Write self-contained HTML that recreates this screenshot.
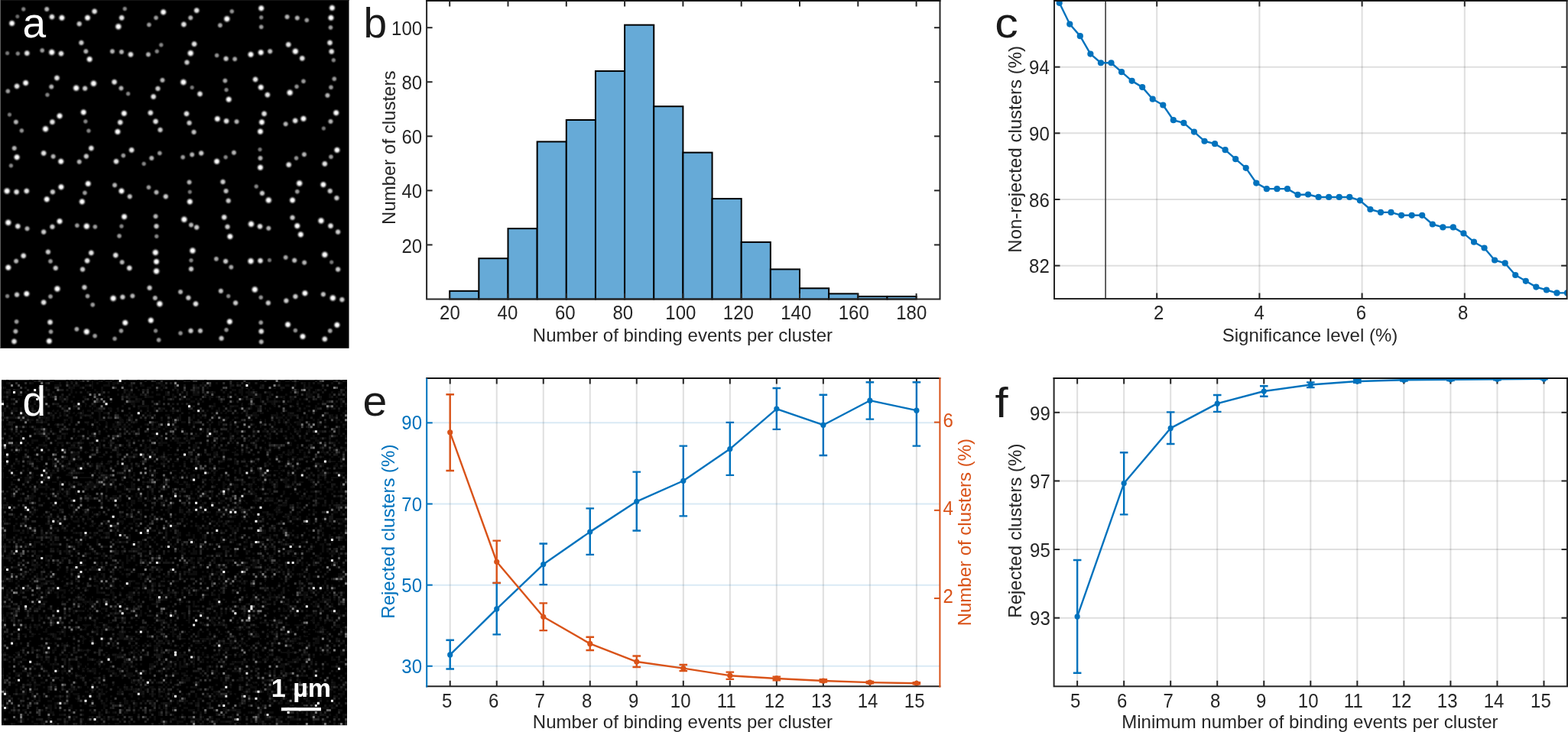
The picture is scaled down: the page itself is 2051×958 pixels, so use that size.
<!DOCTYPE html>
<html><head><meta charset="utf-8"><title>Figure</title>
<style>html,body{margin:0;padding:0;background:#fff;overflow:hidden}svg{display:block}</style></head>
<body><svg width="2051" height="958" viewBox="0 0 2051 958" font-family="'Liberation Sans', Arial, Helvetica, sans-serif">
<rect width="2051" height="958" fill="#fff"/>
<rect x="0" y="0" width="456.5" height="455.8" fill="#000"/>
<rect x="0" y="0" width="456.5" height="1" fill="#151515"/>
<rect x="0" y="0" width="1" height="455.8" fill="#5f5f5f"/>
<g fill="url(#dotg)">
<circle cx="30.73" cy="12" r="4.2" opacity="0.53"/>
<circle cx="22.81" cy="21.61" r="3.95" opacity="0.43"/>
<circle cx="15.61" cy="30.49" r="5.45" opacity="1"/>
<circle cx="61.22" cy="12" r="4.7" opacity="0.72"/>
<circle cx="67.94" cy="22.09" r="5.2" opacity="0.91"/>
<circle cx="80.91" cy="23.29" r="5.45" opacity="1"/>
<circle cx="103.72" cy="31.21" r="4.95" opacity="0.81"/>
<circle cx="114.52" cy="23.29" r="5.45" opacity="1"/>
<circle cx="123.64" cy="14.89" r="5.2" opacity="0.91"/>
<circle cx="163.26" cy="11.52" r="4.2" opacity="0.53"/>
<circle cx="159.18" cy="23.29" r="5.2" opacity="0.91"/>
<circle cx="154.85" cy="34.81" r="5.7" opacity="1"/>
<circle cx="213.67" cy="15.85" r="5.45" opacity="1"/>
<circle cx="204.07" cy="23.29" r="4.45" opacity="0.62"/>
<circle cx="194.95" cy="32.41" r="4.45" opacity="0.62"/>
<circle cx="9.6" cy="69.62" r="4.08" opacity="0.48"/>
<circle cx="23.29" cy="70.1" r="4.2" opacity="0.53"/>
<circle cx="35.29" cy="69.62" r="5.2" opacity="0.91"/>
<circle cx="55.22" cy="66.02" r="4.45" opacity="0.62"/>
<circle cx="67.7" cy="68.42" r="5.7" opacity="1"/>
<circle cx="79.95" cy="70.1" r="5.2" opacity="0.91"/>
<circle cx="106.36" cy="55.94" r="4.95" opacity="0.81"/>
<circle cx="112.36" cy="67.22" r="4.7" opacity="0.72"/>
<circle cx="117.16" cy="77.55" r="5.45" opacity="1"/>
<circle cx="146.93" cy="67.22" r="4.7" opacity="0.72"/>
<circle cx="158.94" cy="67.94" r="4.7" opacity="0.72"/>
<circle cx="170.94" cy="71.3" r="5.2" opacity="0.91"/>
<circle cx="210.79" cy="58.82" r="4.2" opacity="0.53"/>
<circle cx="205.27" cy="67.22" r="4.2" opacity="0.53"/>
<circle cx="193.99" cy="71.3" r="4.7" opacity="0.72"/>
<circle cx="10.32" cy="119.32" r="4.45" opacity="0.62"/>
<circle cx="22.09" cy="112.84" r="5.2" opacity="0.91"/>
<circle cx="33.61" cy="108.52" r="5.45" opacity="1"/>
<circle cx="74.43" cy="102.04" r="5.2" opacity="0.91"/>
<circle cx="67.22" cy="113.56" r="4.7" opacity="0.72"/>
<circle cx="61.94" cy="124.12" r="4.2" opacity="0.53"/>
<circle cx="99.63" cy="115.24" r="5.7" opacity="1"/>
<circle cx="111.16" cy="115.72" r="4.95" opacity="0.81"/>
<circle cx="122.44" cy="109.24" r="5.7" opacity="1"/>
<circle cx="149.57" cy="107.32" r="5.2" opacity="0.91"/>
<circle cx="158.46" cy="115.48" r="4.7" opacity="0.72"/>
<circle cx="167.58" cy="122.68" r="4.2" opacity="0.53"/>
<circle cx="212.47" cy="104.92" r="4.7" opacity="0.72"/>
<circle cx="206.47" cy="115.96" r="4.95" opacity="0.81"/>
<circle cx="200.71" cy="126.52" r="5.2" opacity="0.91"/>
<circle cx="12.48" cy="150.05" r="4.08" opacity="0.48"/>
<circle cx="20.89" cy="159.66" r="4.7" opacity="0.72"/>
<circle cx="28.33" cy="170.94" r="4.33" opacity="0.58"/>
<circle cx="59.54" cy="168.78" r="5.7" opacity="1"/>
<circle cx="68.42" cy="159.66" r="5.2" opacity="0.91"/>
<circle cx="78.03" cy="151.73" r="5.45" opacity="1"/>
<circle cx="109.24" cy="146.93" r="5.45" opacity="1"/>
<circle cx="111.88" cy="158.94" r="4.2" opacity="0.53"/>
<circle cx="115.96" cy="171.18" r="4.2" opacity="0.53"/>
<circle cx="162.3" cy="148.37" r="5.45" opacity="1"/>
<circle cx="157.25" cy="160.14" r="5.2" opacity="0.91"/>
<circle cx="153.89" cy="172.38" r="5.45" opacity="1"/>
<circle cx="196.87" cy="147.65" r="5.2" opacity="0.91"/>
<circle cx="203.59" cy="158.94" r="5.2" opacity="0.91"/>
<circle cx="209.59" cy="169.98" r="4.95" opacity="0.81"/>
<circle cx="18.73" cy="193.99" r="4.7" opacity="0.72"/>
<circle cx="22.09" cy="205.75" r="5.45" opacity="1"/>
<circle cx="14.41" cy="216.8" r="4.2" opacity="0.53"/>
<circle cx="57.14" cy="200.47" r="5.2" opacity="0.91"/>
<circle cx="69.62" cy="204.79" r="4.7" opacity="0.72"/>
<circle cx="79.71" cy="211.27" r="5.45" opacity="1"/>
<circle cx="119.32" cy="193.99" r="5.2" opacity="0.91"/>
<circle cx="112.84" cy="204.55" r="4.95" opacity="0.81"/>
<circle cx="103.72" cy="211.75" r="4.7" opacity="0.72"/>
<circle cx="172.14" cy="196.39" r="5.2" opacity="0.91"/>
<circle cx="161.34" cy="203.59" r="4.45" opacity="0.62"/>
<circle cx="151.97" cy="211.27" r="5.2" opacity="0.91"/>
<circle cx="208.87" cy="200.47" r="4.45" opacity="0.62"/>
<circle cx="198.31" cy="206.95" r="4.7" opacity="0.72"/>
<circle cx="188.23" cy="214.39" r="4.2" opacity="0.53"/>
<circle cx="257.21" cy="13.68" r="5.2" opacity="0.91"/>
<circle cx="249.29" cy="23.29" r="4.7" opacity="0.72"/>
<circle cx="240.41" cy="31.93" r="5.2" opacity="0.91"/>
<circle cx="303.31" cy="14.89" r="4.33" opacity="0.58"/>
<circle cx="296.82" cy="24.73" r="5.7" opacity="1"/>
<circle cx="287.94" cy="33.13" r="4.58" opacity="0.67"/>
<circle cx="341.72" cy="10.8" r="5.45" opacity="1"/>
<circle cx="341.72" cy="22.81" r="4.2" opacity="0.53"/>
<circle cx="341.72" cy="35.29" r="4.45" opacity="0.62"/>
<circle cx="375.57" cy="22.09" r="4.7" opacity="0.72"/>
<circle cx="388.78" cy="23.53" r="4.7" opacity="0.72"/>
<circle cx="401.26" cy="26.41" r="4.45" opacity="0.62"/>
<circle cx="434.39" cy="10.32" r="5.45" opacity="1"/>
<circle cx="432.95" cy="23.29" r="5.45" opacity="1"/>
<circle cx="432.47" cy="36.01" r="4.45" opacity="0.62"/>
<circle cx="254.09" cy="57.62" r="5.2" opacity="0.91"/>
<circle cx="249.29" cy="69.62" r="5.7" opacity="1"/>
<circle cx="244.49" cy="81.63" r="4.95" opacity="0.81"/>
<circle cx="283.62" cy="72.51" r="4.33" opacity="0.58"/>
<circle cx="295.62" cy="76.83" r="4.95" opacity="0.81"/>
<circle cx="307.15" cy="77.31" r="4.58" opacity="0.67"/>
<circle cx="328.04" cy="71.3" r="5.45" opacity="1"/>
<circle cx="341.24" cy="68.66" r="5.45" opacity="1"/>
<circle cx="353.24" cy="67.22" r="4.83" opacity="0.77"/>
<circle cx="377.25" cy="58.34" r="5.2" opacity="0.91"/>
<circle cx="386.38" cy="67.22" r="5.7" opacity="1"/>
<circle cx="395.26" cy="76.35" r="5.2" opacity="0.91"/>
<circle cx="431.51" cy="55.94" r="5.2" opacity="0.91"/>
<circle cx="433.67" cy="67.46" r="5.2" opacity="0.91"/>
<circle cx="436.31" cy="78.75" r="4.2" opacity="0.53"/>
<circle cx="239.92" cy="107.56" r="5.7" opacity="1"/>
<circle cx="251.21" cy="114.52" r="4.08" opacity="0.48"/>
<circle cx="261.53" cy="122.92" r="5.2" opacity="0.91"/>
<circle cx="294.42" cy="105.64" r="4.58" opacity="0.67"/>
<circle cx="296.1" cy="117.64" r="4.2" opacity="0.53"/>
<circle cx="299.23" cy="130.13" r="5.45" opacity="1"/>
<circle cx="334.04" cy="103.96" r="5.2" opacity="0.91"/>
<circle cx="341.24" cy="114.28" r="5.45" opacity="1"/>
<circle cx="349.88" cy="124.12" r="5.2" opacity="0.91"/>
<circle cx="396.94" cy="106.36" r="4.45" opacity="0.62"/>
<circle cx="388.06" cy="113.32" r="4.33" opacity="0.58"/>
<circle cx="379.17" cy="121.24" r="5.7" opacity="1"/>
<circle cx="437.27" cy="103.24" r="4.45" opacity="0.62"/>
<circle cx="432.95" cy="114.28" r="4.45" opacity="0.62"/>
<circle cx="428.39" cy="124.84" r="4.7" opacity="0.72"/>
<circle cx="244.01" cy="148.85" r="5.2" opacity="0.91"/>
<circle cx="247.61" cy="160.86" r="4.95" opacity="0.81"/>
<circle cx="253.61" cy="172.86" r="4.83" opacity="0.77"/>
<circle cx="284.34" cy="155.57" r="5.45" opacity="1"/>
<circle cx="296.1" cy="158.46" r="5.2" opacity="0.91"/>
<circle cx="309.55" cy="159.18" r="4.7" opacity="0.72"/>
<circle cx="345.56" cy="148.85" r="5.2" opacity="0.91"/>
<circle cx="342.44" cy="159.9" r="5.45" opacity="1"/>
<circle cx="340.52" cy="172.14" r="5.45" opacity="1"/>
<circle cx="373.65" cy="162.3" r="4.7" opacity="0.72"/>
<circle cx="386.14" cy="157.97" r="5.2" opacity="0.91"/>
<circle cx="396.94" cy="155.33" r="5.45" opacity="1"/>
<circle cx="439.67" cy="147.65" r="5.45" opacity="1"/>
<circle cx="432.47" cy="158.94" r="4.7" opacity="0.72"/>
<circle cx="423.35" cy="168.06" r="4.08" opacity="0.48"/>
<circle cx="239.2" cy="205.75" r="4.45" opacity="0.62"/>
<circle cx="251.21" cy="202.39" r="4.7" opacity="0.72"/>
<circle cx="263.21" cy="200.47" r="4.95" opacity="0.81"/>
<circle cx="283.62" cy="211.27" r="5.45" opacity="1"/>
<circle cx="295.14" cy="205.75" r="4.2" opacity="0.53"/>
<circle cx="305.95" cy="199.75" r="4.7" opacity="0.72"/>
<circle cx="340.04" cy="195.67" r="4.08" opacity="0.48"/>
<circle cx="340.52" cy="206.95" r="4.7" opacity="0.72"/>
<circle cx="340.52" cy="219.2" r="5.45" opacity="1"/>
<circle cx="377.73" cy="215.59" r="5.2" opacity="0.91"/>
<circle cx="387.58" cy="206.95" r="4.33" opacity="0.58"/>
<circle cx="397.9" cy="202.15" r="4.7" opacity="0.72"/>
<circle cx="440.87" cy="196.39" r="5.45" opacity="1"/>
<circle cx="432.95" cy="205.27" r="4.45" opacity="0.62"/>
<circle cx="424.79" cy="214.39" r="5.2" opacity="0.91"/>
<circle cx="9.12" cy="250.01" r="5.7" opacity="1"/>
<circle cx="21.61" cy="251.21" r="5.2" opacity="0.91"/>
<circle cx="34.81" cy="250.01" r="5.2" opacity="0.91"/>
<circle cx="61.22" cy="260.81" r="5.45" opacity="1"/>
<circle cx="68.9" cy="251.21" r="4.95" opacity="0.81"/>
<circle cx="79.95" cy="244.73" r="5.45" opacity="1"/>
<circle cx="115.24" cy="240.41" r="5.45" opacity="1"/>
<circle cx="110.92" cy="252.41" r="4.45" opacity="0.62"/>
<circle cx="107.32" cy="263.93" r="5.45" opacity="1"/>
<circle cx="150.05" cy="242.33" r="4.7" opacity="0.72"/>
<circle cx="158.94" cy="250.01" r="5.45" opacity="1"/>
<circle cx="169.74" cy="257.21" r="4.83" opacity="0.77"/>
<circle cx="194.47" cy="245.21" r="4.45" opacity="0.62"/>
<circle cx="204.55" cy="251.69" r="4.7" opacity="0.72"/>
<circle cx="216.8" cy="257.21" r="4.95" opacity="0.81"/>
<circle cx="10.8" cy="291.3" r="5.7" opacity="1"/>
<circle cx="23.29" cy="296.1" r="5.2" opacity="0.91"/>
<circle cx="35.53" cy="299.23" r="4.7" opacity="0.72"/>
<circle cx="57.14" cy="303.55" r="4.95" opacity="0.81"/>
<circle cx="68.42" cy="296.82" r="4.95" opacity="0.81"/>
<circle cx="78.03" cy="289.62" r="5.45" opacity="1"/>
<circle cx="100.84" cy="295.14" r="4.45" opacity="0.62"/>
<circle cx="113.32" cy="296.1" r="5.7" opacity="1"/>
<circle cx="124.36" cy="296.82" r="4.45" opacity="0.62"/>
<circle cx="162.54" cy="283.62" r="5.45" opacity="1"/>
<circle cx="158.94" cy="296.1" r="4.2" opacity="0.53"/>
<circle cx="156.05" cy="308.83" r="4.45" opacity="0.62"/>
<circle cx="203.59" cy="283.14" r="4.7" opacity="0.72"/>
<circle cx="204.55" cy="296.1" r="4.95" opacity="0.81"/>
<circle cx="204.79" cy="309.31" r="4.2" opacity="0.53"/>
<circle cx="10.8" cy="350.12" r="5.45" opacity="1"/>
<circle cx="21.13" cy="341.72" r="4.7" opacity="0.72"/>
<circle cx="30.73" cy="334.76" r="5.2" opacity="0.91"/>
<circle cx="62.9" cy="329.72" r="4.95" opacity="0.81"/>
<circle cx="66.02" cy="341.96" r="4.45" opacity="0.62"/>
<circle cx="72.75" cy="350.84" r="4.95" opacity="0.81"/>
<circle cx="119.32" cy="330.92" r="5.2" opacity="0.91"/>
<circle cx="114.04" cy="341.24" r="5.2" opacity="0.91"/>
<circle cx="108.04" cy="352.52" r="4.95" opacity="0.81"/>
<circle cx="151.25" cy="334.04" r="5.2" opacity="0.91"/>
<circle cx="159.66" cy="343.16" r="4.7" opacity="0.72"/>
<circle cx="169.26" cy="350.84" r="5.2" opacity="0.91"/>
<circle cx="203.35" cy="330.44" r="5.7" opacity="1"/>
<circle cx="204.55" cy="342.44" r="5.45" opacity="1"/>
<circle cx="204.55" cy="354.92" r="5.7" opacity="1"/>
<circle cx="9.6" cy="387.58" r="4.2" opacity="0.53"/>
<circle cx="22.09" cy="385.66" r="4.95" opacity="0.81"/>
<circle cx="34.81" cy="384.46" r="5.45" opacity="1"/>
<circle cx="74.91" cy="377.97" r="5.7" opacity="1"/>
<circle cx="66.02" cy="388.06" r="4.45" opacity="0.62"/>
<circle cx="57.14" cy="395.74" r="5.2" opacity="0.91"/>
<circle cx="110.44" cy="376.05" r="4.95" opacity="0.81"/>
<circle cx="114.52" cy="387.58" r="4.45" opacity="0.62"/>
<circle cx="121.24" cy="398.86" r="4.45" opacity="0.62"/>
<circle cx="148.13" cy="390.46" r="5.7" opacity="1"/>
<circle cx="160.38" cy="388.78" r="4.95" opacity="0.81"/>
<circle cx="173.34" cy="387.34" r="4.7" opacity="0.72"/>
<circle cx="195.67" cy="376.77" r="4.95" opacity="0.81"/>
<circle cx="202.87" cy="389.98" r="4.7" opacity="0.72"/>
<circle cx="208.87" cy="397.66" r="5.7" opacity="1"/>
<circle cx="21.61" cy="420.95" r="4.45" opacity="0.62"/>
<circle cx="20.41" cy="433.67" r="4.7" opacity="0.72"/>
<circle cx="18.49" cy="446.88" r="5.2" opacity="0.91"/>
<circle cx="65.54" cy="421.67" r="5.2" opacity="0.91"/>
<circle cx="66.5" cy="434.15" r="4.45" opacity="0.62"/>
<circle cx="64.34" cy="446.4" r="5.45" opacity="1"/>
<circle cx="100.35" cy="430.79" r="4.58" opacity="0.67"/>
<circle cx="113.32" cy="434.15" r="5.7" opacity="1"/>
<circle cx="124.12" cy="439.67" r="4.45" opacity="0.62"/>
<circle cx="163.74" cy="422.39" r="5.45" opacity="1"/>
<circle cx="158.46" cy="432.95" r="4.45" opacity="0.62"/>
<circle cx="150.05" cy="443.28" r="4.33" opacity="0.58"/>
<circle cx="197.35" cy="419.27" r="5.45" opacity="1"/>
<circle cx="203.59" cy="432.95" r="4.2" opacity="0.53"/>
<circle cx="207.67" cy="444.96" r="4.45" opacity="0.62"/>
<circle cx="247.61" cy="238.48" r="4.7" opacity="0.72"/>
<circle cx="248.33" cy="251.21" r="4.08" opacity="0.48"/>
<circle cx="248.33" cy="263.93" r="5.45" opacity="1"/>
<circle cx="291.54" cy="238" r="4.95" opacity="0.81"/>
<circle cx="295.62" cy="250.01" r="4.83" opacity="0.77"/>
<circle cx="298.75" cy="262.73" r="4.95" opacity="0.81"/>
<circle cx="335.24" cy="244.01" r="4.2" opacity="0.53"/>
<circle cx="342.92" cy="252.89" r="4.95" opacity="0.81"/>
<circle cx="351.32" cy="262.01" r="5.7" opacity="1"/>
<circle cx="391.66" cy="239.92" r="5.7" opacity="1"/>
<circle cx="388.78" cy="250.73" r="4.45" opacity="0.62"/>
<circle cx="382.53" cy="262.01" r="5.45" opacity="1"/>
<circle cx="422.87" cy="241.61" r="5.45" opacity="1"/>
<circle cx="431.75" cy="250.01" r="4.95" opacity="0.81"/>
<circle cx="440.39" cy="259.13" r="4.95" opacity="0.81"/>
<circle cx="240.89" cy="287.22" r="5.7" opacity="1"/>
<circle cx="250.01" cy="294.42" r="4.7" opacity="0.72"/>
<circle cx="257.21" cy="297.54" r="4.95" opacity="0.81"/>
<circle cx="293.22" cy="284.34" r="5.2" opacity="0.91"/>
<circle cx="297.54" cy="296.82" r="4.95" opacity="0.81"/>
<circle cx="300.91" cy="309.55" r="5.45" opacity="1"/>
<circle cx="328.52" cy="293.22" r="5.7" opacity="1"/>
<circle cx="340.04" cy="296.34" r="5.2" opacity="0.91"/>
<circle cx="351.32" cy="298.75" r="4.7" opacity="0.72"/>
<circle cx="382.53" cy="284.82" r="4.95" opacity="0.81"/>
<circle cx="388.78" cy="295.62" r="5.45" opacity="1"/>
<circle cx="393.34" cy="306.91" r="5.45" opacity="1"/>
<circle cx="419.99" cy="288.9" r="5.7" opacity="1"/>
<circle cx="432.47" cy="295.62" r="5.2" opacity="0.91"/>
<circle cx="442.08" cy="303.55" r="4.95" opacity="0.81"/>
<circle cx="251.93" cy="328.04" r="5.7" opacity="1"/>
<circle cx="250.01" cy="340.76" r="4.2" opacity="0.53"/>
<circle cx="250.01" cy="352.04" r="4.95" opacity="0.81"/>
<circle cx="282.9" cy="338.84" r="4.58" opacity="0.67"/>
<circle cx="295.14" cy="341.96" r="4.95" opacity="0.81"/>
<circle cx="302.35" cy="349.64" r="4.58" opacity="0.67"/>
<circle cx="328.04" cy="341.72" r="5.7" opacity="1"/>
<circle cx="340.52" cy="341.24" r="5.2" opacity="0.91"/>
<circle cx="352.52" cy="340.52" r="4.08" opacity="0.48"/>
<circle cx="373.65" cy="336.92" r="4.58" opacity="0.67"/>
<circle cx="385.18" cy="340.76" r="4.83" opacity="0.77"/>
<circle cx="398.14" cy="343.64" r="4.7" opacity="0.72"/>
<circle cx="424.79" cy="333.32" r="5.7" opacity="1"/>
<circle cx="433.67" cy="343.16" r="4.08" opacity="0.48"/>
<circle cx="442.08" cy="352.52" r="4.95" opacity="0.81"/>
<circle cx="236.08" cy="382.05" r="4.7" opacity="0.72"/>
<circle cx="246.41" cy="389.74" r="4.95" opacity="0.81"/>
<circle cx="256.01" cy="397.66" r="5.2" opacity="0.91"/>
<circle cx="288.9" cy="380.85" r="4.83" opacity="0.77"/>
<circle cx="298.75" cy="387.58" r="4.2" opacity="0.53"/>
<circle cx="308.11" cy="396.46" r="4.95" opacity="0.81"/>
<circle cx="333.32" cy="378.93" r="5.7" opacity="1"/>
<circle cx="341.24" cy="389.26" r="4.33" opacity="0.58"/>
<circle cx="350.84" cy="396.46" r="4.95" opacity="0.81"/>
<circle cx="374.37" cy="393.58" r="4.95" opacity="0.81"/>
<circle cx="386.38" cy="388.06" r="4.95" opacity="0.81"/>
<circle cx="398.86" cy="383.73" r="5.45" opacity="1"/>
<circle cx="422.87" cy="385.18" r="4.83" opacity="0.77"/>
<circle cx="435.35" cy="389.98" r="5.7" opacity="1"/>
<circle cx="447.36" cy="392.14" r="4.95" opacity="0.81"/>
<circle cx="236.08" cy="436.07" r="4.33" opacity="0.58"/>
<circle cx="249.53" cy="432.95" r="4.95" opacity="0.81"/>
<circle cx="262.01" cy="432.95" r="4.83" opacity="0.77"/>
<circle cx="300.43" cy="420.95" r="5.45" opacity="1"/>
<circle cx="296.1" cy="431.75" r="4.33" opacity="0.58"/>
<circle cx="289.62" cy="442.8" r="4.95" opacity="0.81"/>
<circle cx="341.24" cy="422.15" r="4.45" opacity="0.62"/>
<circle cx="341.72" cy="433.67" r="5.2" opacity="0.91"/>
<circle cx="341.72" cy="447.36" r="4.7" opacity="0.72"/>
<circle cx="376.53" cy="424.79" r="5.45" opacity="1"/>
<circle cx="386.38" cy="432.47" r="4.33" opacity="0.58"/>
<circle cx="395.98" cy="440.39" r="5.45" opacity="1"/>
<circle cx="440.87" cy="425.27" r="5.45" opacity="1"/>
<circle cx="431.75" cy="432.95" r="4.58" opacity="0.67"/>
<circle cx="424.79" cy="443.76" r="5.2" opacity="0.91"/>
</g>
<text x="29.6" y="49" font-size="55" text-anchor="start" fill="#fff">a</text>
<rect x="2" y="497.2" width="452" height="452" fill="#000"/>
<g transform="translate(2 497) scale(3.01333)" filter="url(#blurd)">
<path fill="rgb(4,4,4)" d="M2 0h1v1h-1zM12 0h1v1h-1zM49 0h1v1h-1zM54 0h1v1h-1zM59 0h1v1h-1zM88 0h1v1h-1zM45 1h1v1h-1zM82 1h1v1h-1zM100 1h1v1h-1zM105 1h1v1h-1zM51 2h1v1h-1zM66 2h1v1h-1zM122 2h1v1h-1zM21 3h1v1h-1zM45 3h1v1h-1zM137 3h1v1h-1zM4 4h1v1h-1zM48 4h1v1h-1zM99 4h1v1h-1zM120 4h1v1h-1zM149 4h1v1h-1zM12 5h1v1h-1zM24 5h1v1h-1zM51 5h1v1h-1zM62 5h1v1h-1zM95 5h1v1h-1zM1 6h1v1h-1zM45 6h1v1h-1zM65 6h1v1h-1zM90 6h1v1h-1zM45 7h1v1h-1zM59 7h1v1h-1zM72 7h1v1h-1zM86 7h1v1h-1zM53 8h1v1h-1zM69 8h1v1h-1zM116 8h1v1h-1zM130 8h1v1h-1zM141 8h1v1h-1zM149 8h1v1h-1zM10 9h1v1h-1zM16 9h1v1h-1zM67 9h1v1h-1zM93 9h1v1h-1zM106 9h1v1h-1zM37 10h1v1h-1zM49 10h1v1h-1zM54 10h1v1h-1zM86 10h1v1h-1zM100 10h1v1h-1zM102 10h1v1h-1zM129 10h1v1h-1zM3 11h1v1h-1zM39 11h1v1h-1zM84 11h1v1h-1zM117 11h1v1h-1zM124 11h1v1h-1zM144 11h1v1h-1zM20 12h1v1h-1zM22 12h1v1h-1zM34 12h1v1h-1zM35 12h1v1h-1zM48 12h1v1h-1zM51 12h1v1h-1zM52 12h1v1h-1zM54 12h1v1h-1zM7 13h1v1h-1zM34 13h1v1h-1zM53 13h1v1h-1zM72 13h1v1h-1zM107 13h1v1h-1zM109 13h1v1h-1zM72 14h1v1h-1zM77 14h1v1h-1zM117 14h1v1h-1zM13 15h1v1h-1zM31 15h1v1h-1zM47 15h1v1h-1zM48 15h1v1h-1zM82 15h1v1h-1zM120 15h1v1h-1zM146 15h1v1h-1zM0 16h1v1h-1zM25 16h1v1h-1zM41 16h1v1h-1zM63 16h1v1h-1zM131 16h1v1h-1zM140 16h1v1h-1zM29 17h1v1h-1zM32 17h1v1h-1zM37 17h1v1h-1zM38 17h1v1h-1zM47 17h1v1h-1zM98 17h1v1h-1zM126 17h1v1h-1zM132 17h1v1h-1zM9 18h1v1h-1zM20 18h1v1h-1zM26 18h1v1h-1zM42 18h1v1h-1zM119 18h1v1h-1zM121 18h1v1h-1zM139 18h1v1h-1zM10 19h1v1h-1zM33 19h1v1h-1zM64 19h1v1h-1zM77 19h1v1h-1zM80 19h1v1h-1zM122 19h1v1h-1zM21 20h1v1h-1zM59 20h1v1h-1zM64 20h1v1h-1zM78 20h1v1h-1zM79 20h1v1h-1zM91 20h1v1h-1zM103 20h1v1h-1zM119 20h1v1h-1zM2 21h1v1h-1zM22 21h1v1h-1zM46 22h1v1h-1zM83 22h1v1h-1zM85 22h1v1h-1zM97 22h1v1h-1zM124 22h1v1h-1zM143 22h1v1h-1zM145 22h1v1h-1zM148 22h1v1h-1zM9 23h1v1h-1zM68 23h1v1h-1zM72 23h1v1h-1zM75 23h1v1h-1zM78 23h1v1h-1zM83 23h1v1h-1zM139 23h1v1h-1zM147 23h1v1h-1zM43 24h1v1h-1zM6 25h1v1h-1zM46 25h1v1h-1zM55 25h1v1h-1zM62 25h1v1h-1zM72 25h1v1h-1zM73 25h1v1h-1zM88 25h1v1h-1zM127 25h1v1h-1zM7 26h1v1h-1zM22 26h1v1h-1zM70 26h1v1h-1zM78 26h1v1h-1zM79 26h1v1h-1zM115 26h1v1h-1zM130 26h1v1h-1zM131 26h1v1h-1zM144 26h1v1h-1zM15 27h1v1h-1zM16 27h1v1h-1zM129 27h1v1h-1zM136 27h1v1h-1zM11 28h1v1h-1zM74 28h1v1h-1zM75 28h1v1h-1zM85 28h1v1h-1zM36 29h1v1h-1zM75 29h1v1h-1zM121 29h1v1h-1zM127 29h1v1h-1zM146 29h1v1h-1zM9 30h1v1h-1zM21 30h1v1h-1zM28 30h1v1h-1zM33 30h1v1h-1zM101 30h1v1h-1zM105 30h1v1h-1zM118 30h1v1h-1zM19 31h1v1h-1zM59 31h1v1h-1zM79 31h1v1h-1zM49 32h1v1h-1zM55 32h1v1h-1zM68 32h1v1h-1zM99 32h1v1h-1zM112 32h1v1h-1zM14 33h1v1h-1zM39 33h1v1h-1zM72 33h1v1h-1zM100 33h1v1h-1zM124 33h1v1h-1zM56 34h1v1h-1zM68 34h1v1h-1zM78 34h1v1h-1zM81 34h1v1h-1zM127 34h1v1h-1zM136 34h1v1h-1zM19 35h1v1h-1zM33 35h1v1h-1zM49 35h1v1h-1zM56 35h1v1h-1zM86 35h1v1h-1zM118 35h1v1h-1zM130 35h1v1h-1zM33 36h1v1h-1zM38 36h1v1h-1zM83 36h1v1h-1zM115 36h1v1h-1zM126 36h1v1h-1zM149 36h1v1h-1zM19 37h1v1h-1zM63 37h1v1h-1zM100 37h1v1h-1zM102 37h1v1h-1zM129 37h1v1h-1zM146 37h1v1h-1zM3 38h1v1h-1zM8 38h1v1h-1zM51 38h1v1h-1zM57 38h1v1h-1zM130 38h1v1h-1zM54 39h1v1h-1zM69 39h1v1h-1zM80 39h1v1h-1zM114 39h1v1h-1zM123 39h1v1h-1zM130 39h1v1h-1zM140 39h1v1h-1zM144 39h1v1h-1zM17 40h1v1h-1zM24 40h1v1h-1zM28 40h1v1h-1zM56 40h1v1h-1zM51 41h1v1h-1zM69 41h1v1h-1zM86 41h1v1h-1zM114 41h1v1h-1zM119 41h1v1h-1zM120 41h1v1h-1zM16 42h1v1h-1zM81 42h1v1h-1zM100 42h1v1h-1zM147 42h1v1h-1zM3 43h1v1h-1zM15 43h1v1h-1zM75 43h1v1h-1zM93 43h1v1h-1zM108 43h1v1h-1zM115 43h1v1h-1zM125 43h1v1h-1zM12 44h1v1h-1zM14 44h1v1h-1zM19 44h1v1h-1zM57 44h1v1h-1zM84 44h1v1h-1zM121 44h1v1h-1zM15 45h1v1h-1zM53 45h1v1h-1zM79 45h1v1h-1zM89 45h1v1h-1zM91 45h1v1h-1zM98 45h1v1h-1zM114 45h1v1h-1zM116 45h1v1h-1zM27 46h1v1h-1zM29 46h1v1h-1zM62 46h1v1h-1zM79 46h1v1h-1zM117 46h1v1h-1zM6 47h1v1h-1zM47 47h1v1h-1zM140 47h1v1h-1zM19 48h1v1h-1zM21 48h1v1h-1zM44 48h1v1h-1zM125 48h1v1h-1zM140 48h1v1h-1zM49 49h1v1h-1zM67 49h1v1h-1zM90 49h1v1h-1zM92 49h1v1h-1zM118 49h1v1h-1zM133 49h1v1h-1zM147 49h1v1h-1zM148 49h1v1h-1zM21 50h1v1h-1zM33 50h1v1h-1zM50 50h1v1h-1zM71 50h1v1h-1zM109 50h1v1h-1zM123 50h1v1h-1zM4 51h1v1h-1zM9 51h1v1h-1zM64 51h1v1h-1zM67 51h1v1h-1zM76 51h1v1h-1zM104 51h1v1h-1zM106 51h1v1h-1zM109 51h1v1h-1zM26 52h1v1h-1zM104 52h1v1h-1zM41 53h1v1h-1zM139 53h1v1h-1zM141 53h1v1h-1zM11 54h1v1h-1zM74 54h1v1h-1zM118 54h1v1h-1zM95 55h1v1h-1zM122 55h1v1h-1zM148 55h1v1h-1zM6 56h1v1h-1zM12 56h1v1h-1zM53 56h1v1h-1zM80 56h1v1h-1zM114 56h1v1h-1zM128 56h1v1h-1zM140 56h1v1h-1zM142 56h1v1h-1zM0 57h1v1h-1zM5 57h1v1h-1zM6 57h1v1h-1zM58 57h1v1h-1zM76 57h1v1h-1zM126 57h1v1h-1zM1 58h1v1h-1zM14 58h1v1h-1zM64 58h1v1h-1zM77 58h1v1h-1zM92 58h1v1h-1zM94 58h1v1h-1zM103 58h1v1h-1zM136 58h1v1h-1zM3 59h1v1h-1zM8 59h1v1h-1zM33 59h1v1h-1zM45 59h1v1h-1zM58 59h1v1h-1zM82 59h1v1h-1zM103 59h1v1h-1zM108 59h1v1h-1zM121 59h1v1h-1zM40 60h1v1h-1zM46 60h1v1h-1zM48 60h1v1h-1zM5 61h1v1h-1zM6 61h1v1h-1zM42 61h1v1h-1zM55 61h1v1h-1zM70 61h1v1h-1zM93 61h1v1h-1zM117 61h1v1h-1zM120 61h1v1h-1zM134 61h1v1h-1zM35 62h1v1h-1zM69 62h1v1h-1zM79 62h1v1h-1zM116 62h1v1h-1zM2 63h1v1h-1zM20 63h1v1h-1zM55 63h1v1h-1zM88 63h1v1h-1zM123 63h1v1h-1zM29 64h1v1h-1zM39 64h1v1h-1zM79 64h1v1h-1zM84 64h1v1h-1zM122 64h1v1h-1zM140 64h1v1h-1zM25 65h1v1h-1zM40 65h1v1h-1zM79 65h1v1h-1zM84 65h1v1h-1zM103 65h1v1h-1zM108 65h1v1h-1zM119 65h1v1h-1zM145 65h1v1h-1zM15 66h1v1h-1zM18 66h1v1h-1zM22 66h1v1h-1zM23 66h1v1h-1zM42 66h1v1h-1zM57 66h1v1h-1zM58 66h1v1h-1zM67 66h1v1h-1zM104 66h1v1h-1zM118 66h1v1h-1zM2 67h1v1h-1zM15 67h1v1h-1zM27 67h1v1h-1zM32 67h1v1h-1zM39 67h1v1h-1zM56 67h1v1h-1zM69 67h1v1h-1zM29 68h1v1h-1zM80 68h1v1h-1zM123 68h1v1h-1zM133 68h1v1h-1zM134 68h1v1h-1zM1 69h1v1h-1zM25 69h1v1h-1zM35 69h1v1h-1zM89 69h1v1h-1zM110 69h1v1h-1zM142 69h1v1h-1zM4 70h1v1h-1zM26 70h1v1h-1zM35 70h1v1h-1zM40 70h1v1h-1zM124 70h1v1h-1zM125 70h1v1h-1zM20 71h1v1h-1zM38 71h1v1h-1zM49 71h1v1h-1zM61 71h1v1h-1zM72 71h1v1h-1zM96 71h1v1h-1zM112 71h1v1h-1zM135 71h1v1h-1zM4 72h1v1h-1zM36 72h1v1h-1zM46 72h1v1h-1zM103 72h1v1h-1zM107 72h1v1h-1zM109 72h1v1h-1zM121 72h1v1h-1zM133 72h1v1h-1zM3 73h1v1h-1zM41 73h1v1h-1zM106 73h1v1h-1zM31 74h1v1h-1zM79 74h1v1h-1zM103 74h1v1h-1zM115 74h1v1h-1zM127 74h1v1h-1zM146 74h1v1h-1zM104 75h1v1h-1zM4 76h1v1h-1zM83 76h1v1h-1zM123 76h1v1h-1zM139 76h1v1h-1zM11 77h1v1h-1zM30 77h1v1h-1zM37 77h1v1h-1zM48 77h1v1h-1zM58 77h1v1h-1zM81 77h1v1h-1zM89 77h1v1h-1zM125 77h1v1h-1zM31 78h1v1h-1zM44 78h1v1h-1zM58 78h1v1h-1zM93 78h1v1h-1zM107 78h1v1h-1zM53 79h1v1h-1zM55 79h1v1h-1zM87 79h1v1h-1zM122 79h1v1h-1zM131 79h1v1h-1zM149 79h1v1h-1zM23 80h1v1h-1zM29 80h1v1h-1zM46 80h1v1h-1zM55 80h1v1h-1zM71 80h1v1h-1zM73 80h1v1h-1zM137 80h1v1h-1zM21 81h1v1h-1zM27 81h1v1h-1zM50 81h1v1h-1zM63 81h1v1h-1zM69 81h1v1h-1zM102 81h1v1h-1zM104 81h1v1h-1zM144 81h1v1h-1zM6 82h1v1h-1zM21 82h1v1h-1zM22 82h1v1h-1zM72 82h1v1h-1zM77 82h1v1h-1zM98 82h1v1h-1zM127 82h1v1h-1zM50 83h1v1h-1zM66 83h1v1h-1zM92 83h1v1h-1zM121 83h1v1h-1zM127 83h1v1h-1zM133 83h1v1h-1zM142 83h1v1h-1zM66 84h1v1h-1zM120 84h1v1h-1zM137 84h1v1h-1zM3 85h1v1h-1zM50 85h1v1h-1zM51 85h1v1h-1zM55 85h1v1h-1zM75 85h1v1h-1zM80 85h1v1h-1zM85 85h1v1h-1zM95 85h1v1h-1zM116 85h1v1h-1zM10 86h1v1h-1zM55 86h1v1h-1zM64 86h1v1h-1zM71 86h1v1h-1zM129 86h1v1h-1zM17 87h1v1h-1zM58 87h1v1h-1zM71 87h1v1h-1zM99 87h1v1h-1zM101 87h1v1h-1zM119 87h1v1h-1zM126 87h1v1h-1zM127 87h1v1h-1zM133 87h1v1h-1zM148 87h1v1h-1zM7 88h1v1h-1zM39 88h1v1h-1zM63 88h1v1h-1zM82 88h1v1h-1zM100 88h1v1h-1zM145 88h1v1h-1zM147 88h1v1h-1zM18 89h1v1h-1zM26 89h1v1h-1zM29 89h1v1h-1zM34 89h1v1h-1zM121 89h1v1h-1zM39 90h1v1h-1zM118 90h1v1h-1zM46 91h1v1h-1zM113 91h1v1h-1zM0 92h1v1h-1zM4 92h1v1h-1zM13 92h1v1h-1zM14 92h1v1h-1zM32 92h1v1h-1zM40 92h1v1h-1zM58 92h1v1h-1zM62 92h1v1h-1zM70 92h1v1h-1zM99 92h1v1h-1zM107 92h1v1h-1zM133 92h1v1h-1zM3 93h1v1h-1zM17 93h1v1h-1zM20 93h1v1h-1zM21 93h1v1h-1zM30 93h1v1h-1zM38 93h1v1h-1zM63 93h1v1h-1zM93 93h1v1h-1zM95 93h1v1h-1zM14 94h1v1h-1zM31 94h1v1h-1zM52 94h1v1h-1zM59 94h1v1h-1zM76 94h1v1h-1zM90 94h1v1h-1zM105 94h1v1h-1zM114 94h1v1h-1zM137 94h1v1h-1zM1 95h1v1h-1zM7 95h1v1h-1zM113 95h1v1h-1zM126 95h1v1h-1zM136 95h1v1h-1zM5 96h1v1h-1zM15 96h1v1h-1zM75 96h1v1h-1zM119 96h1v1h-1zM131 96h1v1h-1zM143 96h1v1h-1zM4 97h1v1h-1zM24 97h1v1h-1zM43 97h1v1h-1zM81 97h1v1h-1zM96 97h1v1h-1zM102 97h1v1h-1zM38 98h1v1h-1zM41 98h1v1h-1zM44 98h1v1h-1zM65 98h1v1h-1zM88 98h1v1h-1zM97 98h1v1h-1zM120 98h1v1h-1zM31 99h1v1h-1zM42 99h1v1h-1zM83 99h1v1h-1zM123 99h1v1h-1zM147 99h1v1h-1zM0 100h1v1h-1zM1 100h1v1h-1zM26 100h1v1h-1zM30 100h1v1h-1zM47 100h1v1h-1zM61 100h1v1h-1zM113 100h1v1h-1zM1 101h1v1h-1zM18 101h1v1h-1zM29 101h1v1h-1zM82 101h1v1h-1zM118 101h1v1h-1zM130 101h1v1h-1zM140 101h1v1h-1zM54 102h1v1h-1zM75 102h1v1h-1zM118 102h1v1h-1zM120 102h1v1h-1zM26 103h1v1h-1zM45 103h1v1h-1zM65 103h1v1h-1zM82 103h1v1h-1zM108 103h1v1h-1zM122 103h1v1h-1zM137 103h1v1h-1zM149 103h1v1h-1zM14 104h1v1h-1zM32 104h1v1h-1zM38 104h1v1h-1zM60 104h1v1h-1zM86 104h1v1h-1zM139 104h1v1h-1zM144 104h1v1h-1zM1 105h1v1h-1zM10 105h1v1h-1zM12 105h1v1h-1zM16 105h1v1h-1zM45 105h1v1h-1zM56 105h1v1h-1zM75 105h1v1h-1zM98 105h1v1h-1zM103 105h1v1h-1zM117 105h1v1h-1zM2 106h1v1h-1zM27 106h1v1h-1zM57 106h1v1h-1zM60 106h1v1h-1zM80 106h1v1h-1zM91 106h1v1h-1zM106 106h1v1h-1zM118 106h1v1h-1zM126 106h1v1h-1zM139 106h1v1h-1zM140 106h1v1h-1zM19 107h1v1h-1zM37 107h1v1h-1zM63 107h1v1h-1zM69 107h1v1h-1zM80 107h1v1h-1zM125 107h1v1h-1zM129 107h1v1h-1zM147 107h1v1h-1zM4 108h1v1h-1zM22 108h1v1h-1zM33 108h1v1h-1zM85 108h1v1h-1zM104 108h1v1h-1zM136 108h1v1h-1zM143 108h1v1h-1zM7 109h1v1h-1zM17 109h1v1h-1zM115 109h1v1h-1zM128 109h1v1h-1zM143 109h1v1h-1zM144 109h1v1h-1zM148 109h1v1h-1zM44 110h1v1h-1zM97 110h1v1h-1zM114 110h1v1h-1zM131 110h1v1h-1zM141 110h1v1h-1zM18 111h1v1h-1zM128 111h1v1h-1zM147 111h1v1h-1zM2 112h1v1h-1zM73 112h1v1h-1zM93 112h1v1h-1zM115 112h1v1h-1zM125 112h1v1h-1zM0 113h1v1h-1zM14 113h1v1h-1zM20 113h1v1h-1zM28 113h1v1h-1zM59 113h1v1h-1zM129 113h1v1h-1zM133 113h1v1h-1zM135 113h1v1h-1zM138 113h1v1h-1zM33 114h1v1h-1zM78 114h1v1h-1zM140 114h1v1h-1zM31 115h1v1h-1zM115 115h1v1h-1zM120 115h1v1h-1zM134 115h1v1h-1zM145 115h1v1h-1zM19 116h1v1h-1zM25 116h1v1h-1zM28 116h1v1h-1zM29 116h1v1h-1zM80 116h1v1h-1zM93 116h1v1h-1zM111 116h1v1h-1zM131 116h1v1h-1zM60 117h1v1h-1zM95 117h1v1h-1zM106 117h1v1h-1zM121 117h1v1h-1zM126 117h1v1h-1zM15 118h1v1h-1zM21 118h1v1h-1zM34 118h1v1h-1zM35 118h1v1h-1zM59 118h1v1h-1zM93 118h1v1h-1zM100 118h1v1h-1zM103 118h1v1h-1zM138 118h1v1h-1zM6 119h1v1h-1zM24 119h1v1h-1zM47 119h1v1h-1zM74 119h1v1h-1zM90 119h1v1h-1zM127 119h1v1h-1zM9 120h1v1h-1zM38 120h1v1h-1zM64 120h1v1h-1zM71 120h1v1h-1zM80 120h1v1h-1zM90 120h1v1h-1zM92 120h1v1h-1zM21 121h1v1h-1zM45 121h1v1h-1zM51 121h1v1h-1zM61 121h1v1h-1zM67 121h1v1h-1zM80 121h1v1h-1zM57 122h1v1h-1zM107 122h1v1h-1zM4 123h1v1h-1zM26 123h1v1h-1zM46 123h1v1h-1zM70 123h1v1h-1zM82 123h1v1h-1zM142 123h1v1h-1zM6 124h1v1h-1zM40 124h1v1h-1zM43 124h1v1h-1zM46 124h1v1h-1zM58 124h1v1h-1zM88 124h1v1h-1zM112 124h1v1h-1zM115 124h1v1h-1zM6 125h1v1h-1zM8 125h1v1h-1zM36 125h1v1h-1zM56 125h1v1h-1zM73 125h1v1h-1zM78 125h1v1h-1zM95 125h1v1h-1zM149 125h1v1h-1zM1 126h1v1h-1zM41 126h1v1h-1zM53 126h1v1h-1zM55 126h1v1h-1zM77 126h1v1h-1zM88 126h1v1h-1zM112 126h1v1h-1zM123 126h1v1h-1zM25 127h1v1h-1zM45 127h1v1h-1zM63 127h1v1h-1zM70 127h1v1h-1zM71 127h1v1h-1zM83 127h1v1h-1zM85 127h1v1h-1zM89 127h1v1h-1zM129 127h1v1h-1zM132 127h1v1h-1zM137 127h1v1h-1zM145 127h1v1h-1zM9 128h1v1h-1zM23 128h1v1h-1zM40 128h1v1h-1zM90 128h1v1h-1zM139 128h1v1h-1zM39 129h1v1h-1zM66 129h1v1h-1zM107 129h1v1h-1zM123 129h1v1h-1zM137 129h1v1h-1zM144 129h1v1h-1zM0 130h1v1h-1zM24 130h1v1h-1zM45 130h1v1h-1zM52 130h1v1h-1zM53 130h1v1h-1zM83 130h1v1h-1zM85 130h1v1h-1zM112 130h1v1h-1zM130 130h1v1h-1zM131 130h1v1h-1zM28 131h1v1h-1zM34 131h1v1h-1zM72 131h1v1h-1zM80 131h1v1h-1zM100 131h1v1h-1zM141 131h1v1h-1zM1 132h1v1h-1zM7 132h1v1h-1zM13 132h1v1h-1zM34 132h1v1h-1zM80 132h1v1h-1zM115 132h1v1h-1zM120 132h1v1h-1zM138 132h1v1h-1zM4 133h1v1h-1zM15 133h1v1h-1zM16 133h1v1h-1zM28 133h1v1h-1zM58 133h1v1h-1zM66 133h1v1h-1zM125 133h1v1h-1zM135 133h1v1h-1zM34 134h1v1h-1zM81 134h1v1h-1zM100 134h1v1h-1zM128 134h1v1h-1zM15 135h1v1h-1zM19 135h1v1h-1zM22 135h1v1h-1zM81 135h1v1h-1zM96 135h1v1h-1zM125 135h1v1h-1zM17 136h1v1h-1zM25 136h1v1h-1zM82 136h1v1h-1zM103 136h1v1h-1zM121 136h1v1h-1zM142 136h1v1h-1zM37 137h1v1h-1zM64 137h1v1h-1zM101 137h1v1h-1zM115 137h1v1h-1zM117 137h1v1h-1zM124 137h1v1h-1zM132 137h1v1h-1zM138 137h1v1h-1zM27 138h1v1h-1zM34 138h1v1h-1zM41 138h1v1h-1zM46 138h1v1h-1zM52 138h1v1h-1zM71 138h1v1h-1zM87 138h1v1h-1zM118 138h1v1h-1zM136 138h1v1h-1zM141 138h1v1h-1zM55 139h1v1h-1zM94 139h1v1h-1zM100 139h1v1h-1zM110 139h1v1h-1zM120 139h1v1h-1zM18 140h1v1h-1zM78 140h1v1h-1zM87 140h1v1h-1zM106 140h1v1h-1zM131 140h1v1h-1zM139 140h1v1h-1zM145 140h1v1h-1zM79 141h1v1h-1zM88 141h1v1h-1zM122 141h1v1h-1zM137 141h1v1h-1zM148 141h1v1h-1zM31 142h1v1h-1zM39 142h1v1h-1zM98 142h1v1h-1zM103 142h1v1h-1zM115 142h1v1h-1zM128 142h1v1h-1zM131 142h1v1h-1zM18 143h1v1h-1zM70 143h1v1h-1zM87 143h1v1h-1zM24 144h1v1h-1zM38 144h1v1h-1zM44 144h1v1h-1zM52 144h1v1h-1zM63 144h1v1h-1zM74 144h1v1h-1zM79 144h1v1h-1zM85 144h1v1h-1zM98 144h1v1h-1zM105 144h1v1h-1zM3 145h1v1h-1zM130 145h1v1h-1zM143 145h1v1h-1zM1 146h1v1h-1zM9 146h1v1h-1zM18 146h1v1h-1zM37 146h1v1h-1zM74 146h1v1h-1zM80 146h1v1h-1zM92 146h1v1h-1zM0 147h1v1h-1zM92 147h1v1h-1zM96 147h1v1h-1zM105 147h1v1h-1zM0 148h1v1h-1zM1 148h1v1h-1zM6 148h1v1h-1zM35 148h1v1h-1zM39 148h1v1h-1zM40 148h1v1h-1zM86 148h1v1h-1zM127 148h1v1h-1zM35 149h1v1h-1zM42 149h1v1h-1zM69 149h1v1h-1zM138 149h1v1h-1z"/>
<path fill="rgb(13,13,13)" d="M15 0h1v1h-1zM21 0h1v1h-1zM22 0h1v1h-1zM28 0h1v1h-1zM30 0h1v1h-1zM32 0h1v1h-1zM34 0h1v1h-1zM39 0h1v1h-1zM42 0h1v1h-1zM45 0h1v1h-1zM46 0h1v1h-1zM50 0h1v1h-1zM75 0h1v1h-1zM80 0h1v1h-1zM81 0h1v1h-1zM112 0h1v1h-1zM120 0h1v1h-1zM123 0h1v1h-1zM124 0h1v1h-1zM128 0h1v1h-1zM146 0h1v1h-1zM149 0h1v1h-1zM2 1h1v1h-1zM13 1h1v1h-1zM25 1h1v1h-1zM39 1h1v1h-1zM41 1h1v1h-1zM46 1h1v1h-1zM48 1h1v1h-1zM49 1h1v1h-1zM51 1h1v1h-1zM53 1h1v1h-1zM67 1h1v1h-1zM69 1h1v1h-1zM87 1h1v1h-1zM93 1h1v1h-1zM102 1h1v1h-1zM120 1h1v1h-1zM127 1h1v1h-1zM131 1h1v1h-1zM133 1h1v1h-1zM137 1h1v1h-1zM138 1h1v1h-1zM143 1h1v1h-1zM147 1h1v1h-1zM23 2h1v1h-1zM24 2h1v1h-1zM29 2h1v1h-1zM32 2h1v1h-1zM33 2h1v1h-1zM36 2h1v1h-1zM37 2h1v1h-1zM39 2h1v1h-1zM44 2h1v1h-1zM45 2h1v1h-1zM46 2h1v1h-1zM48 2h1v1h-1zM52 2h1v1h-1zM55 2h1v1h-1zM60 2h1v1h-1zM61 2h1v1h-1zM65 2h1v1h-1zM69 2h1v1h-1zM70 2h1v1h-1zM84 2h1v1h-1zM87 2h1v1h-1zM112 2h1v1h-1zM119 2h1v1h-1zM123 2h1v1h-1zM124 2h1v1h-1zM133 2h1v1h-1zM1 3h1v1h-1zM30 3h1v1h-1zM31 3h1v1h-1zM34 3h1v1h-1zM39 3h1v1h-1zM43 3h1v1h-1zM56 3h1v1h-1zM63 3h1v1h-1zM64 3h1v1h-1zM68 3h1v1h-1zM70 3h1v1h-1zM89 3h1v1h-1zM99 3h1v1h-1zM108 3h1v1h-1zM118 3h1v1h-1zM132 3h1v1h-1zM133 3h1v1h-1zM134 3h1v1h-1zM139 3h1v1h-1zM149 3h1v1h-1zM2 4h1v1h-1zM6 4h1v1h-1zM7 4h1v1h-1zM16 4h1v1h-1zM30 4h1v1h-1zM36 4h1v1h-1zM40 4h1v1h-1zM43 4h1v1h-1zM50 4h1v1h-1zM54 4h1v1h-1zM59 4h1v1h-1zM62 4h1v1h-1zM69 4h1v1h-1zM84 4h1v1h-1zM85 4h1v1h-1zM97 4h1v1h-1zM100 4h1v1h-1zM101 4h1v1h-1zM103 4h1v1h-1zM104 4h1v1h-1zM107 4h1v1h-1zM109 4h1v1h-1zM121 4h1v1h-1zM128 4h1v1h-1zM136 4h1v1h-1zM138 4h1v1h-1zM1 5h1v1h-1zM7 5h1v1h-1zM10 5h1v1h-1zM13 5h1v1h-1zM15 5h1v1h-1zM20 5h1v1h-1zM30 5h1v1h-1zM32 5h1v1h-1zM38 5h1v1h-1zM41 5h1v1h-1zM43 5h1v1h-1zM55 5h1v1h-1zM56 5h1v1h-1zM65 5h1v1h-1zM71 5h1v1h-1zM76 5h1v1h-1zM84 5h1v1h-1zM88 5h1v1h-1zM90 5h1v1h-1zM92 5h1v1h-1zM103 5h1v1h-1zM104 5h1v1h-1zM106 5h1v1h-1zM107 5h1v1h-1zM115 5h1v1h-1zM116 5h1v1h-1zM119 5h1v1h-1zM125 5h1v1h-1zM132 5h1v1h-1zM133 5h1v1h-1zM136 5h1v1h-1zM143 5h1v1h-1zM146 5h1v1h-1zM149 5h1v1h-1zM2 6h1v1h-1zM3 6h1v1h-1zM16 6h1v1h-1zM17 6h1v1h-1zM21 6h1v1h-1zM23 6h1v1h-1zM43 6h1v1h-1zM50 6h1v1h-1zM52 6h1v1h-1zM54 6h1v1h-1zM57 6h1v1h-1zM61 6h1v1h-1zM63 6h1v1h-1zM67 6h1v1h-1zM68 6h1v1h-1zM71 6h1v1h-1zM74 6h1v1h-1zM83 6h1v1h-1zM84 6h1v1h-1zM85 6h1v1h-1zM89 6h1v1h-1zM98 6h1v1h-1zM104 6h1v1h-1zM107 6h1v1h-1zM108 6h1v1h-1zM109 6h1v1h-1zM111 6h1v1h-1zM112 6h1v1h-1zM116 6h1v1h-1zM123 6h1v1h-1zM128 6h1v1h-1zM133 6h1v1h-1zM134 6h1v1h-1zM142 6h1v1h-1zM147 6h1v1h-1zM149 6h1v1h-1zM0 7h1v1h-1zM1 7h1v1h-1zM15 7h1v1h-1zM19 7h1v1h-1zM21 7h1v1h-1zM26 7h1v1h-1zM31 7h1v1h-1zM35 7h1v1h-1zM36 7h1v1h-1zM41 7h1v1h-1zM44 7h1v1h-1zM53 7h1v1h-1zM55 7h1v1h-1zM56 7h1v1h-1zM57 7h1v1h-1zM58 7h1v1h-1zM63 7h1v1h-1zM64 7h1v1h-1zM65 7h1v1h-1zM74 7h1v1h-1zM82 7h1v1h-1zM90 7h1v1h-1zM91 7h1v1h-1zM93 7h1v1h-1zM96 7h1v1h-1zM102 7h1v1h-1zM105 7h1v1h-1zM109 7h1v1h-1zM110 7h1v1h-1zM111 7h1v1h-1zM112 7h1v1h-1zM116 7h1v1h-1zM120 7h1v1h-1zM122 7h1v1h-1zM126 7h1v1h-1zM132 7h1v1h-1zM134 7h1v1h-1zM142 7h1v1h-1zM145 7h1v1h-1zM149 7h1v1h-1zM2 8h1v1h-1zM7 8h1v1h-1zM10 8h1v1h-1zM11 8h1v1h-1zM17 8h1v1h-1zM19 8h1v1h-1zM25 8h1v1h-1zM26 8h1v1h-1zM39 8h1v1h-1zM42 8h1v1h-1zM54 8h1v1h-1zM59 8h1v1h-1zM60 8h1v1h-1zM70 8h1v1h-1zM78 8h1v1h-1zM80 8h1v1h-1zM81 8h1v1h-1zM84 8h1v1h-1zM90 8h1v1h-1zM107 8h1v1h-1zM109 8h1v1h-1zM112 8h1v1h-1zM118 8h1v1h-1zM122 8h1v1h-1zM125 8h1v1h-1zM126 8h1v1h-1zM129 8h1v1h-1zM131 8h1v1h-1zM138 8h1v1h-1zM146 8h1v1h-1zM148 8h1v1h-1zM12 9h1v1h-1zM14 9h1v1h-1zM28 9h1v1h-1zM33 9h1v1h-1zM47 9h1v1h-1zM58 9h1v1h-1zM59 9h1v1h-1zM82 9h1v1h-1zM83 9h1v1h-1zM85 9h1v1h-1zM87 9h1v1h-1zM100 9h1v1h-1zM112 9h1v1h-1zM115 9h1v1h-1zM116 9h1v1h-1zM117 9h1v1h-1zM120 9h1v1h-1zM125 9h1v1h-1zM128 9h1v1h-1zM139 9h1v1h-1zM147 9h1v1h-1zM2 10h1v1h-1zM4 10h1v1h-1zM10 10h1v1h-1zM17 10h1v1h-1zM31 10h1v1h-1zM36 10h1v1h-1zM40 10h1v1h-1zM44 10h1v1h-1zM53 10h1v1h-1zM56 10h1v1h-1zM57 10h1v1h-1zM68 10h1v1h-1zM78 10h1v1h-1zM81 10h1v1h-1zM92 10h1v1h-1zM98 10h1v1h-1zM104 10h1v1h-1zM107 10h1v1h-1zM113 10h1v1h-1zM117 10h1v1h-1zM122 10h1v1h-1zM123 10h1v1h-1zM130 10h1v1h-1zM137 10h1v1h-1zM144 10h1v1h-1zM147 10h1v1h-1zM0 11h1v1h-1zM11 11h1v1h-1zM12 11h1v1h-1zM13 11h1v1h-1zM15 11h1v1h-1zM17 11h1v1h-1zM24 11h1v1h-1zM27 11h1v1h-1zM28 11h1v1h-1zM33 11h1v1h-1zM34 11h1v1h-1zM36 11h1v1h-1zM40 11h1v1h-1zM52 11h1v1h-1zM60 11h1v1h-1zM61 11h1v1h-1zM62 11h1v1h-1zM63 11h1v1h-1zM65 11h1v1h-1zM73 11h1v1h-1zM92 11h1v1h-1zM101 11h1v1h-1zM102 11h1v1h-1zM104 11h1v1h-1zM108 11h1v1h-1zM110 11h1v1h-1zM111 11h1v1h-1zM118 11h1v1h-1zM126 11h1v1h-1zM128 11h1v1h-1zM132 11h1v1h-1zM136 11h1v1h-1zM145 11h1v1h-1zM149 11h1v1h-1zM3 12h1v1h-1zM5 12h1v1h-1zM6 12h1v1h-1zM8 12h1v1h-1zM27 12h1v1h-1zM31 12h1v1h-1zM39 12h1v1h-1zM41 12h1v1h-1zM46 12h1v1h-1zM47 12h1v1h-1zM59 12h1v1h-1zM63 12h1v1h-1zM66 12h1v1h-1zM69 12h1v1h-1zM77 12h1v1h-1zM91 12h1v1h-1zM94 12h1v1h-1zM99 12h1v1h-1zM103 12h1v1h-1zM106 12h1v1h-1zM108 12h1v1h-1zM114 12h1v1h-1zM116 12h1v1h-1zM131 12h1v1h-1zM136 12h1v1h-1zM143 12h1v1h-1zM1 13h1v1h-1zM5 13h1v1h-1zM16 13h1v1h-1zM18 13h1v1h-1zM22 13h1v1h-1zM24 13h1v1h-1zM29 13h1v1h-1zM35 13h1v1h-1zM37 13h1v1h-1zM38 13h1v1h-1zM40 13h1v1h-1zM41 13h1v1h-1zM42 13h1v1h-1zM50 13h1v1h-1zM66 13h1v1h-1zM68 13h1v1h-1zM69 13h1v1h-1zM73 13h1v1h-1zM75 13h1v1h-1zM77 13h1v1h-1zM83 13h1v1h-1zM86 13h1v1h-1zM89 13h1v1h-1zM94 13h1v1h-1zM115 13h1v1h-1zM128 13h1v1h-1zM129 13h1v1h-1zM136 13h1v1h-1zM146 13h1v1h-1zM11 14h1v1h-1zM17 14h1v1h-1zM18 14h1v1h-1zM25 14h1v1h-1zM27 14h1v1h-1zM29 14h1v1h-1zM31 14h1v1h-1zM33 14h1v1h-1zM35 14h1v1h-1zM42 14h1v1h-1zM44 14h1v1h-1zM45 14h1v1h-1zM49 14h1v1h-1zM55 14h1v1h-1zM62 14h1v1h-1zM64 14h1v1h-1zM74 14h1v1h-1zM81 14h1v1h-1zM86 14h1v1h-1zM88 14h1v1h-1zM95 14h1v1h-1zM97 14h1v1h-1zM102 14h1v1h-1zM104 14h1v1h-1zM109 14h1v1h-1zM110 14h1v1h-1zM112 14h1v1h-1zM113 14h1v1h-1zM119 14h1v1h-1zM121 14h1v1h-1zM124 14h1v1h-1zM148 14h1v1h-1zM149 14h1v1h-1zM5 15h1v1h-1zM7 15h1v1h-1zM8 15h1v1h-1zM9 15h1v1h-1zM15 15h1v1h-1zM17 15h1v1h-1zM18 15h1v1h-1zM21 15h1v1h-1zM27 15h1v1h-1zM32 15h1v1h-1zM34 15h1v1h-1zM35 15h1v1h-1zM42 15h1v1h-1zM46 15h1v1h-1zM53 15h1v1h-1zM71 15h1v1h-1zM72 15h1v1h-1zM77 15h1v1h-1zM83 15h1v1h-1zM85 15h1v1h-1zM109 15h1v1h-1zM110 15h1v1h-1zM111 15h1v1h-1zM118 15h1v1h-1zM119 15h1v1h-1zM124 15h1v1h-1zM125 15h1v1h-1zM126 15h1v1h-1zM132 15h1v1h-1zM140 15h1v1h-1zM143 15h1v1h-1zM147 15h1v1h-1zM3 16h1v1h-1zM4 16h1v1h-1zM5 16h1v1h-1zM11 16h1v1h-1zM17 16h1v1h-1zM18 16h1v1h-1zM20 16h1v1h-1zM29 16h1v1h-1zM30 16h1v1h-1zM38 16h1v1h-1zM39 16h1v1h-1zM42 16h1v1h-1zM51 16h1v1h-1zM56 16h1v1h-1zM64 16h1v1h-1zM66 16h1v1h-1zM73 16h1v1h-1zM77 16h1v1h-1zM83 16h1v1h-1zM86 16h1v1h-1zM88 16h1v1h-1zM92 16h1v1h-1zM95 16h1v1h-1zM97 16h1v1h-1zM98 16h1v1h-1zM102 16h1v1h-1zM120 16h1v1h-1zM121 16h1v1h-1zM123 16h1v1h-1zM125 16h1v1h-1zM130 16h1v1h-1zM132 16h1v1h-1zM138 16h1v1h-1zM143 16h1v1h-1zM144 16h1v1h-1zM148 16h1v1h-1zM9 17h1v1h-1zM10 17h1v1h-1zM12 17h1v1h-1zM13 17h1v1h-1zM16 17h1v1h-1zM19 17h1v1h-1zM20 17h1v1h-1zM22 17h1v1h-1zM28 17h1v1h-1zM30 17h1v1h-1zM40 17h1v1h-1zM42 17h1v1h-1zM43 17h1v1h-1zM44 17h1v1h-1zM51 17h1v1h-1zM52 17h1v1h-1zM54 17h1v1h-1zM62 17h1v1h-1zM69 17h1v1h-1zM72 17h1v1h-1zM74 17h1v1h-1zM77 17h1v1h-1zM82 17h1v1h-1zM95 17h1v1h-1zM97 17h1v1h-1zM100 17h1v1h-1zM107 17h1v1h-1zM112 17h1v1h-1zM114 17h1v1h-1zM122 17h1v1h-1zM129 17h1v1h-1zM130 17h1v1h-1zM135 17h1v1h-1zM137 17h1v1h-1zM145 17h1v1h-1zM146 17h1v1h-1zM12 18h1v1h-1zM18 18h1v1h-1zM19 18h1v1h-1zM27 18h1v1h-1zM30 18h1v1h-1zM40 18h1v1h-1zM45 18h1v1h-1zM49 18h1v1h-1zM52 18h1v1h-1zM58 18h1v1h-1zM67 18h1v1h-1zM74 18h1v1h-1zM78 18h1v1h-1zM79 18h1v1h-1zM83 18h1v1h-1zM94 18h1v1h-1zM95 18h1v1h-1zM99 18h1v1h-1zM102 18h1v1h-1zM103 18h1v1h-1zM114 18h1v1h-1zM118 18h1v1h-1zM122 18h1v1h-1zM124 18h1v1h-1zM128 18h1v1h-1zM129 18h1v1h-1zM133 18h1v1h-1zM140 18h1v1h-1zM145 18h1v1h-1zM147 18h1v1h-1zM2 19h1v1h-1zM23 19h1v1h-1zM37 19h1v1h-1zM42 19h1v1h-1zM45 19h1v1h-1zM48 19h1v1h-1zM62 19h1v1h-1zM71 19h1v1h-1zM81 19h1v1h-1zM83 19h1v1h-1zM94 19h1v1h-1zM109 19h1v1h-1zM112 19h1v1h-1zM118 19h1v1h-1zM123 19h1v1h-1zM125 19h1v1h-1zM128 19h1v1h-1zM129 19h1v1h-1zM137 19h1v1h-1zM138 19h1v1h-1zM149 19h1v1h-1zM0 20h1v1h-1zM4 20h1v1h-1zM7 20h1v1h-1zM8 20h1v1h-1zM10 20h1v1h-1zM12 20h1v1h-1zM14 20h1v1h-1zM17 20h1v1h-1zM39 20h1v1h-1zM41 20h1v1h-1zM48 20h1v1h-1zM49 20h1v1h-1zM50 20h1v1h-1zM52 20h1v1h-1zM53 20h1v1h-1zM54 20h1v1h-1zM56 20h1v1h-1zM60 20h1v1h-1zM65 20h1v1h-1zM67 20h1v1h-1zM71 20h1v1h-1zM74 20h1v1h-1zM76 20h1v1h-1zM90 20h1v1h-1zM96 20h1v1h-1zM99 20h1v1h-1zM105 20h1v1h-1zM110 20h1v1h-1zM112 20h1v1h-1zM124 20h1v1h-1zM126 20h1v1h-1zM137 20h1v1h-1zM141 20h1v1h-1zM148 20h1v1h-1zM3 21h1v1h-1zM16 21h1v1h-1zM19 21h1v1h-1zM21 21h1v1h-1zM25 21h1v1h-1zM29 21h1v1h-1zM34 21h1v1h-1zM41 21h1v1h-1zM44 21h1v1h-1zM55 21h1v1h-1zM66 21h1v1h-1zM67 21h1v1h-1zM70 21h1v1h-1zM73 21h1v1h-1zM82 21h1v1h-1zM85 21h1v1h-1zM87 21h1v1h-1zM99 21h1v1h-1zM101 21h1v1h-1zM109 21h1v1h-1zM116 21h1v1h-1zM117 21h1v1h-1zM118 21h1v1h-1zM124 21h1v1h-1zM129 21h1v1h-1zM133 21h1v1h-1zM146 21h1v1h-1zM4 22h1v1h-1zM15 22h1v1h-1zM19 22h1v1h-1zM37 22h1v1h-1zM45 22h1v1h-1zM49 22h1v1h-1zM53 22h1v1h-1zM68 22h1v1h-1zM72 22h1v1h-1zM79 22h1v1h-1zM87 22h1v1h-1zM98 22h1v1h-1zM101 22h1v1h-1zM102 22h1v1h-1zM103 22h1v1h-1zM110 22h1v1h-1zM113 22h1v1h-1zM114 22h1v1h-1zM120 22h1v1h-1zM128 22h1v1h-1zM129 22h1v1h-1zM132 22h1v1h-1zM133 22h1v1h-1zM137 22h1v1h-1zM138 22h1v1h-1zM142 22h1v1h-1zM146 22h1v1h-1zM5 23h1v1h-1zM15 23h1v1h-1zM19 23h1v1h-1zM23 23h1v1h-1zM28 23h1v1h-1zM37 23h1v1h-1zM50 23h1v1h-1zM57 23h1v1h-1zM65 23h1v1h-1zM86 23h1v1h-1zM91 23h1v1h-1zM93 23h1v1h-1zM99 23h1v1h-1zM102 23h1v1h-1zM109 23h1v1h-1zM110 23h1v1h-1zM115 23h1v1h-1zM125 23h1v1h-1zM143 23h1v1h-1zM146 23h1v1h-1zM6 24h1v1h-1zM8 24h1v1h-1zM17 24h1v1h-1zM18 24h1v1h-1zM24 24h1v1h-1zM27 24h1v1h-1zM31 24h1v1h-1zM33 24h1v1h-1zM34 24h1v1h-1zM39 24h1v1h-1zM58 24h1v1h-1zM63 24h1v1h-1zM66 24h1v1h-1zM67 24h1v1h-1zM73 24h1v1h-1zM75 24h1v1h-1zM80 24h1v1h-1zM83 24h1v1h-1zM84 24h1v1h-1zM85 24h1v1h-1zM91 24h1v1h-1zM94 24h1v1h-1zM112 24h1v1h-1zM116 24h1v1h-1zM122 24h1v1h-1zM123 24h1v1h-1zM126 24h1v1h-1zM131 24h1v1h-1zM135 24h1v1h-1zM145 24h1v1h-1zM147 24h1v1h-1zM149 24h1v1h-1zM3 25h1v1h-1zM8 25h1v1h-1zM19 25h1v1h-1zM27 25h1v1h-1zM32 25h1v1h-1zM40 25h1v1h-1zM44 25h1v1h-1zM45 25h1v1h-1zM49 25h1v1h-1zM53 25h1v1h-1zM56 25h1v1h-1zM64 25h1v1h-1zM65 25h1v1h-1zM66 25h1v1h-1zM68 25h1v1h-1zM69 25h1v1h-1zM75 25h1v1h-1zM77 25h1v1h-1zM80 25h1v1h-1zM95 25h1v1h-1zM97 25h1v1h-1zM102 25h1v1h-1zM103 25h1v1h-1zM106 25h1v1h-1zM108 25h1v1h-1zM115 25h1v1h-1zM119 25h1v1h-1zM125 25h1v1h-1zM126 25h1v1h-1zM129 25h1v1h-1zM131 25h1v1h-1zM134 25h1v1h-1zM135 25h1v1h-1zM136 25h1v1h-1zM138 25h1v1h-1zM140 25h1v1h-1zM2 26h1v1h-1zM10 26h1v1h-1zM13 26h1v1h-1zM14 26h1v1h-1zM15 26h1v1h-1zM19 26h1v1h-1zM34 26h1v1h-1zM40 26h1v1h-1zM43 26h1v1h-1zM50 26h1v1h-1zM55 26h1v1h-1zM57 26h1v1h-1zM63 26h1v1h-1zM67 26h1v1h-1zM69 26h1v1h-1zM73 26h1v1h-1zM75 26h1v1h-1zM76 26h1v1h-1zM81 26h1v1h-1zM93 26h1v1h-1zM95 26h1v1h-1zM101 26h1v1h-1zM107 26h1v1h-1zM111 26h1v1h-1zM127 26h1v1h-1zM136 26h1v1h-1zM137 26h1v1h-1zM142 26h1v1h-1zM145 26h1v1h-1zM0 27h1v1h-1zM6 27h1v1h-1zM9 27h1v1h-1zM13 27h1v1h-1zM18 27h1v1h-1zM24 27h1v1h-1zM25 27h1v1h-1zM26 27h1v1h-1zM31 27h1v1h-1zM32 27h1v1h-1zM35 27h1v1h-1zM42 27h1v1h-1zM46 27h1v1h-1zM61 27h1v1h-1zM69 27h1v1h-1zM70 27h1v1h-1zM71 27h1v1h-1zM76 27h1v1h-1zM77 27h1v1h-1zM79 27h1v1h-1zM85 27h1v1h-1zM89 27h1v1h-1zM91 27h1v1h-1zM100 27h1v1h-1zM110 27h1v1h-1zM114 27h1v1h-1zM123 27h1v1h-1zM125 27h1v1h-1zM135 27h1v1h-1zM144 27h1v1h-1zM146 27h1v1h-1zM5 28h1v1h-1zM6 28h1v1h-1zM12 28h1v1h-1zM16 28h1v1h-1zM17 28h1v1h-1zM24 28h1v1h-1zM38 28h1v1h-1zM40 28h1v1h-1zM42 28h1v1h-1zM49 28h1v1h-1zM50 28h1v1h-1zM54 28h1v1h-1zM62 28h1v1h-1zM64 28h1v1h-1zM68 28h1v1h-1zM69 28h1v1h-1zM83 28h1v1h-1zM84 28h1v1h-1zM89 28h1v1h-1zM102 28h1v1h-1zM109 28h1v1h-1zM124 28h1v1h-1zM125 28h1v1h-1zM128 28h1v1h-1zM139 28h1v1h-1zM8 29h1v1h-1zM13 29h1v1h-1zM19 29h1v1h-1zM23 29h1v1h-1zM29 29h1v1h-1zM30 29h1v1h-1zM31 29h1v1h-1zM32 29h1v1h-1zM33 29h1v1h-1zM42 29h1v1h-1zM44 29h1v1h-1zM45 29h1v1h-1zM46 29h1v1h-1zM53 29h1v1h-1zM55 29h1v1h-1zM56 29h1v1h-1zM58 29h1v1h-1zM62 29h1v1h-1zM63 29h1v1h-1zM64 29h1v1h-1zM67 29h1v1h-1zM73 29h1v1h-1zM76 29h1v1h-1zM83 29h1v1h-1zM84 29h1v1h-1zM92 29h1v1h-1zM101 29h1v1h-1zM104 29h1v1h-1zM107 29h1v1h-1zM114 29h1v1h-1zM116 29h1v1h-1zM118 29h1v1h-1zM119 29h1v1h-1zM131 29h1v1h-1zM140 29h1v1h-1zM143 29h1v1h-1zM145 29h1v1h-1zM148 29h1v1h-1zM149 29h1v1h-1zM8 30h1v1h-1zM11 30h1v1h-1zM29 30h1v1h-1zM38 30h1v1h-1zM50 30h1v1h-1zM52 30h1v1h-1zM54 30h1v1h-1zM57 30h1v1h-1zM61 30h1v1h-1zM62 30h1v1h-1zM65 30h1v1h-1zM66 30h1v1h-1zM67 30h1v1h-1zM72 30h1v1h-1zM78 30h1v1h-1zM80 30h1v1h-1zM91 30h1v1h-1zM98 30h1v1h-1zM102 30h1v1h-1zM106 30h1v1h-1zM112 30h1v1h-1zM114 30h1v1h-1zM115 30h1v1h-1zM120 30h1v1h-1zM124 30h1v1h-1zM129 30h1v1h-1zM130 30h1v1h-1zM139 30h1v1h-1zM146 30h1v1h-1zM0 31h1v1h-1zM5 31h1v1h-1zM7 31h1v1h-1zM11 31h1v1h-1zM17 31h1v1h-1zM24 31h1v1h-1zM32 31h1v1h-1zM37 31h1v1h-1zM42 31h1v1h-1zM47 31h1v1h-1zM62 31h1v1h-1zM67 31h1v1h-1zM70 31h1v1h-1zM84 31h1v1h-1zM92 31h1v1h-1zM96 31h1v1h-1zM100 31h1v1h-1zM101 31h1v1h-1zM106 31h1v1h-1zM116 31h1v1h-1zM124 31h1v1h-1zM125 31h1v1h-1zM129 31h1v1h-1zM131 31h1v1h-1zM138 31h1v1h-1zM139 31h1v1h-1zM140 31h1v1h-1zM143 31h1v1h-1zM0 32h1v1h-1zM6 32h1v1h-1zM14 32h1v1h-1zM16 32h1v1h-1zM30 32h1v1h-1zM31 32h1v1h-1zM32 32h1v1h-1zM33 32h1v1h-1zM38 32h1v1h-1zM64 32h1v1h-1zM72 32h1v1h-1zM73 32h1v1h-1zM76 32h1v1h-1zM92 32h1v1h-1zM96 32h1v1h-1zM104 32h1v1h-1zM120 32h1v1h-1zM121 32h1v1h-1zM123 32h1v1h-1zM125 32h1v1h-1zM128 32h1v1h-1zM131 32h1v1h-1zM140 32h1v1h-1zM1 33h1v1h-1zM9 33h1v1h-1zM12 33h1v1h-1zM20 33h1v1h-1zM22 33h1v1h-1zM28 33h1v1h-1zM30 33h1v1h-1zM31 33h1v1h-1zM42 33h1v1h-1zM43 33h1v1h-1zM54 33h1v1h-1zM58 33h1v1h-1zM65 33h1v1h-1zM66 33h1v1h-1zM68 33h1v1h-1zM71 33h1v1h-1zM77 33h1v1h-1zM78 33h1v1h-1zM79 33h1v1h-1zM80 33h1v1h-1zM81 33h1v1h-1zM93 33h1v1h-1zM94 33h1v1h-1zM115 33h1v1h-1zM126 33h1v1h-1zM127 33h1v1h-1zM133 33h1v1h-1zM137 33h1v1h-1zM139 33h1v1h-1zM143 33h1v1h-1zM146 33h1v1h-1zM9 34h1v1h-1zM12 34h1v1h-1zM14 34h1v1h-1zM15 34h1v1h-1zM21 34h1v1h-1zM22 34h1v1h-1zM24 34h1v1h-1zM25 34h1v1h-1zM27 34h1v1h-1zM28 34h1v1h-1zM30 34h1v1h-1zM32 34h1v1h-1zM33 34h1v1h-1zM55 34h1v1h-1zM64 34h1v1h-1zM65 34h1v1h-1zM69 34h1v1h-1zM70 34h1v1h-1zM80 34h1v1h-1zM83 34h1v1h-1zM105 34h1v1h-1zM108 34h1v1h-1zM124 34h1v1h-1zM128 34h1v1h-1zM140 34h1v1h-1zM142 34h1v1h-1zM0 35h1v1h-1zM6 35h1v1h-1zM13 35h1v1h-1zM15 35h1v1h-1zM16 35h1v1h-1zM22 35h1v1h-1zM30 35h1v1h-1zM31 35h1v1h-1zM36 35h1v1h-1zM38 35h1v1h-1zM43 35h1v1h-1zM53 35h1v1h-1zM55 35h1v1h-1zM60 35h1v1h-1zM70 35h1v1h-1zM75 35h1v1h-1zM76 35h1v1h-1zM79 35h1v1h-1zM88 35h1v1h-1zM96 35h1v1h-1zM101 35h1v1h-1zM107 35h1v1h-1zM111 35h1v1h-1zM115 35h1v1h-1zM121 35h1v1h-1zM126 35h1v1h-1zM128 35h1v1h-1zM134 35h1v1h-1zM141 35h1v1h-1zM143 35h1v1h-1zM144 35h1v1h-1zM146 35h1v1h-1zM7 36h1v1h-1zM11 36h1v1h-1zM28 36h1v1h-1zM32 36h1v1h-1zM39 36h1v1h-1zM42 36h1v1h-1zM45 36h1v1h-1zM46 36h1v1h-1zM59 36h1v1h-1zM67 36h1v1h-1zM71 36h1v1h-1zM74 36h1v1h-1zM84 36h1v1h-1zM90 36h1v1h-1zM91 36h1v1h-1zM94 36h1v1h-1zM101 36h1v1h-1zM106 36h1v1h-1zM108 36h1v1h-1zM110 36h1v1h-1zM123 36h1v1h-1zM129 36h1v1h-1zM138 36h1v1h-1zM139 36h1v1h-1zM140 36h1v1h-1zM145 36h1v1h-1zM148 36h1v1h-1zM1 37h1v1h-1zM15 37h1v1h-1zM18 37h1v1h-1zM22 37h1v1h-1zM28 37h1v1h-1zM32 37h1v1h-1zM33 37h1v1h-1zM34 37h1v1h-1zM37 37h1v1h-1zM39 37h1v1h-1zM43 37h1v1h-1zM44 37h1v1h-1zM47 37h1v1h-1zM56 37h1v1h-1zM58 37h1v1h-1zM65 37h1v1h-1zM72 37h1v1h-1zM77 37h1v1h-1zM83 37h1v1h-1zM84 37h1v1h-1zM105 37h1v1h-1zM109 37h1v1h-1zM115 37h1v1h-1zM117 37h1v1h-1zM120 37h1v1h-1zM121 37h1v1h-1zM128 37h1v1h-1zM135 37h1v1h-1zM139 37h1v1h-1zM144 37h1v1h-1zM145 37h1v1h-1zM148 37h1v1h-1zM149 37h1v1h-1zM0 38h1v1h-1zM4 38h1v1h-1zM5 38h1v1h-1zM11 38h1v1h-1zM23 38h1v1h-1zM30 38h1v1h-1zM31 38h1v1h-1zM35 38h1v1h-1zM36 38h1v1h-1zM42 38h1v1h-1zM44 38h1v1h-1zM52 38h1v1h-1zM61 38h1v1h-1zM64 38h1v1h-1zM67 38h1v1h-1zM68 38h1v1h-1zM72 38h1v1h-1zM81 38h1v1h-1zM91 38h1v1h-1zM95 38h1v1h-1zM96 38h1v1h-1zM100 38h1v1h-1zM120 38h1v1h-1zM129 38h1v1h-1zM136 38h1v1h-1zM137 38h1v1h-1zM142 38h1v1h-1zM146 38h1v1h-1zM147 38h1v1h-1zM6 39h1v1h-1zM11 39h1v1h-1zM27 39h1v1h-1zM40 39h1v1h-1zM42 39h1v1h-1zM44 39h1v1h-1zM47 39h1v1h-1zM56 39h1v1h-1zM70 39h1v1h-1zM71 39h1v1h-1zM74 39h1v1h-1zM75 39h1v1h-1zM83 39h1v1h-1zM84 39h1v1h-1zM86 39h1v1h-1zM92 39h1v1h-1zM93 39h1v1h-1zM105 39h1v1h-1zM109 39h1v1h-1zM111 39h1v1h-1zM113 39h1v1h-1zM116 39h1v1h-1zM118 39h1v1h-1zM119 39h1v1h-1zM121 39h1v1h-1zM124 39h1v1h-1zM0 40h1v1h-1zM13 40h1v1h-1zM21 40h1v1h-1zM22 40h1v1h-1zM23 40h1v1h-1zM34 40h1v1h-1zM35 40h1v1h-1zM38 40h1v1h-1zM43 40h1v1h-1zM53 40h1v1h-1zM55 40h1v1h-1zM57 40h1v1h-1zM64 40h1v1h-1zM65 40h1v1h-1zM67 40h1v1h-1zM77 40h1v1h-1zM81 40h1v1h-1zM90 40h1v1h-1zM101 40h1v1h-1zM108 40h1v1h-1zM120 40h1v1h-1zM130 40h1v1h-1zM132 40h1v1h-1zM138 40h1v1h-1zM139 40h1v1h-1zM142 40h1v1h-1zM147 40h1v1h-1zM148 40h1v1h-1zM0 41h1v1h-1zM6 41h1v1h-1zM13 41h1v1h-1zM15 41h1v1h-1zM28 41h1v1h-1zM29 41h1v1h-1zM41 41h1v1h-1zM46 41h1v1h-1zM53 41h1v1h-1zM55 41h1v1h-1zM61 41h1v1h-1zM64 41h1v1h-1zM66 41h1v1h-1zM75 41h1v1h-1zM78 41h1v1h-1zM80 41h1v1h-1zM82 41h1v1h-1zM87 41h1v1h-1zM92 41h1v1h-1zM97 41h1v1h-1zM121 41h1v1h-1zM125 41h1v1h-1zM138 41h1v1h-1zM149 41h1v1h-1zM0 42h1v1h-1zM2 42h1v1h-1zM4 42h1v1h-1zM8 42h1v1h-1zM10 42h1v1h-1zM11 42h1v1h-1zM13 42h1v1h-1zM21 42h1v1h-1zM25 42h1v1h-1zM34 42h1v1h-1zM35 42h1v1h-1zM36 42h1v1h-1zM37 42h1v1h-1zM38 42h1v1h-1zM43 42h1v1h-1zM46 42h1v1h-1zM55 42h1v1h-1zM63 42h1v1h-1zM66 42h1v1h-1zM70 42h1v1h-1zM71 42h1v1h-1zM75 42h1v1h-1zM82 42h1v1h-1zM83 42h1v1h-1zM94 42h1v1h-1zM95 42h1v1h-1zM97 42h1v1h-1zM108 42h1v1h-1zM109 42h1v1h-1zM110 42h1v1h-1zM112 42h1v1h-1zM120 42h1v1h-1zM123 42h1v1h-1zM127 42h1v1h-1zM133 42h1v1h-1zM143 42h1v1h-1zM144 42h1v1h-1zM145 42h1v1h-1zM5 43h1v1h-1zM6 43h1v1h-1zM10 43h1v1h-1zM11 43h1v1h-1zM12 43h1v1h-1zM16 43h1v1h-1zM19 43h1v1h-1zM24 43h1v1h-1zM45 43h1v1h-1zM68 43h1v1h-1zM70 43h1v1h-1zM74 43h1v1h-1zM76 43h1v1h-1zM90 43h1v1h-1zM91 43h1v1h-1zM92 43h1v1h-1zM97 43h1v1h-1zM109 43h1v1h-1zM112 43h1v1h-1zM118 43h1v1h-1zM119 43h1v1h-1zM123 43h1v1h-1zM127 43h1v1h-1zM133 43h1v1h-1zM135 43h1v1h-1zM137 43h1v1h-1zM138 43h1v1h-1zM140 43h1v1h-1zM4 44h1v1h-1zM10 44h1v1h-1zM22 44h1v1h-1zM23 44h1v1h-1zM29 44h1v1h-1zM32 44h1v1h-1zM33 44h1v1h-1zM36 44h1v1h-1zM37 44h1v1h-1zM39 44h1v1h-1zM44 44h1v1h-1zM46 44h1v1h-1zM54 44h1v1h-1zM56 44h1v1h-1zM62 44h1v1h-1zM72 44h1v1h-1zM75 44h1v1h-1zM80 44h1v1h-1zM91 44h1v1h-1zM96 44h1v1h-1zM99 44h1v1h-1zM114 44h1v1h-1zM116 44h1v1h-1zM122 44h1v1h-1zM123 44h1v1h-1zM126 44h1v1h-1zM129 44h1v1h-1zM130 44h1v1h-1zM134 44h1v1h-1zM142 44h1v1h-1zM147 44h1v1h-1zM5 45h1v1h-1zM13 45h1v1h-1zM16 45h1v1h-1zM30 45h1v1h-1zM38 45h1v1h-1zM39 45h1v1h-1zM40 45h1v1h-1zM41 45h1v1h-1zM42 45h1v1h-1zM46 45h1v1h-1zM48 45h1v1h-1zM52 45h1v1h-1zM56 45h1v1h-1zM61 45h1v1h-1zM69 45h1v1h-1zM70 45h1v1h-1zM77 45h1v1h-1zM78 45h1v1h-1zM81 45h1v1h-1zM83 45h1v1h-1zM93 45h1v1h-1zM96 45h1v1h-1zM97 45h1v1h-1zM101 45h1v1h-1zM102 45h1v1h-1zM106 45h1v1h-1zM110 45h1v1h-1zM113 45h1v1h-1zM117 45h1v1h-1zM119 45h1v1h-1zM123 45h1v1h-1zM124 45h1v1h-1zM135 45h1v1h-1zM138 45h1v1h-1zM139 45h1v1h-1zM147 45h1v1h-1zM149 45h1v1h-1zM3 46h1v1h-1zM10 46h1v1h-1zM16 46h1v1h-1zM17 46h1v1h-1zM18 46h1v1h-1zM19 46h1v1h-1zM20 46h1v1h-1zM25 46h1v1h-1zM35 46h1v1h-1zM37 46h1v1h-1zM38 46h1v1h-1zM39 46h1v1h-1zM41 46h1v1h-1zM45 46h1v1h-1zM46 46h1v1h-1zM47 46h1v1h-1zM53 46h1v1h-1zM56 46h1v1h-1zM57 46h1v1h-1zM59 46h1v1h-1zM60 46h1v1h-1zM66 46h1v1h-1zM68 46h1v1h-1zM69 46h1v1h-1zM80 46h1v1h-1zM81 46h1v1h-1zM96 46h1v1h-1zM98 46h1v1h-1zM99 46h1v1h-1zM101 46h1v1h-1zM102 46h1v1h-1zM107 46h1v1h-1zM108 46h1v1h-1zM111 46h1v1h-1zM119 46h1v1h-1zM127 46h1v1h-1zM134 46h1v1h-1zM138 46h1v1h-1zM140 46h1v1h-1zM145 46h1v1h-1zM147 46h1v1h-1zM148 46h1v1h-1zM4 47h1v1h-1zM8 47h1v1h-1zM13 47h1v1h-1zM19 47h1v1h-1zM21 47h1v1h-1zM25 47h1v1h-1zM28 47h1v1h-1zM37 47h1v1h-1zM42 47h1v1h-1zM45 47h1v1h-1zM53 47h1v1h-1zM64 47h1v1h-1zM71 47h1v1h-1zM79 47h1v1h-1zM84 47h1v1h-1zM94 47h1v1h-1zM101 47h1v1h-1zM115 47h1v1h-1zM116 47h1v1h-1zM118 47h1v1h-1zM131 47h1v1h-1zM141 47h1v1h-1zM142 47h1v1h-1zM143 47h1v1h-1zM147 47h1v1h-1zM5 48h1v1h-1zM24 48h1v1h-1zM25 48h1v1h-1zM27 48h1v1h-1zM29 48h1v1h-1zM32 48h1v1h-1zM45 48h1v1h-1zM50 48h1v1h-1zM51 48h1v1h-1zM59 48h1v1h-1zM63 48h1v1h-1zM82 48h1v1h-1zM89 48h1v1h-1zM103 48h1v1h-1zM108 48h1v1h-1zM109 48h1v1h-1zM116 48h1v1h-1zM122 48h1v1h-1zM127 48h1v1h-1zM129 48h1v1h-1zM132 48h1v1h-1zM134 48h1v1h-1zM135 48h1v1h-1zM138 48h1v1h-1zM141 48h1v1h-1zM144 48h1v1h-1zM146 48h1v1h-1zM147 48h1v1h-1zM148 48h1v1h-1zM1 49h1v1h-1zM4 49h1v1h-1zM8 49h1v1h-1zM13 49h1v1h-1zM18 49h1v1h-1zM19 49h1v1h-1zM21 49h1v1h-1zM26 49h1v1h-1zM29 49h1v1h-1zM32 49h1v1h-1zM37 49h1v1h-1zM52 49h1v1h-1zM53 49h1v1h-1zM58 49h1v1h-1zM63 49h1v1h-1zM65 49h1v1h-1zM72 49h1v1h-1zM74 49h1v1h-1zM77 49h1v1h-1zM84 49h1v1h-1zM86 49h1v1h-1zM91 49h1v1h-1zM98 49h1v1h-1zM106 49h1v1h-1zM107 49h1v1h-1zM109 49h1v1h-1zM110 49h1v1h-1zM113 49h1v1h-1zM122 49h1v1h-1zM125 49h1v1h-1zM136 49h1v1h-1zM143 49h1v1h-1zM4 50h1v1h-1zM12 50h1v1h-1zM13 50h1v1h-1zM14 50h1v1h-1zM24 50h1v1h-1zM27 50h1v1h-1zM28 50h1v1h-1zM34 50h1v1h-1zM37 50h1v1h-1zM42 50h1v1h-1zM48 50h1v1h-1zM49 50h1v1h-1zM56 50h1v1h-1zM58 50h1v1h-1zM63 50h1v1h-1zM85 50h1v1h-1zM88 50h1v1h-1zM91 50h1v1h-1zM96 50h1v1h-1zM131 50h1v1h-1zM133 50h1v1h-1zM134 50h1v1h-1zM136 50h1v1h-1zM140 50h1v1h-1zM145 50h1v1h-1zM148 50h1v1h-1zM0 51h1v1h-1zM8 51h1v1h-1zM13 51h1v1h-1zM24 51h1v1h-1zM38 51h1v1h-1zM39 51h1v1h-1zM51 51h1v1h-1zM60 51h1v1h-1zM63 51h1v1h-1zM65 51h1v1h-1zM71 51h1v1h-1zM80 51h1v1h-1zM82 51h1v1h-1zM83 51h1v1h-1zM94 51h1v1h-1zM98 51h1v1h-1zM110 51h1v1h-1zM114 51h1v1h-1zM116 51h1v1h-1zM117 51h1v1h-1zM119 51h1v1h-1zM123 51h1v1h-1zM124 51h1v1h-1zM129 51h1v1h-1zM130 51h1v1h-1zM132 51h1v1h-1zM133 51h1v1h-1zM136 51h1v1h-1zM138 51h1v1h-1zM139 51h1v1h-1zM147 51h1v1h-1zM1 52h1v1h-1zM12 52h1v1h-1zM28 52h1v1h-1zM43 52h1v1h-1zM51 52h1v1h-1zM56 52h1v1h-1zM57 52h1v1h-1zM59 52h1v1h-1zM60 52h1v1h-1zM63 52h1v1h-1zM64 52h1v1h-1zM70 52h1v1h-1zM81 52h1v1h-1zM86 52h1v1h-1zM95 52h1v1h-1zM96 52h1v1h-1zM105 52h1v1h-1zM109 52h1v1h-1zM112 52h1v1h-1zM115 52h1v1h-1zM143 52h1v1h-1zM147 52h1v1h-1zM149 52h1v1h-1zM2 53h1v1h-1zM18 53h1v1h-1zM34 53h1v1h-1zM54 53h1v1h-1zM56 53h1v1h-1zM57 53h1v1h-1zM61 53h1v1h-1zM87 53h1v1h-1zM95 53h1v1h-1zM97 53h1v1h-1zM102 53h1v1h-1zM106 53h1v1h-1zM110 53h1v1h-1zM113 53h1v1h-1zM118 53h1v1h-1zM119 53h1v1h-1zM129 53h1v1h-1zM133 53h1v1h-1zM137 53h1v1h-1zM143 53h1v1h-1zM145 53h1v1h-1zM4 54h1v1h-1zM10 54h1v1h-1zM25 54h1v1h-1zM29 54h1v1h-1zM31 54h1v1h-1zM37 54h1v1h-1zM50 54h1v1h-1zM54 54h1v1h-1zM81 54h1v1h-1zM86 54h1v1h-1zM87 54h1v1h-1zM116 54h1v1h-1zM122 54h1v1h-1zM123 54h1v1h-1zM128 54h1v1h-1zM139 54h1v1h-1zM140 54h1v1h-1zM147 54h1v1h-1zM1 55h1v1h-1zM2 55h1v1h-1zM6 55h1v1h-1zM11 55h1v1h-1zM14 55h1v1h-1zM21 55h1v1h-1zM24 55h1v1h-1zM29 55h1v1h-1zM31 55h1v1h-1zM39 55h1v1h-1zM42 55h1v1h-1zM45 55h1v1h-1zM72 55h1v1h-1zM73 55h1v1h-1zM77 55h1v1h-1zM80 55h1v1h-1zM83 55h1v1h-1zM85 55h1v1h-1zM87 55h1v1h-1zM89 55h1v1h-1zM92 55h1v1h-1zM93 55h1v1h-1zM97 55h1v1h-1zM98 55h1v1h-1zM100 55h1v1h-1zM102 55h1v1h-1zM104 55h1v1h-1zM111 55h1v1h-1zM119 55h1v1h-1zM120 55h1v1h-1zM129 55h1v1h-1zM142 55h1v1h-1zM15 56h1v1h-1zM23 56h1v1h-1zM31 56h1v1h-1zM35 56h1v1h-1zM48 56h1v1h-1zM54 56h1v1h-1zM59 56h1v1h-1zM60 56h1v1h-1zM62 56h1v1h-1zM63 56h1v1h-1zM65 56h1v1h-1zM71 56h1v1h-1zM72 56h1v1h-1zM78 56h1v1h-1zM83 56h1v1h-1zM86 56h1v1h-1zM103 56h1v1h-1zM106 56h1v1h-1zM118 56h1v1h-1zM119 56h1v1h-1zM135 56h1v1h-1zM144 56h1v1h-1zM148 56h1v1h-1zM13 57h1v1h-1zM14 57h1v1h-1zM25 57h1v1h-1zM33 57h1v1h-1zM39 57h1v1h-1zM60 57h1v1h-1zM72 57h1v1h-1zM78 57h1v1h-1zM82 57h1v1h-1zM86 57h1v1h-1zM90 57h1v1h-1zM96 57h1v1h-1zM100 57h1v1h-1zM106 57h1v1h-1zM108 57h1v1h-1zM113 57h1v1h-1zM114 57h1v1h-1zM120 57h1v1h-1zM121 57h1v1h-1zM128 57h1v1h-1zM135 57h1v1h-1zM136 57h1v1h-1zM144 57h1v1h-1zM145 57h1v1h-1zM147 57h1v1h-1zM149 57h1v1h-1zM5 58h1v1h-1zM18 58h1v1h-1zM24 58h1v1h-1zM29 58h1v1h-1zM31 58h1v1h-1zM35 58h1v1h-1zM36 58h1v1h-1zM37 58h1v1h-1zM42 58h1v1h-1zM51 58h1v1h-1zM55 58h1v1h-1zM58 58h1v1h-1zM70 58h1v1h-1zM75 58h1v1h-1zM81 58h1v1h-1zM93 58h1v1h-1zM101 58h1v1h-1zM102 58h1v1h-1zM109 58h1v1h-1zM117 58h1v1h-1zM119 58h1v1h-1zM124 58h1v1h-1zM125 58h1v1h-1zM128 58h1v1h-1zM133 58h1v1h-1zM147 58h1v1h-1zM149 58h1v1h-1zM0 59h1v1h-1zM5 59h1v1h-1zM7 59h1v1h-1zM17 59h1v1h-1zM19 59h1v1h-1zM37 59h1v1h-1zM41 59h1v1h-1zM47 59h1v1h-1zM51 59h1v1h-1zM52 59h1v1h-1zM55 59h1v1h-1zM57 59h1v1h-1zM60 59h1v1h-1zM68 59h1v1h-1zM79 59h1v1h-1zM87 59h1v1h-1zM91 59h1v1h-1zM98 59h1v1h-1zM100 59h1v1h-1zM101 59h1v1h-1zM104 59h1v1h-1zM107 59h1v1h-1zM112 59h1v1h-1zM113 59h1v1h-1zM115 59h1v1h-1zM117 59h1v1h-1zM123 59h1v1h-1zM126 59h1v1h-1zM127 59h1v1h-1zM129 59h1v1h-1zM132 59h1v1h-1zM140 59h1v1h-1zM1 60h1v1h-1zM3 60h1v1h-1zM23 60h1v1h-1zM28 60h1v1h-1zM30 60h1v1h-1zM33 60h1v1h-1zM37 60h1v1h-1zM50 60h1v1h-1zM57 60h1v1h-1zM58 60h1v1h-1zM60 60h1v1h-1zM64 60h1v1h-1zM68 60h1v1h-1zM70 60h1v1h-1zM75 60h1v1h-1zM77 60h1v1h-1zM80 60h1v1h-1zM90 60h1v1h-1zM94 60h1v1h-1zM111 60h1v1h-1zM126 60h1v1h-1zM127 60h1v1h-1zM129 60h1v1h-1zM132 60h1v1h-1zM133 60h1v1h-1zM139 60h1v1h-1zM145 60h1v1h-1zM146 60h1v1h-1zM147 60h1v1h-1zM148 60h1v1h-1zM1 61h1v1h-1zM25 61h1v1h-1zM26 61h1v1h-1zM31 61h1v1h-1zM32 61h1v1h-1zM33 61h1v1h-1zM35 61h1v1h-1zM45 61h1v1h-1zM50 61h1v1h-1zM51 61h1v1h-1zM52 61h1v1h-1zM57 61h1v1h-1zM62 61h1v1h-1zM67 61h1v1h-1zM88 61h1v1h-1zM92 61h1v1h-1zM94 61h1v1h-1zM99 61h1v1h-1zM100 61h1v1h-1zM104 61h1v1h-1zM124 61h1v1h-1zM133 61h1v1h-1zM140 61h1v1h-1zM143 61h1v1h-1zM145 61h1v1h-1zM148 61h1v1h-1zM149 61h1v1h-1zM6 62h1v1h-1zM10 62h1v1h-1zM19 62h1v1h-1zM24 62h1v1h-1zM29 62h1v1h-1zM39 62h1v1h-1zM40 62h1v1h-1zM46 62h1v1h-1zM48 62h1v1h-1zM52 62h1v1h-1zM55 62h1v1h-1zM56 62h1v1h-1zM74 62h1v1h-1zM80 62h1v1h-1zM84 62h1v1h-1zM96 62h1v1h-1zM103 62h1v1h-1zM108 62h1v1h-1zM111 62h1v1h-1zM119 62h1v1h-1zM126 62h1v1h-1zM130 62h1v1h-1zM132 62h1v1h-1zM133 62h1v1h-1zM138 62h1v1h-1zM141 62h1v1h-1zM143 62h1v1h-1zM147 62h1v1h-1zM12 63h1v1h-1zM38 63h1v1h-1zM43 63h1v1h-1zM46 63h1v1h-1zM54 63h1v1h-1zM58 63h1v1h-1zM67 63h1v1h-1zM76 63h1v1h-1zM82 63h1v1h-1zM85 63h1v1h-1zM89 63h1v1h-1zM96 63h1v1h-1zM98 63h1v1h-1zM99 63h1v1h-1zM101 63h1v1h-1zM103 63h1v1h-1zM142 63h1v1h-1zM1 64h1v1h-1zM5 64h1v1h-1zM17 64h1v1h-1zM23 64h1v1h-1zM24 64h1v1h-1zM41 64h1v1h-1zM44 64h1v1h-1zM46 64h1v1h-1zM50 64h1v1h-1zM67 64h1v1h-1zM74 64h1v1h-1zM75 64h1v1h-1zM85 64h1v1h-1zM88 64h1v1h-1zM89 64h1v1h-1zM91 64h1v1h-1zM99 64h1v1h-1zM100 64h1v1h-1zM123 64h1v1h-1zM132 64h1v1h-1zM136 64h1v1h-1zM138 64h1v1h-1zM139 64h1v1h-1zM143 64h1v1h-1zM146 64h1v1h-1zM149 64h1v1h-1zM0 65h1v1h-1zM5 65h1v1h-1zM6 65h1v1h-1zM11 65h1v1h-1zM20 65h1v1h-1zM22 65h1v1h-1zM27 65h1v1h-1zM28 65h1v1h-1zM48 65h1v1h-1zM52 65h1v1h-1zM55 65h1v1h-1zM60 65h1v1h-1zM61 65h1v1h-1zM62 65h1v1h-1zM65 65h1v1h-1zM68 65h1v1h-1zM71 65h1v1h-1zM73 65h1v1h-1zM85 65h1v1h-1zM95 65h1v1h-1zM100 65h1v1h-1zM101 65h1v1h-1zM114 65h1v1h-1zM120 65h1v1h-1zM126 65h1v1h-1zM133 65h1v1h-1zM1 66h1v1h-1zM8 66h1v1h-1zM9 66h1v1h-1zM11 66h1v1h-1zM20 66h1v1h-1zM31 66h1v1h-1zM33 66h1v1h-1zM44 66h1v1h-1zM49 66h1v1h-1zM51 66h1v1h-1zM52 66h1v1h-1zM59 66h1v1h-1zM76 66h1v1h-1zM77 66h1v1h-1zM81 66h1v1h-1zM86 66h1v1h-1zM93 66h1v1h-1zM100 66h1v1h-1zM110 66h1v1h-1zM111 66h1v1h-1zM112 66h1v1h-1zM113 66h1v1h-1zM114 66h1v1h-1zM124 66h1v1h-1zM125 66h1v1h-1zM139 66h1v1h-1zM144 66h1v1h-1zM147 66h1v1h-1zM6 67h1v1h-1zM17 67h1v1h-1zM18 67h1v1h-1zM19 67h1v1h-1zM21 67h1v1h-1zM22 67h1v1h-1zM23 67h1v1h-1zM37 67h1v1h-1zM40 67h1v1h-1zM42 67h1v1h-1zM45 67h1v1h-1zM46 67h1v1h-1zM49 67h1v1h-1zM52 67h1v1h-1zM55 67h1v1h-1zM67 67h1v1h-1zM76 67h1v1h-1zM77 67h1v1h-1zM80 67h1v1h-1zM81 67h1v1h-1zM83 67h1v1h-1zM87 67h1v1h-1zM91 67h1v1h-1zM101 67h1v1h-1zM104 67h1v1h-1zM109 67h1v1h-1zM112 67h1v1h-1zM116 67h1v1h-1zM128 67h1v1h-1zM133 67h1v1h-1zM137 67h1v1h-1zM142 67h1v1h-1zM146 67h1v1h-1zM148 67h1v1h-1zM0 68h1v1h-1zM8 68h1v1h-1zM12 68h1v1h-1zM13 68h1v1h-1zM18 68h1v1h-1zM35 68h1v1h-1zM36 68h1v1h-1zM39 68h1v1h-1zM44 68h1v1h-1zM52 68h1v1h-1zM53 68h1v1h-1zM55 68h1v1h-1zM66 68h1v1h-1zM71 68h1v1h-1zM75 68h1v1h-1zM76 68h1v1h-1zM83 68h1v1h-1zM87 68h1v1h-1zM91 68h1v1h-1zM92 68h1v1h-1zM98 68h1v1h-1zM101 68h1v1h-1zM103 68h1v1h-1zM111 68h1v1h-1zM114 68h1v1h-1zM115 68h1v1h-1zM119 68h1v1h-1zM127 68h1v1h-1zM130 68h1v1h-1zM138 68h1v1h-1zM142 68h1v1h-1zM148 68h1v1h-1zM0 69h1v1h-1zM3 69h1v1h-1zM4 69h1v1h-1zM5 69h1v1h-1zM29 69h1v1h-1zM36 69h1v1h-1zM41 69h1v1h-1zM50 69h1v1h-1zM54 69h1v1h-1zM55 69h1v1h-1zM69 69h1v1h-1zM71 69h1v1h-1zM73 69h1v1h-1zM84 69h1v1h-1zM86 69h1v1h-1zM88 69h1v1h-1zM92 69h1v1h-1zM95 69h1v1h-1zM97 69h1v1h-1zM99 69h1v1h-1zM100 69h1v1h-1zM106 69h1v1h-1zM120 69h1v1h-1zM125 69h1v1h-1zM132 69h1v1h-1zM147 69h1v1h-1zM149 69h1v1h-1zM7 70h1v1h-1zM12 70h1v1h-1zM14 70h1v1h-1zM15 70h1v1h-1zM16 70h1v1h-1zM20 70h1v1h-1zM22 70h1v1h-1zM30 70h1v1h-1zM32 70h1v1h-1zM34 70h1v1h-1zM41 70h1v1h-1zM49 70h1v1h-1zM50 70h1v1h-1zM52 70h1v1h-1zM53 70h1v1h-1zM60 70h1v1h-1zM63 70h1v1h-1zM66 70h1v1h-1zM78 70h1v1h-1zM95 70h1v1h-1zM96 70h1v1h-1zM100 70h1v1h-1zM106 70h1v1h-1zM108 70h1v1h-1zM116 70h1v1h-1zM123 70h1v1h-1zM130 70h1v1h-1zM131 70h1v1h-1zM140 70h1v1h-1zM143 70h1v1h-1zM10 71h1v1h-1zM11 71h1v1h-1zM14 71h1v1h-1zM18 71h1v1h-1zM22 71h1v1h-1zM23 71h1v1h-1zM24 71h1v1h-1zM33 71h1v1h-1zM41 71h1v1h-1zM56 71h1v1h-1zM59 71h1v1h-1zM60 71h1v1h-1zM62 71h1v1h-1zM63 71h1v1h-1zM75 71h1v1h-1zM82 71h1v1h-1zM83 71h1v1h-1zM84 71h1v1h-1zM88 71h1v1h-1zM102 71h1v1h-1zM109 71h1v1h-1zM121 71h1v1h-1zM125 71h1v1h-1zM129 71h1v1h-1zM134 71h1v1h-1zM138 71h1v1h-1zM139 71h1v1h-1zM2 72h1v1h-1zM3 72h1v1h-1zM5 72h1v1h-1zM11 72h1v1h-1zM14 72h1v1h-1zM19 72h1v1h-1zM33 72h1v1h-1zM44 72h1v1h-1zM45 72h1v1h-1zM50 72h1v1h-1zM62 72h1v1h-1zM74 72h1v1h-1zM78 72h1v1h-1zM81 72h1v1h-1zM88 72h1v1h-1zM96 72h1v1h-1zM97 72h1v1h-1zM98 72h1v1h-1zM105 72h1v1h-1zM106 72h1v1h-1zM116 72h1v1h-1zM127 72h1v1h-1zM128 72h1v1h-1zM135 72h1v1h-1zM139 72h1v1h-1zM146 72h1v1h-1zM147 72h1v1h-1zM9 73h1v1h-1zM22 73h1v1h-1zM24 73h1v1h-1zM28 73h1v1h-1zM36 73h1v1h-1zM43 73h1v1h-1zM47 73h1v1h-1zM49 73h1v1h-1zM56 73h1v1h-1zM57 73h1v1h-1zM58 73h1v1h-1zM59 73h1v1h-1zM65 73h1v1h-1zM68 73h1v1h-1zM76 73h1v1h-1zM78 73h1v1h-1zM79 73h1v1h-1zM83 73h1v1h-1zM87 73h1v1h-1zM89 73h1v1h-1zM96 73h1v1h-1zM97 73h1v1h-1zM99 73h1v1h-1zM115 73h1v1h-1zM125 73h1v1h-1zM139 73h1v1h-1zM141 73h1v1h-1zM16 74h1v1h-1zM24 74h1v1h-1zM27 74h1v1h-1zM28 74h1v1h-1zM30 74h1v1h-1zM32 74h1v1h-1zM33 74h1v1h-1zM39 74h1v1h-1zM50 74h1v1h-1zM59 74h1v1h-1zM61 74h1v1h-1zM62 74h1v1h-1zM65 74h1v1h-1zM77 74h1v1h-1zM78 74h1v1h-1zM81 74h1v1h-1zM83 74h1v1h-1zM84 74h1v1h-1zM106 74h1v1h-1zM112 74h1v1h-1zM114 74h1v1h-1zM118 74h1v1h-1zM123 74h1v1h-1zM126 74h1v1h-1zM130 74h1v1h-1zM133 74h1v1h-1zM139 74h1v1h-1zM141 74h1v1h-1zM144 74h1v1h-1zM0 75h1v1h-1zM3 75h1v1h-1zM7 75h1v1h-1zM28 75h1v1h-1zM37 75h1v1h-1zM38 75h1v1h-1zM40 75h1v1h-1zM42 75h1v1h-1zM52 75h1v1h-1zM78 75h1v1h-1zM82 75h1v1h-1zM83 75h1v1h-1zM84 75h1v1h-1zM93 75h1v1h-1zM94 75h1v1h-1zM95 75h1v1h-1zM101 75h1v1h-1zM109 75h1v1h-1zM128 75h1v1h-1zM138 75h1v1h-1zM142 75h1v1h-1zM143 75h1v1h-1zM144 75h1v1h-1zM146 75h1v1h-1zM148 75h1v1h-1zM2 76h1v1h-1zM3 76h1v1h-1zM11 76h1v1h-1zM15 76h1v1h-1zM16 76h1v1h-1zM19 76h1v1h-1zM20 76h1v1h-1zM32 76h1v1h-1zM43 76h1v1h-1zM44 76h1v1h-1zM48 76h1v1h-1zM54 76h1v1h-1zM56 76h1v1h-1zM63 76h1v1h-1zM65 76h1v1h-1zM67 76h1v1h-1zM90 76h1v1h-1zM101 76h1v1h-1zM102 76h1v1h-1zM112 76h1v1h-1zM117 76h1v1h-1zM122 76h1v1h-1zM126 76h1v1h-1zM127 76h1v1h-1zM130 76h1v1h-1zM137 76h1v1h-1zM146 76h1v1h-1zM149 76h1v1h-1zM0 77h1v1h-1zM1 77h1v1h-1zM4 77h1v1h-1zM15 77h1v1h-1zM16 77h1v1h-1zM19 77h1v1h-1zM21 77h1v1h-1zM26 77h1v1h-1zM28 77h1v1h-1zM40 77h1v1h-1zM44 77h1v1h-1zM46 77h1v1h-1zM54 77h1v1h-1zM57 77h1v1h-1zM60 77h1v1h-1zM64 77h1v1h-1zM69 77h1v1h-1zM73 77h1v1h-1zM80 77h1v1h-1zM83 77h1v1h-1zM85 77h1v1h-1zM88 77h1v1h-1zM95 77h1v1h-1zM106 77h1v1h-1zM109 77h1v1h-1zM112 77h1v1h-1zM115 77h1v1h-1zM128 77h1v1h-1zM134 77h1v1h-1zM137 77h1v1h-1zM139 77h1v1h-1zM141 77h1v1h-1zM5 78h1v1h-1zM13 78h1v1h-1zM19 78h1v1h-1zM33 78h1v1h-1zM35 78h1v1h-1zM36 78h1v1h-1zM54 78h1v1h-1zM55 78h1v1h-1zM57 78h1v1h-1zM61 78h1v1h-1zM69 78h1v1h-1zM71 78h1v1h-1zM82 78h1v1h-1zM85 78h1v1h-1zM86 78h1v1h-1zM87 78h1v1h-1zM92 78h1v1h-1zM95 78h1v1h-1zM97 78h1v1h-1zM98 78h1v1h-1zM99 78h1v1h-1zM103 78h1v1h-1zM108 78h1v1h-1zM110 78h1v1h-1zM116 78h1v1h-1zM120 78h1v1h-1zM135 78h1v1h-1zM142 78h1v1h-1zM146 78h1v1h-1zM4 79h1v1h-1zM10 79h1v1h-1zM13 79h1v1h-1zM17 79h1v1h-1zM20 79h1v1h-1zM24 79h1v1h-1zM26 79h1v1h-1zM35 79h1v1h-1zM41 79h1v1h-1zM49 79h1v1h-1zM52 79h1v1h-1zM54 79h1v1h-1zM62 79h1v1h-1zM63 79h1v1h-1zM65 79h1v1h-1zM73 79h1v1h-1zM82 79h1v1h-1zM83 79h1v1h-1zM98 79h1v1h-1zM102 79h1v1h-1zM109 79h1v1h-1zM110 79h1v1h-1zM118 79h1v1h-1zM119 79h1v1h-1zM125 79h1v1h-1zM130 79h1v1h-1zM132 79h1v1h-1zM140 79h1v1h-1zM15 80h1v1h-1zM16 80h1v1h-1zM20 80h1v1h-1zM32 80h1v1h-1zM36 80h1v1h-1zM43 80h1v1h-1zM48 80h1v1h-1zM49 80h1v1h-1zM52 80h1v1h-1zM58 80h1v1h-1zM60 80h1v1h-1zM79 80h1v1h-1zM80 80h1v1h-1zM83 80h1v1h-1zM87 80h1v1h-1zM89 80h1v1h-1zM93 80h1v1h-1zM97 80h1v1h-1zM100 80h1v1h-1zM104 80h1v1h-1zM105 80h1v1h-1zM109 80h1v1h-1zM110 80h1v1h-1zM115 80h1v1h-1zM118 80h1v1h-1zM120 80h1v1h-1zM121 80h1v1h-1zM127 80h1v1h-1zM130 80h1v1h-1zM136 80h1v1h-1zM138 80h1v1h-1zM145 80h1v1h-1zM148 80h1v1h-1zM5 81h1v1h-1zM6 81h1v1h-1zM8 81h1v1h-1zM14 81h1v1h-1zM15 81h1v1h-1zM20 81h1v1h-1zM25 81h1v1h-1zM31 81h1v1h-1zM33 81h1v1h-1zM40 81h1v1h-1zM42 81h1v1h-1zM52 81h1v1h-1zM62 81h1v1h-1zM67 81h1v1h-1zM68 81h1v1h-1zM76 81h1v1h-1zM78 81h1v1h-1zM79 81h1v1h-1zM82 81h1v1h-1zM84 81h1v1h-1zM86 81h1v1h-1zM93 81h1v1h-1zM96 81h1v1h-1zM105 81h1v1h-1zM109 81h1v1h-1zM114 81h1v1h-1zM123 81h1v1h-1zM126 81h1v1h-1zM139 81h1v1h-1zM145 81h1v1h-1zM0 82h1v1h-1zM7 82h1v1h-1zM13 82h1v1h-1zM18 82h1v1h-1zM33 82h1v1h-1zM39 82h1v1h-1zM40 82h1v1h-1zM43 82h1v1h-1zM46 82h1v1h-1zM50 82h1v1h-1zM53 82h1v1h-1zM55 82h1v1h-1zM68 82h1v1h-1zM82 82h1v1h-1zM91 82h1v1h-1zM96 82h1v1h-1zM104 82h1v1h-1zM105 82h1v1h-1zM114 82h1v1h-1zM116 82h1v1h-1zM119 82h1v1h-1zM121 82h1v1h-1zM126 82h1v1h-1zM130 82h1v1h-1zM147 82h1v1h-1zM148 82h1v1h-1zM2 83h1v1h-1zM3 83h1v1h-1zM9 83h1v1h-1zM13 83h1v1h-1zM28 83h1v1h-1zM30 83h1v1h-1zM37 83h1v1h-1zM42 83h1v1h-1zM51 83h1v1h-1zM57 83h1v1h-1zM65 83h1v1h-1zM73 83h1v1h-1zM77 83h1v1h-1zM80 83h1v1h-1zM83 83h1v1h-1zM84 83h1v1h-1zM87 83h1v1h-1zM89 83h1v1h-1zM91 83h1v1h-1zM93 83h1v1h-1zM94 83h1v1h-1zM95 83h1v1h-1zM98 83h1v1h-1zM103 83h1v1h-1zM111 83h1v1h-1zM125 83h1v1h-1zM138 83h1v1h-1zM5 84h1v1h-1zM7 84h1v1h-1zM9 84h1v1h-1zM12 84h1v1h-1zM15 84h1v1h-1zM20 84h1v1h-1zM23 84h1v1h-1zM34 84h1v1h-1zM35 84h1v1h-1zM41 84h1v1h-1zM43 84h1v1h-1zM48 84h1v1h-1zM52 84h1v1h-1zM59 84h1v1h-1zM75 84h1v1h-1zM81 84h1v1h-1zM82 84h1v1h-1zM83 84h1v1h-1zM84 84h1v1h-1zM90 84h1v1h-1zM92 84h1v1h-1zM93 84h1v1h-1zM107 84h1v1h-1zM111 84h1v1h-1zM128 84h1v1h-1zM130 84h1v1h-1zM133 84h1v1h-1zM146 84h1v1h-1zM147 84h1v1h-1zM1 85h1v1h-1zM15 85h1v1h-1zM17 85h1v1h-1zM27 85h1v1h-1zM30 85h1v1h-1zM38 85h1v1h-1zM41 85h1v1h-1zM54 85h1v1h-1zM59 85h1v1h-1zM60 85h1v1h-1zM67 85h1v1h-1zM71 85h1v1h-1zM72 85h1v1h-1zM74 85h1v1h-1zM87 85h1v1h-1zM88 85h1v1h-1zM112 85h1v1h-1zM113 85h1v1h-1zM115 85h1v1h-1zM120 85h1v1h-1zM129 85h1v1h-1zM133 85h1v1h-1zM135 85h1v1h-1zM136 85h1v1h-1zM1 86h1v1h-1zM4 86h1v1h-1zM9 86h1v1h-1zM11 86h1v1h-1zM33 86h1v1h-1zM42 86h1v1h-1zM43 86h1v1h-1zM44 86h1v1h-1zM46 86h1v1h-1zM60 86h1v1h-1zM70 86h1v1h-1zM78 86h1v1h-1zM87 86h1v1h-1zM92 86h1v1h-1zM99 86h1v1h-1zM104 86h1v1h-1zM110 86h1v1h-1zM117 86h1v1h-1zM121 86h1v1h-1zM124 86h1v1h-1zM133 86h1v1h-1zM141 86h1v1h-1zM148 86h1v1h-1zM149 86h1v1h-1zM1 87h1v1h-1zM4 87h1v1h-1zM7 87h1v1h-1zM16 87h1v1h-1zM21 87h1v1h-1zM22 87h1v1h-1zM26 87h1v1h-1zM32 87h1v1h-1zM40 87h1v1h-1zM41 87h1v1h-1zM51 87h1v1h-1zM57 87h1v1h-1zM75 87h1v1h-1zM76 87h1v1h-1zM87 87h1v1h-1zM95 87h1v1h-1zM98 87h1v1h-1zM102 87h1v1h-1zM106 87h1v1h-1zM108 87h1v1h-1zM114 87h1v1h-1zM132 87h1v1h-1zM140 87h1v1h-1zM146 87h1v1h-1zM6 88h1v1h-1zM13 88h1v1h-1zM17 88h1v1h-1zM29 88h1v1h-1zM35 88h1v1h-1zM42 88h1v1h-1zM46 88h1v1h-1zM48 88h1v1h-1zM58 88h1v1h-1zM59 88h1v1h-1zM66 88h1v1h-1zM88 88h1v1h-1zM97 88h1v1h-1zM104 88h1v1h-1zM120 88h1v1h-1zM122 88h1v1h-1zM137 88h1v1h-1zM140 88h1v1h-1zM0 89h1v1h-1zM1 89h1v1h-1zM16 89h1v1h-1zM17 89h1v1h-1zM23 89h1v1h-1zM27 89h1v1h-1zM28 89h1v1h-1zM41 89h1v1h-1zM44 89h1v1h-1zM51 89h1v1h-1zM53 89h1v1h-1zM55 89h1v1h-1zM66 89h1v1h-1zM69 89h1v1h-1zM73 89h1v1h-1zM75 89h1v1h-1zM93 89h1v1h-1zM96 89h1v1h-1zM102 89h1v1h-1zM108 89h1v1h-1zM114 89h1v1h-1zM129 89h1v1h-1zM134 89h1v1h-1zM135 89h1v1h-1zM139 89h1v1h-1zM143 89h1v1h-1zM148 89h1v1h-1zM3 90h1v1h-1zM8 90h1v1h-1zM21 90h1v1h-1zM25 90h1v1h-1zM32 90h1v1h-1zM35 90h1v1h-1zM41 90h1v1h-1zM48 90h1v1h-1zM49 90h1v1h-1zM57 90h1v1h-1zM58 90h1v1h-1zM76 90h1v1h-1zM83 90h1v1h-1zM97 90h1v1h-1zM105 90h1v1h-1zM119 90h1v1h-1zM129 90h1v1h-1zM139 90h1v1h-1zM0 91h1v1h-1zM2 91h1v1h-1zM8 91h1v1h-1zM10 91h1v1h-1zM11 91h1v1h-1zM16 91h1v1h-1zM19 91h1v1h-1zM22 91h1v1h-1zM25 91h1v1h-1zM26 91h1v1h-1zM27 91h1v1h-1zM29 91h1v1h-1zM31 91h1v1h-1zM37 91h1v1h-1zM41 91h1v1h-1zM47 91h1v1h-1zM58 91h1v1h-1zM63 91h1v1h-1zM64 91h1v1h-1zM66 91h1v1h-1zM69 91h1v1h-1zM78 91h1v1h-1zM80 91h1v1h-1zM85 91h1v1h-1zM87 91h1v1h-1zM89 91h1v1h-1zM109 91h1v1h-1zM115 91h1v1h-1zM117 91h1v1h-1zM118 91h1v1h-1zM124 91h1v1h-1zM129 91h1v1h-1zM133 91h1v1h-1zM135 91h1v1h-1zM138 91h1v1h-1zM141 91h1v1h-1zM143 91h1v1h-1zM2 92h1v1h-1zM3 92h1v1h-1zM8 92h1v1h-1zM15 92h1v1h-1zM19 92h1v1h-1zM21 92h1v1h-1zM23 92h1v1h-1zM24 92h1v1h-1zM27 92h1v1h-1zM41 92h1v1h-1zM42 92h1v1h-1zM47 92h1v1h-1zM48 92h1v1h-1zM51 92h1v1h-1zM55 92h1v1h-1zM56 92h1v1h-1zM61 92h1v1h-1zM63 92h1v1h-1zM64 92h1v1h-1zM65 92h1v1h-1zM72 92h1v1h-1zM73 92h1v1h-1zM76 92h1v1h-1zM84 92h1v1h-1zM95 92h1v1h-1zM100 92h1v1h-1zM110 92h1v1h-1zM116 92h1v1h-1zM121 92h1v1h-1zM131 92h1v1h-1zM132 92h1v1h-1zM134 92h1v1h-1zM137 92h1v1h-1zM140 92h1v1h-1zM148 92h1v1h-1zM4 93h1v1h-1zM7 93h1v1h-1zM14 93h1v1h-1zM16 93h1v1h-1zM24 93h1v1h-1zM26 93h1v1h-1zM33 93h1v1h-1zM48 93h1v1h-1zM55 93h1v1h-1zM56 93h1v1h-1zM57 93h1v1h-1zM59 93h1v1h-1zM64 93h1v1h-1zM66 93h1v1h-1zM67 93h1v1h-1zM71 93h1v1h-1zM72 93h1v1h-1zM78 93h1v1h-1zM81 93h1v1h-1zM84 93h1v1h-1zM89 93h1v1h-1zM92 93h1v1h-1zM94 93h1v1h-1zM106 93h1v1h-1zM112 93h1v1h-1zM115 93h1v1h-1zM116 93h1v1h-1zM118 93h1v1h-1zM121 93h1v1h-1zM126 93h1v1h-1zM131 93h1v1h-1zM4 94h1v1h-1zM16 94h1v1h-1zM18 94h1v1h-1zM19 94h1v1h-1zM26 94h1v1h-1zM27 94h1v1h-1zM36 94h1v1h-1zM39 94h1v1h-1zM48 94h1v1h-1zM54 94h1v1h-1zM62 94h1v1h-1zM67 94h1v1h-1zM69 94h1v1h-1zM70 94h1v1h-1zM73 94h1v1h-1zM75 94h1v1h-1zM94 94h1v1h-1zM101 94h1v1h-1zM109 94h1v1h-1zM117 94h1v1h-1zM118 94h1v1h-1zM131 94h1v1h-1zM132 94h1v1h-1zM133 94h1v1h-1zM142 94h1v1h-1zM147 94h1v1h-1zM2 95h1v1h-1zM16 95h1v1h-1zM17 95h1v1h-1zM38 95h1v1h-1zM41 95h1v1h-1zM42 95h1v1h-1zM45 95h1v1h-1zM46 95h1v1h-1zM52 95h1v1h-1zM53 95h1v1h-1zM56 95h1v1h-1zM64 95h1v1h-1zM65 95h1v1h-1zM70 95h1v1h-1zM71 95h1v1h-1zM87 95h1v1h-1zM92 95h1v1h-1zM94 95h1v1h-1zM108 95h1v1h-1zM109 95h1v1h-1zM114 95h1v1h-1zM115 95h1v1h-1zM121 95h1v1h-1zM123 95h1v1h-1zM127 95h1v1h-1zM131 95h1v1h-1zM137 95h1v1h-1zM139 95h1v1h-1zM140 95h1v1h-1zM144 95h1v1h-1zM149 95h1v1h-1zM0 96h1v1h-1zM8 96h1v1h-1zM12 96h1v1h-1zM14 96h1v1h-1zM18 96h1v1h-1zM19 96h1v1h-1zM26 96h1v1h-1zM31 96h1v1h-1zM32 96h1v1h-1zM35 96h1v1h-1zM36 96h1v1h-1zM38 96h1v1h-1zM39 96h1v1h-1zM42 96h1v1h-1zM46 96h1v1h-1zM51 96h1v1h-1zM56 96h1v1h-1zM59 96h1v1h-1zM73 96h1v1h-1zM78 96h1v1h-1zM80 96h1v1h-1zM83 96h1v1h-1zM85 96h1v1h-1zM90 96h1v1h-1zM93 96h1v1h-1zM97 96h1v1h-1zM108 96h1v1h-1zM110 96h1v1h-1zM124 96h1v1h-1zM126 96h1v1h-1zM129 96h1v1h-1zM136 96h1v1h-1zM138 96h1v1h-1zM139 96h1v1h-1zM141 96h1v1h-1zM142 96h1v1h-1zM1 97h1v1h-1zM3 97h1v1h-1zM8 97h1v1h-1zM34 97h1v1h-1zM36 97h1v1h-1zM38 97h1v1h-1zM42 97h1v1h-1zM51 97h1v1h-1zM53 97h1v1h-1zM58 97h1v1h-1zM60 97h1v1h-1zM65 97h1v1h-1zM66 97h1v1h-1zM77 97h1v1h-1zM83 97h1v1h-1zM90 97h1v1h-1zM91 97h1v1h-1zM93 97h1v1h-1zM95 97h1v1h-1zM106 97h1v1h-1zM110 97h1v1h-1zM114 97h1v1h-1zM122 97h1v1h-1zM134 97h1v1h-1zM136 97h1v1h-1zM143 97h1v1h-1zM147 97h1v1h-1zM17 98h1v1h-1zM18 98h1v1h-1zM27 98h1v1h-1zM35 98h1v1h-1zM40 98h1v1h-1zM42 98h1v1h-1zM48 98h1v1h-1zM54 98h1v1h-1zM63 98h1v1h-1zM72 98h1v1h-1zM80 98h1v1h-1zM83 98h1v1h-1zM85 98h1v1h-1zM92 98h1v1h-1zM93 98h1v1h-1zM98 98h1v1h-1zM100 98h1v1h-1zM111 98h1v1h-1zM112 98h1v1h-1zM114 98h1v1h-1zM124 98h1v1h-1zM130 98h1v1h-1zM135 98h1v1h-1zM136 98h1v1h-1zM140 98h1v1h-1zM3 99h1v1h-1zM14 99h1v1h-1zM20 99h1v1h-1zM24 99h1v1h-1zM30 99h1v1h-1zM36 99h1v1h-1zM43 99h1v1h-1zM44 99h1v1h-1zM49 99h1v1h-1zM55 99h1v1h-1zM63 99h1v1h-1zM71 99h1v1h-1zM91 99h1v1h-1zM103 99h1v1h-1zM110 99h1v1h-1zM114 99h1v1h-1zM115 99h1v1h-1zM122 99h1v1h-1zM124 99h1v1h-1zM127 99h1v1h-1zM129 99h1v1h-1zM140 99h1v1h-1zM141 99h1v1h-1zM144 99h1v1h-1zM149 99h1v1h-1zM5 100h1v1h-1zM10 100h1v1h-1zM31 100h1v1h-1zM33 100h1v1h-1zM34 100h1v1h-1zM37 100h1v1h-1zM39 100h1v1h-1zM42 100h1v1h-1zM49 100h1v1h-1zM53 100h1v1h-1zM60 100h1v1h-1zM73 100h1v1h-1zM84 100h1v1h-1zM87 100h1v1h-1zM89 100h1v1h-1zM95 100h1v1h-1zM97 100h1v1h-1zM99 100h1v1h-1zM101 100h1v1h-1zM106 100h1v1h-1zM110 100h1v1h-1zM120 100h1v1h-1zM122 100h1v1h-1zM123 100h1v1h-1zM126 100h1v1h-1zM127 100h1v1h-1zM132 100h1v1h-1zM142 100h1v1h-1zM146 100h1v1h-1zM2 101h1v1h-1zM3 101h1v1h-1zM5 101h1v1h-1zM24 101h1v1h-1zM31 101h1v1h-1zM38 101h1v1h-1zM43 101h1v1h-1zM48 101h1v1h-1zM51 101h1v1h-1zM54 101h1v1h-1zM55 101h1v1h-1zM60 101h1v1h-1zM62 101h1v1h-1zM68 101h1v1h-1zM79 101h1v1h-1zM90 101h1v1h-1zM93 101h1v1h-1zM97 101h1v1h-1zM104 101h1v1h-1zM107 101h1v1h-1zM115 101h1v1h-1zM125 101h1v1h-1zM135 101h1v1h-1zM136 101h1v1h-1zM143 101h1v1h-1zM144 101h1v1h-1zM146 101h1v1h-1zM149 101h1v1h-1zM0 102h1v1h-1zM2 102h1v1h-1zM13 102h1v1h-1zM16 102h1v1h-1zM19 102h1v1h-1zM27 102h1v1h-1zM28 102h1v1h-1zM33 102h1v1h-1zM37 102h1v1h-1zM38 102h1v1h-1zM39 102h1v1h-1zM45 102h1v1h-1zM48 102h1v1h-1zM59 102h1v1h-1zM60 102h1v1h-1zM65 102h1v1h-1zM72 102h1v1h-1zM76 102h1v1h-1zM79 102h1v1h-1zM84 102h1v1h-1zM87 102h1v1h-1zM93 102h1v1h-1zM95 102h1v1h-1zM101 102h1v1h-1zM105 102h1v1h-1zM108 102h1v1h-1zM122 102h1v1h-1zM128 102h1v1h-1zM134 102h1v1h-1zM136 102h1v1h-1zM146 102h1v1h-1zM147 102h1v1h-1zM149 102h1v1h-1zM1 103h1v1h-1zM3 103h1v1h-1zM4 103h1v1h-1zM11 103h1v1h-1zM12 103h1v1h-1zM16 103h1v1h-1zM19 103h1v1h-1zM24 103h1v1h-1zM33 103h1v1h-1zM44 103h1v1h-1zM50 103h1v1h-1zM51 103h1v1h-1zM57 103h1v1h-1zM59 103h1v1h-1zM67 103h1v1h-1zM68 103h1v1h-1zM71 103h1v1h-1zM79 103h1v1h-1zM81 103h1v1h-1zM87 103h1v1h-1zM88 103h1v1h-1zM91 103h1v1h-1zM118 103h1v1h-1zM132 103h1v1h-1zM135 103h1v1h-1zM143 103h1v1h-1zM1 104h1v1h-1zM22 104h1v1h-1zM33 104h1v1h-1zM34 104h1v1h-1zM36 104h1v1h-1zM39 104h1v1h-1zM46 104h1v1h-1zM53 104h1v1h-1zM58 104h1v1h-1zM75 104h1v1h-1zM80 104h1v1h-1zM81 104h1v1h-1zM91 104h1v1h-1zM93 104h1v1h-1zM102 104h1v1h-1zM109 104h1v1h-1zM116 104h1v1h-1zM117 104h1v1h-1zM119 104h1v1h-1zM121 104h1v1h-1zM129 104h1v1h-1zM134 104h1v1h-1zM135 104h1v1h-1zM138 104h1v1h-1zM141 104h1v1h-1zM146 104h1v1h-1zM7 105h1v1h-1zM20 105h1v1h-1zM40 105h1v1h-1zM42 105h1v1h-1zM43 105h1v1h-1zM46 105h1v1h-1zM47 105h1v1h-1zM51 105h1v1h-1zM52 105h1v1h-1zM66 105h1v1h-1zM69 105h1v1h-1zM73 105h1v1h-1zM81 105h1v1h-1zM87 105h1v1h-1zM89 105h1v1h-1zM91 105h1v1h-1zM92 105h1v1h-1zM95 105h1v1h-1zM96 105h1v1h-1zM100 105h1v1h-1zM104 105h1v1h-1zM113 105h1v1h-1zM114 105h1v1h-1zM115 105h1v1h-1zM118 105h1v1h-1zM119 105h1v1h-1zM123 105h1v1h-1zM130 105h1v1h-1zM137 105h1v1h-1zM140 105h1v1h-1zM148 105h1v1h-1zM6 106h1v1h-1zM7 106h1v1h-1zM9 106h1v1h-1zM12 106h1v1h-1zM15 106h1v1h-1zM22 106h1v1h-1zM26 106h1v1h-1zM35 106h1v1h-1zM36 106h1v1h-1zM37 106h1v1h-1zM38 106h1v1h-1zM58 106h1v1h-1zM63 106h1v1h-1zM65 106h1v1h-1zM78 106h1v1h-1zM87 106h1v1h-1zM90 106h1v1h-1zM93 106h1v1h-1zM94 106h1v1h-1zM95 106h1v1h-1zM110 106h1v1h-1zM123 106h1v1h-1zM124 106h1v1h-1zM127 106h1v1h-1zM128 106h1v1h-1zM129 106h1v1h-1zM130 106h1v1h-1zM132 106h1v1h-1zM136 106h1v1h-1zM137 106h1v1h-1zM145 106h1v1h-1zM146 106h1v1h-1zM8 107h1v1h-1zM14 107h1v1h-1zM15 107h1v1h-1zM20 107h1v1h-1zM25 107h1v1h-1zM30 107h1v1h-1zM31 107h1v1h-1zM36 107h1v1h-1zM40 107h1v1h-1zM42 107h1v1h-1zM45 107h1v1h-1zM47 107h1v1h-1zM49 107h1v1h-1zM54 107h1v1h-1zM55 107h1v1h-1zM62 107h1v1h-1zM64 107h1v1h-1zM66 107h1v1h-1zM73 107h1v1h-1zM74 107h1v1h-1zM76 107h1v1h-1zM81 107h1v1h-1zM101 107h1v1h-1zM102 107h1v1h-1zM110 107h1v1h-1zM111 107h1v1h-1zM117 107h1v1h-1zM121 107h1v1h-1zM136 107h1v1h-1zM138 107h1v1h-1zM139 107h1v1h-1zM145 107h1v1h-1zM146 107h1v1h-1zM148 107h1v1h-1zM8 108h1v1h-1zM11 108h1v1h-1zM12 108h1v1h-1zM15 108h1v1h-1zM19 108h1v1h-1zM26 108h1v1h-1zM27 108h1v1h-1zM32 108h1v1h-1zM35 108h1v1h-1zM36 108h1v1h-1zM39 108h1v1h-1zM41 108h1v1h-1zM43 108h1v1h-1zM44 108h1v1h-1zM47 108h1v1h-1zM59 108h1v1h-1zM61 108h1v1h-1zM62 108h1v1h-1zM68 108h1v1h-1zM71 108h1v1h-1zM74 108h1v1h-1zM76 108h1v1h-1zM82 108h1v1h-1zM100 108h1v1h-1zM102 108h1v1h-1zM105 108h1v1h-1zM109 108h1v1h-1zM115 108h1v1h-1zM118 108h1v1h-1zM128 108h1v1h-1zM130 108h1v1h-1zM133 108h1v1h-1zM135 108h1v1h-1zM138 108h1v1h-1zM140 108h1v1h-1zM144 108h1v1h-1zM147 108h1v1h-1zM149 108h1v1h-1zM6 109h1v1h-1zM18 109h1v1h-1zM19 109h1v1h-1zM24 109h1v1h-1zM25 109h1v1h-1zM27 109h1v1h-1zM30 109h1v1h-1zM41 109h1v1h-1zM43 109h1v1h-1zM55 109h1v1h-1zM61 109h1v1h-1zM69 109h1v1h-1zM73 109h1v1h-1zM74 109h1v1h-1zM77 109h1v1h-1zM81 109h1v1h-1zM85 109h1v1h-1zM87 109h1v1h-1zM90 109h1v1h-1zM97 109h1v1h-1zM110 109h1v1h-1zM116 109h1v1h-1zM126 109h1v1h-1zM132 109h1v1h-1zM136 109h1v1h-1zM141 109h1v1h-1zM0 110h1v1h-1zM3 110h1v1h-1zM9 110h1v1h-1zM10 110h1v1h-1zM14 110h1v1h-1zM16 110h1v1h-1zM20 110h1v1h-1zM23 110h1v1h-1zM25 110h1v1h-1zM27 110h1v1h-1zM33 110h1v1h-1zM50 110h1v1h-1zM51 110h1v1h-1zM52 110h1v1h-1zM59 110h1v1h-1zM63 110h1v1h-1zM66 110h1v1h-1zM72 110h1v1h-1zM74 110h1v1h-1zM75 110h1v1h-1zM80 110h1v1h-1zM85 110h1v1h-1zM92 110h1v1h-1zM95 110h1v1h-1zM104 110h1v1h-1zM111 110h1v1h-1zM115 110h1v1h-1zM117 110h1v1h-1zM122 110h1v1h-1zM133 110h1v1h-1zM139 110h1v1h-1zM140 110h1v1h-1zM147 110h1v1h-1zM12 111h1v1h-1zM13 111h1v1h-1zM23 111h1v1h-1zM27 111h1v1h-1zM29 111h1v1h-1zM31 111h1v1h-1zM35 111h1v1h-1zM38 111h1v1h-1zM39 111h1v1h-1zM48 111h1v1h-1zM51 111h1v1h-1zM52 111h1v1h-1zM55 111h1v1h-1zM56 111h1v1h-1zM57 111h1v1h-1zM60 111h1v1h-1zM68 111h1v1h-1zM74 111h1v1h-1zM85 111h1v1h-1zM89 111h1v1h-1zM93 111h1v1h-1zM97 111h1v1h-1zM101 111h1v1h-1zM105 111h1v1h-1zM108 111h1v1h-1zM129 111h1v1h-1zM131 111h1v1h-1zM132 111h1v1h-1zM137 111h1v1h-1zM141 111h1v1h-1zM5 112h1v1h-1zM6 112h1v1h-1zM20 112h1v1h-1zM23 112h1v1h-1zM35 112h1v1h-1zM36 112h1v1h-1zM46 112h1v1h-1zM51 112h1v1h-1zM52 112h1v1h-1zM55 112h1v1h-1zM59 112h1v1h-1zM65 112h1v1h-1zM70 112h1v1h-1zM71 112h1v1h-1zM76 112h1v1h-1zM78 112h1v1h-1zM79 112h1v1h-1zM83 112h1v1h-1zM86 112h1v1h-1zM87 112h1v1h-1zM88 112h1v1h-1zM90 112h1v1h-1zM92 112h1v1h-1zM96 112h1v1h-1zM112 112h1v1h-1zM114 112h1v1h-1zM121 112h1v1h-1zM123 112h1v1h-1zM126 112h1v1h-1zM128 112h1v1h-1zM137 112h1v1h-1zM146 112h1v1h-1zM1 113h1v1h-1zM4 113h1v1h-1zM5 113h1v1h-1zM12 113h1v1h-1zM35 113h1v1h-1zM38 113h1v1h-1zM43 113h1v1h-1zM55 113h1v1h-1zM56 113h1v1h-1zM57 113h1v1h-1zM63 113h1v1h-1zM71 113h1v1h-1zM88 113h1v1h-1zM90 113h1v1h-1zM100 113h1v1h-1zM103 113h1v1h-1zM104 113h1v1h-1zM106 113h1v1h-1zM111 113h1v1h-1zM116 113h1v1h-1zM118 113h1v1h-1zM124 113h1v1h-1zM127 113h1v1h-1zM136 113h1v1h-1zM137 113h1v1h-1zM6 114h1v1h-1zM20 114h1v1h-1zM21 114h1v1h-1zM26 114h1v1h-1zM28 114h1v1h-1zM31 114h1v1h-1zM35 114h1v1h-1zM40 114h1v1h-1zM43 114h1v1h-1zM45 114h1v1h-1zM62 114h1v1h-1zM64 114h1v1h-1zM68 114h1v1h-1zM69 114h1v1h-1zM73 114h1v1h-1zM79 114h1v1h-1zM81 114h1v1h-1zM84 114h1v1h-1zM85 114h1v1h-1zM86 114h1v1h-1zM97 114h1v1h-1zM98 114h1v1h-1zM100 114h1v1h-1zM104 114h1v1h-1zM118 114h1v1h-1zM119 114h1v1h-1zM121 114h1v1h-1zM123 114h1v1h-1zM126 114h1v1h-1zM128 114h1v1h-1zM131 114h1v1h-1zM135 114h1v1h-1zM136 114h1v1h-1zM137 114h1v1h-1zM143 114h1v1h-1zM148 114h1v1h-1zM0 115h1v1h-1zM4 115h1v1h-1zM6 115h1v1h-1zM16 115h1v1h-1zM18 115h1v1h-1zM19 115h1v1h-1zM26 115h1v1h-1zM29 115h1v1h-1zM43 115h1v1h-1zM49 115h1v1h-1zM56 115h1v1h-1zM57 115h1v1h-1zM59 115h1v1h-1zM66 115h1v1h-1zM67 115h1v1h-1zM73 115h1v1h-1zM76 115h1v1h-1zM87 115h1v1h-1zM91 115h1v1h-1zM95 115h1v1h-1zM99 115h1v1h-1zM101 115h1v1h-1zM107 115h1v1h-1zM130 115h1v1h-1zM132 115h1v1h-1zM135 115h1v1h-1zM140 115h1v1h-1zM9 116h1v1h-1zM10 116h1v1h-1zM23 116h1v1h-1zM33 116h1v1h-1zM42 116h1v1h-1zM47 116h1v1h-1zM54 116h1v1h-1zM56 116h1v1h-1zM62 116h1v1h-1zM66 116h1v1h-1zM69 116h1v1h-1zM77 116h1v1h-1zM84 116h1v1h-1zM86 116h1v1h-1zM94 116h1v1h-1zM95 116h1v1h-1zM97 116h1v1h-1zM98 116h1v1h-1zM104 116h1v1h-1zM113 116h1v1h-1zM118 116h1v1h-1zM133 116h1v1h-1zM140 116h1v1h-1zM141 116h1v1h-1zM149 116h1v1h-1zM0 117h1v1h-1zM8 117h1v1h-1zM14 117h1v1h-1zM18 117h1v1h-1zM20 117h1v1h-1zM22 117h1v1h-1zM23 117h1v1h-1zM26 117h1v1h-1zM35 117h1v1h-1zM36 117h1v1h-1zM38 117h1v1h-1zM57 117h1v1h-1zM59 117h1v1h-1zM74 117h1v1h-1zM75 117h1v1h-1zM76 117h1v1h-1zM85 117h1v1h-1zM96 117h1v1h-1zM97 117h1v1h-1zM98 117h1v1h-1zM105 117h1v1h-1zM124 117h1v1h-1zM130 117h1v1h-1zM138 117h1v1h-1zM140 117h1v1h-1zM147 117h1v1h-1zM149 117h1v1h-1zM1 118h1v1h-1zM6 118h1v1h-1zM29 118h1v1h-1zM37 118h1v1h-1zM41 118h1v1h-1zM45 118h1v1h-1zM51 118h1v1h-1zM55 118h1v1h-1zM57 118h1v1h-1zM58 118h1v1h-1zM67 118h1v1h-1zM77 118h1v1h-1zM81 118h1v1h-1zM85 118h1v1h-1zM87 118h1v1h-1zM94 118h1v1h-1zM102 118h1v1h-1zM110 118h1v1h-1zM111 118h1v1h-1zM115 118h1v1h-1zM117 118h1v1h-1zM121 118h1v1h-1zM122 118h1v1h-1zM123 118h1v1h-1zM124 118h1v1h-1zM125 118h1v1h-1zM126 118h1v1h-1zM128 118h1v1h-1zM139 118h1v1h-1zM147 118h1v1h-1zM148 118h1v1h-1zM2 119h1v1h-1zM5 119h1v1h-1zM16 119h1v1h-1zM19 119h1v1h-1zM27 119h1v1h-1zM28 119h1v1h-1zM46 119h1v1h-1zM50 119h1v1h-1zM51 119h1v1h-1zM52 119h1v1h-1zM55 119h1v1h-1zM57 119h1v1h-1zM59 119h1v1h-1zM61 119h1v1h-1zM69 119h1v1h-1zM73 119h1v1h-1zM77 119h1v1h-1zM78 119h1v1h-1zM79 119h1v1h-1zM80 119h1v1h-1zM83 119h1v1h-1zM87 119h1v1h-1zM89 119h1v1h-1zM92 119h1v1h-1zM94 119h1v1h-1zM98 119h1v1h-1zM99 119h1v1h-1zM103 119h1v1h-1zM106 119h1v1h-1zM111 119h1v1h-1zM114 119h1v1h-1zM124 119h1v1h-1zM131 119h1v1h-1zM132 119h1v1h-1zM138 119h1v1h-1zM140 119h1v1h-1zM141 119h1v1h-1zM147 119h1v1h-1zM148 119h1v1h-1zM0 120h1v1h-1zM4 120h1v1h-1zM16 120h1v1h-1zM28 120h1v1h-1zM33 120h1v1h-1zM37 120h1v1h-1zM45 120h1v1h-1zM46 120h1v1h-1zM49 120h1v1h-1zM53 120h1v1h-1zM58 120h1v1h-1zM65 120h1v1h-1zM69 120h1v1h-1zM73 120h1v1h-1zM74 120h1v1h-1zM76 120h1v1h-1zM77 120h1v1h-1zM78 120h1v1h-1zM86 120h1v1h-1zM88 120h1v1h-1zM101 120h1v1h-1zM103 120h1v1h-1zM109 120h1v1h-1zM112 120h1v1h-1zM120 120h1v1h-1zM124 120h1v1h-1zM128 120h1v1h-1zM130 120h1v1h-1zM135 120h1v1h-1zM143 120h1v1h-1zM145 120h1v1h-1zM0 121h1v1h-1zM2 121h1v1h-1zM9 121h1v1h-1zM10 121h1v1h-1zM17 121h1v1h-1zM20 121h1v1h-1zM37 121h1v1h-1zM40 121h1v1h-1zM42 121h1v1h-1zM49 121h1v1h-1zM56 121h1v1h-1zM57 121h1v1h-1zM70 121h1v1h-1zM76 121h1v1h-1zM83 121h1v1h-1zM87 121h1v1h-1zM92 121h1v1h-1zM107 121h1v1h-1zM113 121h1v1h-1zM115 121h1v1h-1zM120 121h1v1h-1zM123 121h1v1h-1zM126 121h1v1h-1zM127 121h1v1h-1zM128 121h1v1h-1zM131 121h1v1h-1zM134 121h1v1h-1zM143 121h1v1h-1zM144 121h1v1h-1zM7 122h1v1h-1zM15 122h1v1h-1zM18 122h1v1h-1zM20 122h1v1h-1zM23 122h1v1h-1zM29 122h1v1h-1zM33 122h1v1h-1zM41 122h1v1h-1zM54 122h1v1h-1zM55 122h1v1h-1zM66 122h1v1h-1zM69 122h1v1h-1zM72 122h1v1h-1zM74 122h1v1h-1zM75 122h1v1h-1zM77 122h1v1h-1zM83 122h1v1h-1zM87 122h1v1h-1zM89 122h1v1h-1zM91 122h1v1h-1zM100 122h1v1h-1zM102 122h1v1h-1zM103 122h1v1h-1zM105 122h1v1h-1zM106 122h1v1h-1zM111 122h1v1h-1zM112 122h1v1h-1zM117 122h1v1h-1zM124 122h1v1h-1zM125 122h1v1h-1zM126 122h1v1h-1zM128 122h1v1h-1zM136 122h1v1h-1zM140 122h1v1h-1zM146 122h1v1h-1zM148 122h1v1h-1zM21 123h1v1h-1zM23 123h1v1h-1zM29 123h1v1h-1zM33 123h1v1h-1zM34 123h1v1h-1zM37 123h1v1h-1zM40 123h1v1h-1zM44 123h1v1h-1zM52 123h1v1h-1zM53 123h1v1h-1zM55 123h1v1h-1zM56 123h1v1h-1zM58 123h1v1h-1zM60 123h1v1h-1zM64 123h1v1h-1zM65 123h1v1h-1zM67 123h1v1h-1zM72 123h1v1h-1zM73 123h1v1h-1zM77 123h1v1h-1zM79 123h1v1h-1zM81 123h1v1h-1zM85 123h1v1h-1zM93 123h1v1h-1zM96 123h1v1h-1zM97 123h1v1h-1zM110 123h1v1h-1zM118 123h1v1h-1zM121 123h1v1h-1zM122 123h1v1h-1zM130 123h1v1h-1zM131 123h1v1h-1zM141 123h1v1h-1zM145 123h1v1h-1zM3 124h1v1h-1zM8 124h1v1h-1zM22 124h1v1h-1zM29 124h1v1h-1zM30 124h1v1h-1zM36 124h1v1h-1zM42 124h1v1h-1zM52 124h1v1h-1zM54 124h1v1h-1zM57 124h1v1h-1zM64 124h1v1h-1zM71 124h1v1h-1zM72 124h1v1h-1zM75 124h1v1h-1zM77 124h1v1h-1zM78 124h1v1h-1zM79 124h1v1h-1zM80 124h1v1h-1zM83 124h1v1h-1zM89 124h1v1h-1zM91 124h1v1h-1zM96 124h1v1h-1zM101 124h1v1h-1zM102 124h1v1h-1zM107 124h1v1h-1zM109 124h1v1h-1zM120 124h1v1h-1zM121 124h1v1h-1zM122 124h1v1h-1zM139 124h1v1h-1zM143 124h1v1h-1zM144 124h1v1h-1zM149 124h1v1h-1zM0 125h1v1h-1zM18 125h1v1h-1zM22 125h1v1h-1zM24 125h1v1h-1zM27 125h1v1h-1zM29 125h1v1h-1zM33 125h1v1h-1zM35 125h1v1h-1zM39 125h1v1h-1zM40 125h1v1h-1zM43 125h1v1h-1zM45 125h1v1h-1zM46 125h1v1h-1zM53 125h1v1h-1zM54 125h1v1h-1zM58 125h1v1h-1zM69 125h1v1h-1zM71 125h1v1h-1zM77 125h1v1h-1zM89 125h1v1h-1zM93 125h1v1h-1zM99 125h1v1h-1zM104 125h1v1h-1zM107 125h1v1h-1zM114 125h1v1h-1zM118 125h1v1h-1zM122 125h1v1h-1zM126 125h1v1h-1zM133 125h1v1h-1zM134 125h1v1h-1zM137 125h1v1h-1zM147 125h1v1h-1zM0 126h1v1h-1zM12 126h1v1h-1zM26 126h1v1h-1zM37 126h1v1h-1zM39 126h1v1h-1zM40 126h1v1h-1zM46 126h1v1h-1zM47 126h1v1h-1zM48 126h1v1h-1zM60 126h1v1h-1zM64 126h1v1h-1zM67 126h1v1h-1zM71 126h1v1h-1zM80 126h1v1h-1zM89 126h1v1h-1zM92 126h1v1h-1zM93 126h1v1h-1zM97 126h1v1h-1zM101 126h1v1h-1zM106 126h1v1h-1zM122 126h1v1h-1zM128 126h1v1h-1zM135 126h1v1h-1zM137 126h1v1h-1zM145 126h1v1h-1zM0 127h1v1h-1zM3 127h1v1h-1zM6 127h1v1h-1zM7 127h1v1h-1zM8 127h1v1h-1zM16 127h1v1h-1zM20 127h1v1h-1zM22 127h1v1h-1zM26 127h1v1h-1zM32 127h1v1h-1zM42 127h1v1h-1zM49 127h1v1h-1zM51 127h1v1h-1zM54 127h1v1h-1zM55 127h1v1h-1zM56 127h1v1h-1zM62 127h1v1h-1zM69 127h1v1h-1zM75 127h1v1h-1zM76 127h1v1h-1zM78 127h1v1h-1zM79 127h1v1h-1zM92 127h1v1h-1zM94 127h1v1h-1zM103 127h1v1h-1zM115 127h1v1h-1zM124 127h1v1h-1zM130 127h1v1h-1zM135 127h1v1h-1zM139 127h1v1h-1zM149 127h1v1h-1zM2 128h1v1h-1zM6 128h1v1h-1zM12 128h1v1h-1zM14 128h1v1h-1zM15 128h1v1h-1zM18 128h1v1h-1zM29 128h1v1h-1zM34 128h1v1h-1zM36 128h1v1h-1zM49 128h1v1h-1zM50 128h1v1h-1zM52 128h1v1h-1zM54 128h1v1h-1zM55 128h1v1h-1zM56 128h1v1h-1zM59 128h1v1h-1zM60 128h1v1h-1zM72 128h1v1h-1zM73 128h1v1h-1zM82 128h1v1h-1zM93 128h1v1h-1zM99 128h1v1h-1zM104 128h1v1h-1zM106 128h1v1h-1zM108 128h1v1h-1zM120 128h1v1h-1zM127 128h1v1h-1zM129 128h1v1h-1zM131 128h1v1h-1zM135 128h1v1h-1zM144 128h1v1h-1zM147 128h1v1h-1zM5 129h1v1h-1zM8 129h1v1h-1zM17 129h1v1h-1zM22 129h1v1h-1zM32 129h1v1h-1zM40 129h1v1h-1zM41 129h1v1h-1zM52 129h1v1h-1zM69 129h1v1h-1zM71 129h1v1h-1zM78 129h1v1h-1zM80 129h1v1h-1zM81 129h1v1h-1zM85 129h1v1h-1zM89 129h1v1h-1zM93 129h1v1h-1zM95 129h1v1h-1zM103 129h1v1h-1zM112 129h1v1h-1zM120 129h1v1h-1zM122 129h1v1h-1zM125 129h1v1h-1zM128 129h1v1h-1zM133 129h1v1h-1zM134 129h1v1h-1zM6 130h1v1h-1zM11 130h1v1h-1zM14 130h1v1h-1zM25 130h1v1h-1zM26 130h1v1h-1zM29 130h1v1h-1zM41 130h1v1h-1zM42 130h1v1h-1zM56 130h1v1h-1zM60 130h1v1h-1zM73 130h1v1h-1zM79 130h1v1h-1zM80 130h1v1h-1zM81 130h1v1h-1zM95 130h1v1h-1zM98 130h1v1h-1zM103 130h1v1h-1zM113 130h1v1h-1zM114 130h1v1h-1zM120 130h1v1h-1zM124 130h1v1h-1zM129 130h1v1h-1zM134 130h1v1h-1zM143 130h1v1h-1zM2 131h1v1h-1zM4 131h1v1h-1zM5 131h1v1h-1zM12 131h1v1h-1zM17 131h1v1h-1zM18 131h1v1h-1zM32 131h1v1h-1zM57 131h1v1h-1zM62 131h1v1h-1zM67 131h1v1h-1zM83 131h1v1h-1zM96 131h1v1h-1zM97 131h1v1h-1zM99 131h1v1h-1zM109 131h1v1h-1zM116 131h1v1h-1zM122 131h1v1h-1zM135 131h1v1h-1zM136 131h1v1h-1zM138 131h1v1h-1zM144 131h1v1h-1zM148 131h1v1h-1zM6 132h1v1h-1zM10 132h1v1h-1zM14 132h1v1h-1zM15 132h1v1h-1zM16 132h1v1h-1zM22 132h1v1h-1zM23 132h1v1h-1zM43 132h1v1h-1zM45 132h1v1h-1zM48 132h1v1h-1zM53 132h1v1h-1zM70 132h1v1h-1zM72 132h1v1h-1zM85 132h1v1h-1zM93 132h1v1h-1zM96 132h1v1h-1zM103 132h1v1h-1zM107 132h1v1h-1zM108 132h1v1h-1zM111 132h1v1h-1zM117 132h1v1h-1zM118 132h1v1h-1zM122 132h1v1h-1zM125 132h1v1h-1zM131 132h1v1h-1zM132 132h1v1h-1zM136 132h1v1h-1zM139 132h1v1h-1zM140 132h1v1h-1zM143 132h1v1h-1zM144 132h1v1h-1zM146 132h1v1h-1zM149 132h1v1h-1zM2 133h1v1h-1zM8 133h1v1h-1zM12 133h1v1h-1zM14 133h1v1h-1zM18 133h1v1h-1zM34 133h1v1h-1zM37 133h1v1h-1zM45 133h1v1h-1zM50 133h1v1h-1zM60 133h1v1h-1zM61 133h1v1h-1zM64 133h1v1h-1zM65 133h1v1h-1zM68 133h1v1h-1zM69 133h1v1h-1zM71 133h1v1h-1zM80 133h1v1h-1zM83 133h1v1h-1zM84 133h1v1h-1zM91 133h1v1h-1zM99 133h1v1h-1zM108 133h1v1h-1zM109 133h1v1h-1zM110 133h1v1h-1zM113 133h1v1h-1zM115 133h1v1h-1zM116 133h1v1h-1zM118 133h1v1h-1zM121 133h1v1h-1zM127 133h1v1h-1zM128 133h1v1h-1zM139 133h1v1h-1zM142 133h1v1h-1zM148 133h1v1h-1zM6 134h1v1h-1zM10 134h1v1h-1zM27 134h1v1h-1zM30 134h1v1h-1zM32 134h1v1h-1zM38 134h1v1h-1zM40 134h1v1h-1zM43 134h1v1h-1zM51 134h1v1h-1zM53 134h1v1h-1zM55 134h1v1h-1zM57 134h1v1h-1zM60 134h1v1h-1zM62 134h1v1h-1zM85 134h1v1h-1zM104 134h1v1h-1zM106 134h1v1h-1zM110 134h1v1h-1zM112 134h1v1h-1zM119 134h1v1h-1zM121 134h1v1h-1zM125 134h1v1h-1zM130 134h1v1h-1zM133 134h1v1h-1zM137 134h1v1h-1zM139 134h1v1h-1zM140 134h1v1h-1zM143 134h1v1h-1zM146 134h1v1h-1zM147 134h1v1h-1zM2 135h1v1h-1zM6 135h1v1h-1zM10 135h1v1h-1zM13 135h1v1h-1zM20 135h1v1h-1zM25 135h1v1h-1zM36 135h1v1h-1zM37 135h1v1h-1zM41 135h1v1h-1zM43 135h1v1h-1zM45 135h1v1h-1zM50 135h1v1h-1zM51 135h1v1h-1zM59 135h1v1h-1zM60 135h1v1h-1zM70 135h1v1h-1zM72 135h1v1h-1zM92 135h1v1h-1zM99 135h1v1h-1zM105 135h1v1h-1zM113 135h1v1h-1zM115 135h1v1h-1zM118 135h1v1h-1zM129 135h1v1h-1zM131 135h1v1h-1zM133 135h1v1h-1zM134 135h1v1h-1zM140 135h1v1h-1zM144 135h1v1h-1zM148 135h1v1h-1zM7 136h1v1h-1zM8 136h1v1h-1zM10 136h1v1h-1zM28 136h1v1h-1zM29 136h1v1h-1zM31 136h1v1h-1zM32 136h1v1h-1zM33 136h1v1h-1zM43 136h1v1h-1zM51 136h1v1h-1zM55 136h1v1h-1zM56 136h1v1h-1zM60 136h1v1h-1zM64 136h1v1h-1zM66 136h1v1h-1zM68 136h1v1h-1zM71 136h1v1h-1zM78 136h1v1h-1zM80 136h1v1h-1zM84 136h1v1h-1zM93 136h1v1h-1zM94 136h1v1h-1zM101 136h1v1h-1zM106 136h1v1h-1zM111 136h1v1h-1zM115 136h1v1h-1zM116 136h1v1h-1zM117 136h1v1h-1zM120 136h1v1h-1zM124 136h1v1h-1zM126 136h1v1h-1zM134 136h1v1h-1zM136 136h1v1h-1zM137 136h1v1h-1zM139 136h1v1h-1zM141 136h1v1h-1zM147 136h1v1h-1zM148 136h1v1h-1zM2 137h1v1h-1zM9 137h1v1h-1zM16 137h1v1h-1zM18 137h1v1h-1zM20 137h1v1h-1zM24 137h1v1h-1zM29 137h1v1h-1zM39 137h1v1h-1zM41 137h1v1h-1zM47 137h1v1h-1zM56 137h1v1h-1zM61 137h1v1h-1zM68 137h1v1h-1zM71 137h1v1h-1zM77 137h1v1h-1zM81 137h1v1h-1zM84 137h1v1h-1zM88 137h1v1h-1zM89 137h1v1h-1zM94 137h1v1h-1zM95 137h1v1h-1zM96 137h1v1h-1zM111 137h1v1h-1zM119 137h1v1h-1zM126 137h1v1h-1zM128 137h1v1h-1zM133 137h1v1h-1zM134 137h1v1h-1zM141 137h1v1h-1zM145 137h1v1h-1zM147 137h1v1h-1zM1 138h1v1h-1zM3 138h1v1h-1zM7 138h1v1h-1zM9 138h1v1h-1zM16 138h1v1h-1zM22 138h1v1h-1zM25 138h1v1h-1zM32 138h1v1h-1zM36 138h1v1h-1zM45 138h1v1h-1zM59 138h1v1h-1zM66 138h1v1h-1zM70 138h1v1h-1zM77 138h1v1h-1zM85 138h1v1h-1zM86 138h1v1h-1zM90 138h1v1h-1zM92 138h1v1h-1zM108 138h1v1h-1zM109 138h1v1h-1zM111 138h1v1h-1zM112 138h1v1h-1zM121 138h1v1h-1zM123 138h1v1h-1zM126 138h1v1h-1zM127 138h1v1h-1zM128 138h1v1h-1zM132 138h1v1h-1zM137 138h1v1h-1zM138 138h1v1h-1zM0 139h1v1h-1zM2 139h1v1h-1zM4 139h1v1h-1zM15 139h1v1h-1zM20 139h1v1h-1zM21 139h1v1h-1zM26 139h1v1h-1zM45 139h1v1h-1zM47 139h1v1h-1zM53 139h1v1h-1zM54 139h1v1h-1zM56 139h1v1h-1zM57 139h1v1h-1zM61 139h1v1h-1zM65 139h1v1h-1zM74 139h1v1h-1zM76 139h1v1h-1zM79 139h1v1h-1zM80 139h1v1h-1zM85 139h1v1h-1zM93 139h1v1h-1zM95 139h1v1h-1zM113 139h1v1h-1zM115 139h1v1h-1zM116 139h1v1h-1zM119 139h1v1h-1zM133 139h1v1h-1zM141 139h1v1h-1zM0 140h1v1h-1zM8 140h1v1h-1zM11 140h1v1h-1zM23 140h1v1h-1zM26 140h1v1h-1zM43 140h1v1h-1zM44 140h1v1h-1zM48 140h1v1h-1zM53 140h1v1h-1zM54 140h1v1h-1zM58 140h1v1h-1zM65 140h1v1h-1zM69 140h1v1h-1zM72 140h1v1h-1zM73 140h1v1h-1zM76 140h1v1h-1zM79 140h1v1h-1zM81 140h1v1h-1zM84 140h1v1h-1zM103 140h1v1h-1zM110 140h1v1h-1zM112 140h1v1h-1zM116 140h1v1h-1zM117 140h1v1h-1zM121 140h1v1h-1zM123 140h1v1h-1zM124 140h1v1h-1zM130 140h1v1h-1zM133 140h1v1h-1zM2 141h1v1h-1zM5 141h1v1h-1zM20 141h1v1h-1zM21 141h1v1h-1zM23 141h1v1h-1zM25 141h1v1h-1zM30 141h1v1h-1zM34 141h1v1h-1zM40 141h1v1h-1zM44 141h1v1h-1zM45 141h1v1h-1zM55 141h1v1h-1zM57 141h1v1h-1zM58 141h1v1h-1zM68 141h1v1h-1zM70 141h1v1h-1zM72 141h1v1h-1zM110 141h1v1h-1zM111 141h1v1h-1zM125 141h1v1h-1zM135 141h1v1h-1zM142 141h1v1h-1zM143 141h1v1h-1zM147 141h1v1h-1zM20 142h1v1h-1zM21 142h1v1h-1zM29 142h1v1h-1zM30 142h1v1h-1zM44 142h1v1h-1zM53 142h1v1h-1zM57 142h1v1h-1zM70 142h1v1h-1zM74 142h1v1h-1zM79 142h1v1h-1zM80 142h1v1h-1zM85 142h1v1h-1zM87 142h1v1h-1zM89 142h1v1h-1zM96 142h1v1h-1zM97 142h1v1h-1zM105 142h1v1h-1zM112 142h1v1h-1zM113 142h1v1h-1zM123 142h1v1h-1zM126 142h1v1h-1zM139 142h1v1h-1zM140 142h1v1h-1zM141 142h1v1h-1zM144 142h1v1h-1zM1 143h1v1h-1zM6 143h1v1h-1zM9 143h1v1h-1zM10 143h1v1h-1zM19 143h1v1h-1zM21 143h1v1h-1zM25 143h1v1h-1zM32 143h1v1h-1zM35 143h1v1h-1zM43 143h1v1h-1zM59 143h1v1h-1zM65 143h1v1h-1zM66 143h1v1h-1zM69 143h1v1h-1zM78 143h1v1h-1zM81 143h1v1h-1zM82 143h1v1h-1zM83 143h1v1h-1zM85 143h1v1h-1zM96 143h1v1h-1zM99 143h1v1h-1zM102 143h1v1h-1zM103 143h1v1h-1zM111 143h1v1h-1zM123 143h1v1h-1zM130 143h1v1h-1zM131 143h1v1h-1zM147 143h1v1h-1zM3 144h1v1h-1zM5 144h1v1h-1zM7 144h1v1h-1zM20 144h1v1h-1zM21 144h1v1h-1zM22 144h1v1h-1zM30 144h1v1h-1zM39 144h1v1h-1zM40 144h1v1h-1zM46 144h1v1h-1zM48 144h1v1h-1zM53 144h1v1h-1zM54 144h1v1h-1zM57 144h1v1h-1zM64 144h1v1h-1zM68 144h1v1h-1zM72 144h1v1h-1zM84 144h1v1h-1zM86 144h1v1h-1zM93 144h1v1h-1zM107 144h1v1h-1zM109 144h1v1h-1zM111 144h1v1h-1zM114 144h1v1h-1zM116 144h1v1h-1zM117 144h1v1h-1zM130 144h1v1h-1zM134 144h1v1h-1zM9 145h1v1h-1zM25 145h1v1h-1zM26 145h1v1h-1zM29 145h1v1h-1zM35 145h1v1h-1zM43 145h1v1h-1zM50 145h1v1h-1zM52 145h1v1h-1zM68 145h1v1h-1zM74 145h1v1h-1zM78 145h1v1h-1zM95 145h1v1h-1zM100 145h1v1h-1zM105 145h1v1h-1zM110 145h1v1h-1zM128 145h1v1h-1zM134 145h1v1h-1zM136 145h1v1h-1zM140 145h1v1h-1zM142 145h1v1h-1zM145 145h1v1h-1zM148 145h1v1h-1zM13 146h1v1h-1zM28 146h1v1h-1zM31 146h1v1h-1zM38 146h1v1h-1zM44 146h1v1h-1zM47 146h1v1h-1zM48 146h1v1h-1zM64 146h1v1h-1zM66 146h1v1h-1zM75 146h1v1h-1zM77 146h1v1h-1zM87 146h1v1h-1zM91 146h1v1h-1zM100 146h1v1h-1zM114 146h1v1h-1zM118 146h1v1h-1zM120 146h1v1h-1zM121 146h1v1h-1zM128 146h1v1h-1zM134 146h1v1h-1zM144 146h1v1h-1zM145 146h1v1h-1zM148 146h1v1h-1zM2 147h1v1h-1zM6 147h1v1h-1zM9 147h1v1h-1zM11 147h1v1h-1zM20 147h1v1h-1zM21 147h1v1h-1zM35 147h1v1h-1zM37 147h1v1h-1zM39 147h1v1h-1zM44 147h1v1h-1zM49 147h1v1h-1zM52 147h1v1h-1zM59 147h1v1h-1zM66 147h1v1h-1zM69 147h1v1h-1zM73 147h1v1h-1zM75 147h1v1h-1zM79 147h1v1h-1zM82 147h1v1h-1zM83 147h1v1h-1zM84 147h1v1h-1zM85 147h1v1h-1zM88 147h1v1h-1zM90 147h1v1h-1zM91 147h1v1h-1zM93 147h1v1h-1zM94 147h1v1h-1zM100 147h1v1h-1zM108 147h1v1h-1zM111 147h1v1h-1zM112 147h1v1h-1zM114 147h1v1h-1zM115 147h1v1h-1zM116 147h1v1h-1zM120 147h1v1h-1zM123 147h1v1h-1zM125 147h1v1h-1zM126 147h1v1h-1zM127 147h1v1h-1zM131 147h1v1h-1zM140 147h1v1h-1zM7 148h1v1h-1zM9 148h1v1h-1zM13 148h1v1h-1zM17 148h1v1h-1zM18 148h1v1h-1zM23 148h1v1h-1zM41 148h1v1h-1zM76 148h1v1h-1zM77 148h1v1h-1zM78 148h1v1h-1zM85 148h1v1h-1zM93 148h1v1h-1zM95 148h1v1h-1zM96 148h1v1h-1zM100 148h1v1h-1zM102 148h1v1h-1zM111 148h1v1h-1zM112 148h1v1h-1zM117 148h1v1h-1zM124 148h1v1h-1zM135 148h1v1h-1zM139 148h1v1h-1zM140 148h1v1h-1zM144 148h1v1h-1zM5 149h1v1h-1zM14 149h1v1h-1zM15 149h1v1h-1zM17 149h1v1h-1zM28 149h1v1h-1zM36 149h1v1h-1zM40 149h1v1h-1zM43 149h1v1h-1zM44 149h1v1h-1zM46 149h1v1h-1zM49 149h1v1h-1zM50 149h1v1h-1zM55 149h1v1h-1zM68 149h1v1h-1zM71 149h1v1h-1zM76 149h1v1h-1zM87 149h1v1h-1zM89 149h1v1h-1zM99 149h1v1h-1zM103 149h1v1h-1zM111 149h1v1h-1zM120 149h1v1h-1zM121 149h1v1h-1zM122 149h1v1h-1zM123 149h1v1h-1zM128 149h1v1h-1zM135 149h1v1h-1zM139 149h1v1h-1zM141 149h1v1h-1z"/>
<path fill="rgb(22,22,22)" d="M14 0h1v1h-1zM43 0h1v1h-1zM47 0h1v1h-1zM62 0h1v1h-1zM79 0h1v1h-1zM126 0h1v1h-1zM136 0h1v1h-1zM144 0h1v1h-1zM148 0h1v1h-1zM3 1h1v1h-1zM12 1h1v1h-1zM30 1h1v1h-1zM68 1h1v1h-1zM106 1h1v1h-1zM130 1h1v1h-1zM135 1h1v1h-1zM25 2h1v1h-1zM31 2h1v1h-1zM56 2h1v1h-1zM79 2h1v1h-1zM86 2h1v1h-1zM99 2h1v1h-1zM100 2h1v1h-1zM127 2h1v1h-1zM131 2h1v1h-1zM0 3h1v1h-1zM10 3h1v1h-1zM17 3h1v1h-1zM19 3h1v1h-1zM29 3h1v1h-1zM58 3h1v1h-1zM75 3h1v1h-1zM84 3h1v1h-1zM104 3h1v1h-1zM106 3h1v1h-1zM113 3h1v1h-1zM121 3h1v1h-1zM122 3h1v1h-1zM131 3h1v1h-1zM3 4h1v1h-1zM19 4h1v1h-1zM20 4h1v1h-1zM28 4h1v1h-1zM67 4h1v1h-1zM74 4h1v1h-1zM76 4h1v1h-1zM95 4h1v1h-1zM126 4h1v1h-1zM133 4h1v1h-1zM148 4h1v1h-1zM3 5h1v1h-1zM14 5h1v1h-1zM22 5h1v1h-1zM37 5h1v1h-1zM46 5h1v1h-1zM53 5h1v1h-1zM78 5h1v1h-1zM80 5h1v1h-1zM83 5h1v1h-1zM96 5h1v1h-1zM108 5h1v1h-1zM110 5h1v1h-1zM135 5h1v1h-1zM139 5h1v1h-1zM7 6h1v1h-1zM8 6h1v1h-1zM29 6h1v1h-1zM55 6h1v1h-1zM60 6h1v1h-1zM72 6h1v1h-1zM80 6h1v1h-1zM101 6h1v1h-1zM132 6h1v1h-1zM13 7h1v1h-1zM25 7h1v1h-1zM46 7h1v1h-1zM62 7h1v1h-1zM70 7h1v1h-1zM78 7h1v1h-1zM88 7h1v1h-1zM115 7h1v1h-1zM121 7h1v1h-1zM133 7h1v1h-1zM138 7h1v1h-1zM143 7h1v1h-1zM4 8h1v1h-1zM28 8h1v1h-1zM55 8h1v1h-1zM58 8h1v1h-1zM74 8h1v1h-1zM94 8h1v1h-1zM104 8h1v1h-1zM106 8h1v1h-1zM26 9h1v1h-1zM30 9h1v1h-1zM42 9h1v1h-1zM56 9h1v1h-1zM57 9h1v1h-1zM68 9h1v1h-1zM118 9h1v1h-1zM119 9h1v1h-1zM124 9h1v1h-1zM133 9h1v1h-1zM145 9h1v1h-1zM14 10h1v1h-1zM23 10h1v1h-1zM74 10h1v1h-1zM118 10h1v1h-1zM38 11h1v1h-1zM59 11h1v1h-1zM83 11h1v1h-1zM91 11h1v1h-1zM96 11h1v1h-1zM99 11h1v1h-1zM100 11h1v1h-1zM133 11h1v1h-1zM147 11h1v1h-1zM1 12h1v1h-1zM50 12h1v1h-1zM70 12h1v1h-1zM111 12h1v1h-1zM141 12h1v1h-1zM144 12h1v1h-1zM4 13h1v1h-1zM6 13h1v1h-1zM8 13h1v1h-1zM43 13h1v1h-1zM47 13h1v1h-1zM63 13h1v1h-1zM71 13h1v1h-1zM74 13h1v1h-1zM93 13h1v1h-1zM96 13h1v1h-1zM99 13h1v1h-1zM106 13h1v1h-1zM123 13h1v1h-1zM149 13h1v1h-1zM9 14h1v1h-1zM16 14h1v1h-1zM21 14h1v1h-1zM23 14h1v1h-1zM78 14h1v1h-1zM91 14h1v1h-1zM125 14h1v1h-1zM126 14h1v1h-1zM11 15h1v1h-1zM14 15h1v1h-1zM25 15h1v1h-1zM37 15h1v1h-1zM38 15h1v1h-1zM54 15h1v1h-1zM63 15h1v1h-1zM64 15h1v1h-1zM92 15h1v1h-1zM107 15h1v1h-1zM117 15h1v1h-1zM122 15h1v1h-1zM127 15h1v1h-1zM142 15h1v1h-1zM145 15h1v1h-1zM1 16h1v1h-1zM8 16h1v1h-1zM19 16h1v1h-1zM22 16h1v1h-1zM24 16h1v1h-1zM69 16h1v1h-1zM76 16h1v1h-1zM101 16h1v1h-1zM110 16h1v1h-1zM142 16h1v1h-1zM2 17h1v1h-1zM17 17h1v1h-1zM27 17h1v1h-1zM56 17h1v1h-1zM85 17h1v1h-1zM108 17h1v1h-1zM120 17h1v1h-1zM4 18h1v1h-1zM5 18h1v1h-1zM15 18h1v1h-1zM16 18h1v1h-1zM36 18h1v1h-1zM37 18h1v1h-1zM41 18h1v1h-1zM51 18h1v1h-1zM54 18h1v1h-1zM56 18h1v1h-1zM66 18h1v1h-1zM89 18h1v1h-1zM91 18h1v1h-1zM127 18h1v1h-1zM137 18h1v1h-1zM3 19h1v1h-1zM4 19h1v1h-1zM25 19h1v1h-1zM50 19h1v1h-1zM51 19h1v1h-1zM53 19h1v1h-1zM55 19h1v1h-1zM90 19h1v1h-1zM101 19h1v1h-1zM113 19h1v1h-1zM148 19h1v1h-1zM24 20h1v1h-1zM68 20h1v1h-1zM75 20h1v1h-1zM132 20h1v1h-1zM1 21h1v1h-1zM15 21h1v1h-1zM27 21h1v1h-1zM47 21h1v1h-1zM49 21h1v1h-1zM65 21h1v1h-1zM78 21h1v1h-1zM90 21h1v1h-1zM114 21h1v1h-1zM119 21h1v1h-1zM127 21h1v1h-1zM149 21h1v1h-1zM10 22h1v1h-1zM16 22h1v1h-1zM56 22h1v1h-1zM59 22h1v1h-1zM63 22h1v1h-1zM117 22h1v1h-1zM123 22h1v1h-1zM7 23h1v1h-1zM26 23h1v1h-1zM27 23h1v1h-1zM42 23h1v1h-1zM66 23h1v1h-1zM84 23h1v1h-1zM89 23h1v1h-1zM116 23h1v1h-1zM148 23h1v1h-1zM3 24h1v1h-1zM25 24h1v1h-1zM38 24h1v1h-1zM90 24h1v1h-1zM99 24h1v1h-1zM142 24h1v1h-1zM76 25h1v1h-1zM100 25h1v1h-1zM142 25h1v1h-1zM23 26h1v1h-1zM59 26h1v1h-1zM80 26h1v1h-1zM113 26h1v1h-1zM133 26h1v1h-1zM11 27h1v1h-1zM29 27h1v1h-1zM38 27h1v1h-1zM68 27h1v1h-1zM78 27h1v1h-1zM84 27h1v1h-1zM93 27h1v1h-1zM116 27h1v1h-1zM137 27h1v1h-1zM4 28h1v1h-1zM7 28h1v1h-1zM10 28h1v1h-1zM18 28h1v1h-1zM19 28h1v1h-1zM26 28h1v1h-1zM30 28h1v1h-1zM33 28h1v1h-1zM52 28h1v1h-1zM72 28h1v1h-1zM77 28h1v1h-1zM97 28h1v1h-1zM106 28h1v1h-1zM133 28h1v1h-1zM6 29h1v1h-1zM39 29h1v1h-1zM47 29h1v1h-1zM50 29h1v1h-1zM91 29h1v1h-1zM128 29h1v1h-1zM138 29h1v1h-1zM23 30h1v1h-1zM64 30h1v1h-1zM95 30h1v1h-1zM96 30h1v1h-1zM97 30h1v1h-1zM126 30h1v1h-1zM133 30h1v1h-1zM142 30h1v1h-1zM18 31h1v1h-1zM31 31h1v1h-1zM36 31h1v1h-1zM50 31h1v1h-1zM56 31h1v1h-1zM93 31h1v1h-1zM104 31h1v1h-1zM122 31h1v1h-1zM126 31h1v1h-1zM148 31h1v1h-1zM44 32h1v1h-1zM57 32h1v1h-1zM58 32h1v1h-1zM65 32h1v1h-1zM75 32h1v1h-1zM81 32h1v1h-1zM86 32h1v1h-1zM90 32h1v1h-1zM101 32h1v1h-1zM102 32h1v1h-1zM109 32h1v1h-1zM124 32h1v1h-1zM142 32h1v1h-1zM145 32h1v1h-1zM50 33h1v1h-1zM55 33h1v1h-1zM56 33h1v1h-1zM85 33h1v1h-1zM121 33h1v1h-1zM131 33h1v1h-1zM132 33h1v1h-1zM20 34h1v1h-1zM63 34h1v1h-1zM91 34h1v1h-1zM98 34h1v1h-1zM101 34h1v1h-1zM110 34h1v1h-1zM116 34h1v1h-1zM147 34h1v1h-1zM7 35h1v1h-1zM11 35h1v1h-1zM12 35h1v1h-1zM26 35h1v1h-1zM29 35h1v1h-1zM46 35h1v1h-1zM84 35h1v1h-1zM95 35h1v1h-1zM147 35h1v1h-1zM5 36h1v1h-1zM22 36h1v1h-1zM41 36h1v1h-1zM69 36h1v1h-1zM70 36h1v1h-1zM79 36h1v1h-1zM116 36h1v1h-1zM27 37h1v1h-1zM35 37h1v1h-1zM49 37h1v1h-1zM53 37h1v1h-1zM64 37h1v1h-1zM74 37h1v1h-1zM125 37h1v1h-1zM26 38h1v1h-1zM28 38h1v1h-1zM29 38h1v1h-1zM80 38h1v1h-1zM90 38h1v1h-1zM94 38h1v1h-1zM103 38h1v1h-1zM126 38h1v1h-1zM128 38h1v1h-1zM9 39h1v1h-1zM20 39h1v1h-1zM22 39h1v1h-1zM30 39h1v1h-1zM88 39h1v1h-1zM91 39h1v1h-1zM101 39h1v1h-1zM103 39h1v1h-1zM122 39h1v1h-1zM127 39h1v1h-1zM137 39h1v1h-1zM29 40h1v1h-1zM31 40h1v1h-1zM33 40h1v1h-1zM40 40h1v1h-1zM42 40h1v1h-1zM66 40h1v1h-1zM79 40h1v1h-1zM92 40h1v1h-1zM103 40h1v1h-1zM109 40h1v1h-1zM112 40h1v1h-1zM113 40h1v1h-1zM134 40h1v1h-1zM141 40h1v1h-1zM144 40h1v1h-1zM146 40h1v1h-1zM11 41h1v1h-1zM19 41h1v1h-1zM30 41h1v1h-1zM45 41h1v1h-1zM57 41h1v1h-1zM83 41h1v1h-1zM104 41h1v1h-1zM112 41h1v1h-1zM115 41h1v1h-1zM116 41h1v1h-1zM124 41h1v1h-1zM127 41h1v1h-1zM133 41h1v1h-1zM137 41h1v1h-1zM139 41h1v1h-1zM147 41h1v1h-1zM18 42h1v1h-1zM39 42h1v1h-1zM52 42h1v1h-1zM56 42h1v1h-1zM77 42h1v1h-1zM91 42h1v1h-1zM114 42h1v1h-1zM137 42h1v1h-1zM20 43h1v1h-1zM41 43h1v1h-1zM47 43h1v1h-1zM48 43h1v1h-1zM67 43h1v1h-1zM87 43h1v1h-1zM103 43h1v1h-1zM111 43h1v1h-1zM116 43h1v1h-1zM122 43h1v1h-1zM124 43h1v1h-1zM134 43h1v1h-1zM143 43h1v1h-1zM15 44h1v1h-1zM25 44h1v1h-1zM27 44h1v1h-1zM31 44h1v1h-1zM61 44h1v1h-1zM63 44h1v1h-1zM64 44h1v1h-1zM70 44h1v1h-1zM76 44h1v1h-1zM79 44h1v1h-1zM104 44h1v1h-1zM105 44h1v1h-1zM109 44h1v1h-1zM117 44h1v1h-1zM119 44h1v1h-1zM141 44h1v1h-1zM4 45h1v1h-1zM45 45h1v1h-1zM57 45h1v1h-1zM66 45h1v1h-1zM80 45h1v1h-1zM88 45h1v1h-1zM100 45h1v1h-1zM108 45h1v1h-1zM143 45h1v1h-1zM144 45h1v1h-1zM36 46h1v1h-1zM43 46h1v1h-1zM92 46h1v1h-1zM113 46h1v1h-1zM125 46h1v1h-1zM135 46h1v1h-1zM143 46h1v1h-1zM29 47h1v1h-1zM49 47h1v1h-1zM55 47h1v1h-1zM56 47h1v1h-1zM57 47h1v1h-1zM61 47h1v1h-1zM74 47h1v1h-1zM96 47h1v1h-1zM97 47h1v1h-1zM108 47h1v1h-1zM110 47h1v1h-1zM112 47h1v1h-1zM2 48h1v1h-1zM11 48h1v1h-1zM77 48h1v1h-1zM78 48h1v1h-1zM88 48h1v1h-1zM98 48h1v1h-1zM82 49h1v1h-1zM115 49h1v1h-1zM117 49h1v1h-1zM138 49h1v1h-1zM19 50h1v1h-1zM38 50h1v1h-1zM66 50h1v1h-1zM87 50h1v1h-1zM130 50h1v1h-1zM146 50h1v1h-1zM12 51h1v1h-1zM16 51h1v1h-1zM29 51h1v1h-1zM45 51h1v1h-1zM49 51h1v1h-1zM59 51h1v1h-1zM85 51h1v1h-1zM111 51h1v1h-1zM137 51h1v1h-1zM7 52h1v1h-1zM8 52h1v1h-1zM16 52h1v1h-1zM48 52h1v1h-1zM67 52h1v1h-1zM110 52h1v1h-1zM116 52h1v1h-1zM117 52h1v1h-1zM140 52h1v1h-1zM148 52h1v1h-1zM21 53h1v1h-1zM26 53h1v1h-1zM70 53h1v1h-1zM92 53h1v1h-1zM100 53h1v1h-1zM122 53h1v1h-1zM123 53h1v1h-1zM128 53h1v1h-1zM140 53h1v1h-1zM147 53h1v1h-1zM0 54h1v1h-1zM1 54h1v1h-1zM2 54h1v1h-1zM23 54h1v1h-1zM43 54h1v1h-1zM52 54h1v1h-1zM56 54h1v1h-1zM66 54h1v1h-1zM69 54h1v1h-1zM73 54h1v1h-1zM79 54h1v1h-1zM102 54h1v1h-1zM120 54h1v1h-1zM121 54h1v1h-1zM125 54h1v1h-1zM142 54h1v1h-1zM144 54h1v1h-1zM148 54h1v1h-1zM38 55h1v1h-1zM40 55h1v1h-1zM55 55h1v1h-1zM128 55h1v1h-1zM22 56h1v1h-1zM56 56h1v1h-1zM69 56h1v1h-1zM77 56h1v1h-1zM133 56h1v1h-1zM20 57h1v1h-1zM37 57h1v1h-1zM42 57h1v1h-1zM56 57h1v1h-1zM67 57h1v1h-1zM77 57h1v1h-1zM80 57h1v1h-1zM81 57h1v1h-1zM85 57h1v1h-1zM89 57h1v1h-1zM93 57h1v1h-1zM94 57h1v1h-1zM95 57h1v1h-1zM97 57h1v1h-1zM115 57h1v1h-1zM119 57h1v1h-1zM129 57h1v1h-1zM13 58h1v1h-1zM40 58h1v1h-1zM79 58h1v1h-1zM85 58h1v1h-1zM98 58h1v1h-1zM115 58h1v1h-1zM116 58h1v1h-1zM123 58h1v1h-1zM12 59h1v1h-1zM15 59h1v1h-1zM21 59h1v1h-1zM32 59h1v1h-1zM34 59h1v1h-1zM39 59h1v1h-1zM54 59h1v1h-1zM64 59h1v1h-1zM84 59h1v1h-1zM89 59h1v1h-1zM111 59h1v1h-1zM122 59h1v1h-1zM142 59h1v1h-1zM143 59h1v1h-1zM6 60h1v1h-1zM9 60h1v1h-1zM22 60h1v1h-1zM38 60h1v1h-1zM53 60h1v1h-1zM59 60h1v1h-1zM78 60h1v1h-1zM87 60h1v1h-1zM105 60h1v1h-1zM116 60h1v1h-1zM124 60h1v1h-1zM142 60h1v1h-1zM143 60h1v1h-1zM0 61h1v1h-1zM10 61h1v1h-1zM44 61h1v1h-1zM73 61h1v1h-1zM78 61h1v1h-1zM91 61h1v1h-1zM95 61h1v1h-1zM97 61h1v1h-1zM113 61h1v1h-1zM121 61h1v1h-1zM3 62h1v1h-1zM8 62h1v1h-1zM22 62h1v1h-1zM58 62h1v1h-1zM93 62h1v1h-1zM121 62h1v1h-1zM135 62h1v1h-1zM5 63h1v1h-1zM16 63h1v1h-1zM26 63h1v1h-1zM39 63h1v1h-1zM50 63h1v1h-1zM72 63h1v1h-1zM74 63h1v1h-1zM75 63h1v1h-1zM84 63h1v1h-1zM92 63h1v1h-1zM94 63h1v1h-1zM118 63h1v1h-1zM128 63h1v1h-1zM141 63h1v1h-1zM26 64h1v1h-1zM31 64h1v1h-1zM35 64h1v1h-1zM49 64h1v1h-1zM71 64h1v1h-1zM102 64h1v1h-1zM117 64h1v1h-1zM7 65h1v1h-1zM9 65h1v1h-1zM30 65h1v1h-1zM66 65h1v1h-1zM76 65h1v1h-1zM102 65h1v1h-1zM113 65h1v1h-1zM116 65h1v1h-1zM118 65h1v1h-1zM138 65h1v1h-1zM17 66h1v1h-1zM32 66h1v1h-1zM38 66h1v1h-1zM40 66h1v1h-1zM45 66h1v1h-1zM46 66h1v1h-1zM69 66h1v1h-1zM71 66h1v1h-1zM96 66h1v1h-1zM131 66h1v1h-1zM1 67h1v1h-1zM34 67h1v1h-1zM71 67h1v1h-1zM111 67h1v1h-1zM118 67h1v1h-1zM139 67h1v1h-1zM1 68h1v1h-1zM10 68h1v1h-1zM16 68h1v1h-1zM21 68h1v1h-1zM43 68h1v1h-1zM63 68h1v1h-1zM64 68h1v1h-1zM88 68h1v1h-1zM95 68h1v1h-1zM113 68h1v1h-1zM116 68h1v1h-1zM124 68h1v1h-1zM2 69h1v1h-1zM24 69h1v1h-1zM48 69h1v1h-1zM61 69h1v1h-1zM65 69h1v1h-1zM77 69h1v1h-1zM101 69h1v1h-1zM116 69h1v1h-1zM117 69h1v1h-1zM9 70h1v1h-1zM57 70h1v1h-1zM83 70h1v1h-1zM105 70h1v1h-1zM112 70h1v1h-1zM113 70h1v1h-1zM118 70h1v1h-1zM121 70h1v1h-1zM136 70h1v1h-1zM1 71h1v1h-1zM21 71h1v1h-1zM34 71h1v1h-1zM67 71h1v1h-1zM73 71h1v1h-1zM91 71h1v1h-1zM94 71h1v1h-1zM115 71h1v1h-1zM122 71h1v1h-1zM124 71h1v1h-1zM141 71h1v1h-1zM7 72h1v1h-1zM13 72h1v1h-1zM31 72h1v1h-1zM71 72h1v1h-1zM84 72h1v1h-1zM117 72h1v1h-1zM21 73h1v1h-1zM38 73h1v1h-1zM53 73h1v1h-1zM60 73h1v1h-1zM86 73h1v1h-1zM120 73h1v1h-1zM134 73h1v1h-1zM144 73h1v1h-1zM148 73h1v1h-1zM14 74h1v1h-1zM49 74h1v1h-1zM52 74h1v1h-1zM55 74h1v1h-1zM56 74h1v1h-1zM67 74h1v1h-1zM72 74h1v1h-1zM98 74h1v1h-1zM101 74h1v1h-1zM107 74h1v1h-1zM132 74h1v1h-1zM143 74h1v1h-1zM4 75h1v1h-1zM14 75h1v1h-1zM29 75h1v1h-1zM44 75h1v1h-1zM49 75h1v1h-1zM50 75h1v1h-1zM70 75h1v1h-1zM79 75h1v1h-1zM106 75h1v1h-1zM118 75h1v1h-1zM21 76h1v1h-1zM36 76h1v1h-1zM47 76h1v1h-1zM62 76h1v1h-1zM116 76h1v1h-1zM136 76h1v1h-1zM2 77h1v1h-1zM3 77h1v1h-1zM7 77h1v1h-1zM27 77h1v1h-1zM33 77h1v1h-1zM41 77h1v1h-1zM47 77h1v1h-1zM66 77h1v1h-1zM82 77h1v1h-1zM92 77h1v1h-1zM107 77h1v1h-1zM113 77h1v1h-1zM116 77h1v1h-1zM117 77h1v1h-1zM3 78h1v1h-1zM23 78h1v1h-1zM26 78h1v1h-1zM51 78h1v1h-1zM62 78h1v1h-1zM138 78h1v1h-1zM8 79h1v1h-1zM15 79h1v1h-1zM22 79h1v1h-1zM30 79h1v1h-1zM43 79h1v1h-1zM70 79h1v1h-1zM71 79h1v1h-1zM72 79h1v1h-1zM92 79h1v1h-1zM106 79h1v1h-1zM135 79h1v1h-1zM145 79h1v1h-1zM13 80h1v1h-1zM14 80h1v1h-1zM35 80h1v1h-1zM41 80h1v1h-1zM45 80h1v1h-1zM95 80h1v1h-1zM108 80h1v1h-1zM112 80h1v1h-1zM123 80h1v1h-1zM135 80h1v1h-1zM143 80h1v1h-1zM1 81h1v1h-1zM17 81h1v1h-1zM39 81h1v1h-1zM44 81h1v1h-1zM107 81h1v1h-1zM116 81h1v1h-1zM132 81h1v1h-1zM14 82h1v1h-1zM24 82h1v1h-1zM28 82h1v1h-1zM31 82h1v1h-1zM44 82h1v1h-1zM64 82h1v1h-1zM65 82h1v1h-1zM69 82h1v1h-1zM137 82h1v1h-1zM11 83h1v1h-1zM48 83h1v1h-1zM68 83h1v1h-1zM79 83h1v1h-1zM81 83h1v1h-1zM117 83h1v1h-1zM119 83h1v1h-1zM122 83h1v1h-1zM131 83h1v1h-1zM132 83h1v1h-1zM141 83h1v1h-1zM10 84h1v1h-1zM17 84h1v1h-1zM44 84h1v1h-1zM54 84h1v1h-1zM64 84h1v1h-1zM70 84h1v1h-1zM79 84h1v1h-1zM96 84h1v1h-1zM102 84h1v1h-1zM104 84h1v1h-1zM105 84h1v1h-1zM122 84h1v1h-1zM126 84h1v1h-1zM129 84h1v1h-1zM140 84h1v1h-1zM22 85h1v1h-1zM35 85h1v1h-1zM40 85h1v1h-1zM44 85h1v1h-1zM64 85h1v1h-1zM94 85h1v1h-1zM96 85h1v1h-1zM103 85h1v1h-1zM146 85h1v1h-1zM147 85h1v1h-1zM6 86h1v1h-1zM8 86h1v1h-1zM16 86h1v1h-1zM28 86h1v1h-1zM50 86h1v1h-1zM62 86h1v1h-1zM66 86h1v1h-1zM80 86h1v1h-1zM96 86h1v1h-1zM114 86h1v1h-1zM132 86h1v1h-1zM3 87h1v1h-1zM12 87h1v1h-1zM19 87h1v1h-1zM20 87h1v1h-1zM30 87h1v1h-1zM55 87h1v1h-1zM56 87h1v1h-1zM69 87h1v1h-1zM70 87h1v1h-1zM72 87h1v1h-1zM91 87h1v1h-1zM149 87h1v1h-1zM18 88h1v1h-1zM21 88h1v1h-1zM44 88h1v1h-1zM47 88h1v1h-1zM61 88h1v1h-1zM65 88h1v1h-1zM68 88h1v1h-1zM94 88h1v1h-1zM105 88h1v1h-1zM10 89h1v1h-1zM32 89h1v1h-1zM40 89h1v1h-1zM48 89h1v1h-1zM61 89h1v1h-1zM62 89h1v1h-1zM70 89h1v1h-1zM100 89h1v1h-1zM109 89h1v1h-1zM124 89h1v1h-1zM146 89h1v1h-1zM11 90h1v1h-1zM30 90h1v1h-1zM36 90h1v1h-1zM46 90h1v1h-1zM65 90h1v1h-1zM72 90h1v1h-1zM80 90h1v1h-1zM82 90h1v1h-1zM114 90h1v1h-1zM122 90h1v1h-1zM128 90h1v1h-1zM20 91h1v1h-1zM88 91h1v1h-1zM92 91h1v1h-1zM94 91h1v1h-1zM101 91h1v1h-1zM103 91h1v1h-1zM105 91h1v1h-1zM122 91h1v1h-1zM134 91h1v1h-1zM136 91h1v1h-1zM34 92h1v1h-1zM43 92h1v1h-1zM74 92h1v1h-1zM78 92h1v1h-1zM91 92h1v1h-1zM122 92h1v1h-1zM142 92h1v1h-1zM146 92h1v1h-1zM19 93h1v1h-1zM35 93h1v1h-1zM45 93h1v1h-1zM46 93h1v1h-1zM54 93h1v1h-1zM70 93h1v1h-1zM75 93h1v1h-1zM82 93h1v1h-1zM88 93h1v1h-1zM91 93h1v1h-1zM111 93h1v1h-1zM120 93h1v1h-1zM129 93h1v1h-1zM130 93h1v1h-1zM139 93h1v1h-1zM141 93h1v1h-1zM1 94h1v1h-1zM2 94h1v1h-1zM32 94h1v1h-1zM34 94h1v1h-1zM56 94h1v1h-1zM64 94h1v1h-1zM106 94h1v1h-1zM116 94h1v1h-1zM134 94h1v1h-1zM144 94h1v1h-1zM11 95h1v1h-1zM31 95h1v1h-1zM33 95h1v1h-1zM34 95h1v1h-1zM55 95h1v1h-1zM59 95h1v1h-1zM67 95h1v1h-1zM69 95h1v1h-1zM96 95h1v1h-1zM116 95h1v1h-1zM119 95h1v1h-1zM124 95h1v1h-1zM133 95h1v1h-1zM141 95h1v1h-1zM142 95h1v1h-1zM28 96h1v1h-1zM37 96h1v1h-1zM44 96h1v1h-1zM49 96h1v1h-1zM52 96h1v1h-1zM57 96h1v1h-1zM77 96h1v1h-1zM101 96h1v1h-1zM118 96h1v1h-1zM135 96h1v1h-1zM146 96h1v1h-1zM14 97h1v1h-1zM17 97h1v1h-1zM39 97h1v1h-1zM67 97h1v1h-1zM111 97h1v1h-1zM115 97h1v1h-1zM116 97h1v1h-1zM123 97h1v1h-1zM124 97h1v1h-1zM131 97h1v1h-1zM137 97h1v1h-1zM1 98h1v1h-1zM13 98h1v1h-1zM16 98h1v1h-1zM57 98h1v1h-1zM74 98h1v1h-1zM84 98h1v1h-1zM104 98h1v1h-1zM126 98h1v1h-1zM143 98h1v1h-1zM4 99h1v1h-1zM6 99h1v1h-1zM15 99h1v1h-1zM45 99h1v1h-1zM48 99h1v1h-1zM106 99h1v1h-1zM138 99h1v1h-1zM12 100h1v1h-1zM29 100h1v1h-1zM35 100h1v1h-1zM45 100h1v1h-1zM52 100h1v1h-1zM83 100h1v1h-1zM118 100h1v1h-1zM138 100h1v1h-1zM58 101h1v1h-1zM67 101h1v1h-1zM78 101h1v1h-1zM95 101h1v1h-1zM105 101h1v1h-1zM127 101h1v1h-1zM63 102h1v1h-1zM64 102h1v1h-1zM81 102h1v1h-1zM133 102h1v1h-1zM0 103h1v1h-1zM10 103h1v1h-1zM13 103h1v1h-1zM17 103h1v1h-1zM21 103h1v1h-1zM22 103h1v1h-1zM23 103h1v1h-1zM34 103h1v1h-1zM41 103h1v1h-1zM66 103h1v1h-1zM103 103h1v1h-1zM112 103h1v1h-1zM131 103h1v1h-1zM5 104h1v1h-1zM8 104h1v1h-1zM16 104h1v1h-1zM68 104h1v1h-1zM69 104h1v1h-1zM70 104h1v1h-1zM73 104h1v1h-1zM120 104h1v1h-1zM143 104h1v1h-1zM5 105h1v1h-1zM25 105h1v1h-1zM55 105h1v1h-1zM71 105h1v1h-1zM102 105h1v1h-1zM105 105h1v1h-1zM112 105h1v1h-1zM135 105h1v1h-1zM10 106h1v1h-1zM14 106h1v1h-1zM16 106h1v1h-1zM40 106h1v1h-1zM45 106h1v1h-1zM50 106h1v1h-1zM97 106h1v1h-1zM105 106h1v1h-1zM1 107h1v1h-1zM17 107h1v1h-1zM41 107h1v1h-1zM44 107h1v1h-1zM72 107h1v1h-1zM106 107h1v1h-1zM131 107h1v1h-1zM46 108h1v1h-1zM48 108h1v1h-1zM52 108h1v1h-1zM66 108h1v1h-1zM89 108h1v1h-1zM103 108h1v1h-1zM125 108h1v1h-1zM5 109h1v1h-1zM40 109h1v1h-1zM51 109h1v1h-1zM53 109h1v1h-1zM67 109h1v1h-1zM68 109h1v1h-1zM79 109h1v1h-1zM94 109h1v1h-1zM109 109h1v1h-1zM119 109h1v1h-1zM137 109h1v1h-1zM149 109h1v1h-1zM13 110h1v1h-1zM21 110h1v1h-1zM22 110h1v1h-1zM43 110h1v1h-1zM110 110h1v1h-1zM118 110h1v1h-1zM124 110h1v1h-1zM22 111h1v1h-1zM67 111h1v1h-1zM110 111h1v1h-1zM111 111h1v1h-1zM143 111h1v1h-1zM0 112h1v1h-1zM4 112h1v1h-1zM39 112h1v1h-1zM44 112h1v1h-1zM58 112h1v1h-1zM67 112h1v1h-1zM81 112h1v1h-1zM89 112h1v1h-1zM101 112h1v1h-1zM107 112h1v1h-1zM122 112h1v1h-1zM127 112h1v1h-1zM129 112h1v1h-1zM135 112h1v1h-1zM136 112h1v1h-1zM141 112h1v1h-1zM145 112h1v1h-1zM47 113h1v1h-1zM49 113h1v1h-1zM66 113h1v1h-1zM69 113h1v1h-1zM72 113h1v1h-1zM84 113h1v1h-1zM95 113h1v1h-1zM126 113h1v1h-1zM132 113h1v1h-1zM145 113h1v1h-1zM8 114h1v1h-1zM23 114h1v1h-1zM48 114h1v1h-1zM67 114h1v1h-1zM70 114h1v1h-1zM90 114h1v1h-1zM96 114h1v1h-1zM99 114h1v1h-1zM102 114h1v1h-1zM105 114h1v1h-1zM110 114h1v1h-1zM130 114h1v1h-1zM133 114h1v1h-1zM147 114h1v1h-1zM45 115h1v1h-1zM48 115h1v1h-1zM61 115h1v1h-1zM64 115h1v1h-1zM68 115h1v1h-1zM106 115h1v1h-1zM112 115h1v1h-1zM149 115h1v1h-1zM13 116h1v1h-1zM52 116h1v1h-1zM58 116h1v1h-1zM67 116h1v1h-1zM81 116h1v1h-1zM126 116h1v1h-1zM136 116h1v1h-1zM13 117h1v1h-1zM16 117h1v1h-1zM34 117h1v1h-1zM66 117h1v1h-1zM69 117h1v1h-1zM73 117h1v1h-1zM107 117h1v1h-1zM136 117h1v1h-1zM7 118h1v1h-1zM18 118h1v1h-1zM22 118h1v1h-1zM31 118h1v1h-1zM32 118h1v1h-1zM60 118h1v1h-1zM83 118h1v1h-1zM132 118h1v1h-1zM141 118h1v1h-1zM142 118h1v1h-1zM10 119h1v1h-1zM25 119h1v1h-1zM48 119h1v1h-1zM49 119h1v1h-1zM62 119h1v1h-1zM67 119h1v1h-1zM68 119h1v1h-1zM93 119h1v1h-1zM104 119h1v1h-1zM109 119h1v1h-1zM116 119h1v1h-1zM135 119h1v1h-1zM3 120h1v1h-1zM7 120h1v1h-1zM8 120h1v1h-1zM17 120h1v1h-1zM23 120h1v1h-1zM67 120h1v1h-1zM68 120h1v1h-1zM111 120h1v1h-1zM115 120h1v1h-1zM119 120h1v1h-1zM133 120h1v1h-1zM19 121h1v1h-1zM27 121h1v1h-1zM30 121h1v1h-1zM31 121h1v1h-1zM38 121h1v1h-1zM53 121h1v1h-1zM79 121h1v1h-1zM81 121h1v1h-1zM93 121h1v1h-1zM97 121h1v1h-1zM114 121h1v1h-1zM129 121h1v1h-1zM146 121h1v1h-1zM3 122h1v1h-1zM5 122h1v1h-1zM27 122h1v1h-1zM42 122h1v1h-1zM67 122h1v1h-1zM79 122h1v1h-1zM95 122h1v1h-1zM101 122h1v1h-1zM104 122h1v1h-1zM134 122h1v1h-1zM147 122h1v1h-1zM7 123h1v1h-1zM14 123h1v1h-1zM22 123h1v1h-1zM27 123h1v1h-1zM83 123h1v1h-1zM99 123h1v1h-1zM100 123h1v1h-1zM104 123h1v1h-1zM124 123h1v1h-1zM134 123h1v1h-1zM13 124h1v1h-1zM17 124h1v1h-1zM47 124h1v1h-1zM65 124h1v1h-1zM73 124h1v1h-1zM125 124h1v1h-1zM130 124h1v1h-1zM131 124h1v1h-1zM146 124h1v1h-1zM37 125h1v1h-1zM51 125h1v1h-1zM65 125h1v1h-1zM74 125h1v1h-1zM98 125h1v1h-1zM110 125h1v1h-1zM130 125h1v1h-1zM9 126h1v1h-1zM10 126h1v1h-1zM24 126h1v1h-1zM27 126h1v1h-1zM35 126h1v1h-1zM54 126h1v1h-1zM62 126h1v1h-1zM69 126h1v1h-1zM75 126h1v1h-1zM85 126h1v1h-1zM100 126h1v1h-1zM102 126h1v1h-1zM105 126h1v1h-1zM116 126h1v1h-1zM118 126h1v1h-1zM121 126h1v1h-1zM143 126h1v1h-1zM11 127h1v1h-1zM28 127h1v1h-1zM30 127h1v1h-1zM40 127h1v1h-1zM64 127h1v1h-1zM74 127h1v1h-1zM86 127h1v1h-1zM118 127h1v1h-1zM142 127h1v1h-1zM33 128h1v1h-1zM44 128h1v1h-1zM57 128h1v1h-1zM79 128h1v1h-1zM80 128h1v1h-1zM87 128h1v1h-1zM97 128h1v1h-1zM111 128h1v1h-1zM130 128h1v1h-1zM0 129h1v1h-1zM21 129h1v1h-1zM24 129h1v1h-1zM34 129h1v1h-1zM55 129h1v1h-1zM92 129h1v1h-1zM119 129h1v1h-1zM121 129h1v1h-1zM138 129h1v1h-1zM148 129h1v1h-1zM13 130h1v1h-1zM38 130h1v1h-1zM58 130h1v1h-1zM66 130h1v1h-1zM76 130h1v1h-1zM78 130h1v1h-1zM102 130h1v1h-1zM104 130h1v1h-1zM115 130h1v1h-1zM128 130h1v1h-1zM147 130h1v1h-1zM21 131h1v1h-1zM56 131h1v1h-1zM59 131h1v1h-1zM60 131h1v1h-1zM71 131h1v1h-1zM79 131h1v1h-1zM85 131h1v1h-1zM106 131h1v1h-1zM110 131h1v1h-1zM119 131h1v1h-1zM143 131h1v1h-1zM21 132h1v1h-1zM36 132h1v1h-1zM58 132h1v1h-1zM63 132h1v1h-1zM75 132h1v1h-1zM77 132h1v1h-1zM30 133h1v1h-1zM54 133h1v1h-1zM82 133h1v1h-1zM104 133h1v1h-1zM133 133h1v1h-1zM143 133h1v1h-1zM1 134h1v1h-1zM8 134h1v1h-1zM14 134h1v1h-1zM15 134h1v1h-1zM20 134h1v1h-1zM29 134h1v1h-1zM31 134h1v1h-1zM42 134h1v1h-1zM54 134h1v1h-1zM56 134h1v1h-1zM58 134h1v1h-1zM65 134h1v1h-1zM66 134h1v1h-1zM76 134h1v1h-1zM91 134h1v1h-1zM115 134h1v1h-1zM116 134h1v1h-1zM30 135h1v1h-1zM39 135h1v1h-1zM52 135h1v1h-1zM57 135h1v1h-1zM61 135h1v1h-1zM69 135h1v1h-1zM93 135h1v1h-1zM107 135h1v1h-1zM109 135h1v1h-1zM127 135h1v1h-1zM139 135h1v1h-1zM0 136h1v1h-1zM2 136h1v1h-1zM5 136h1v1h-1zM9 136h1v1h-1zM13 136h1v1h-1zM38 136h1v1h-1zM44 136h1v1h-1zM50 136h1v1h-1zM61 136h1v1h-1zM65 136h1v1h-1zM91 136h1v1h-1zM99 136h1v1h-1zM104 136h1v1h-1zM119 136h1v1h-1zM123 136h1v1h-1zM146 136h1v1h-1zM13 137h1v1h-1zM23 137h1v1h-1zM26 137h1v1h-1zM35 137h1v1h-1zM65 137h1v1h-1zM69 137h1v1h-1zM74 137h1v1h-1zM92 137h1v1h-1zM116 137h1v1h-1zM135 137h1v1h-1zM137 137h1v1h-1zM144 137h1v1h-1zM2 138h1v1h-1zM14 138h1v1h-1zM28 138h1v1h-1zM42 138h1v1h-1zM102 138h1v1h-1zM105 138h1v1h-1zM117 138h1v1h-1zM131 138h1v1h-1zM146 138h1v1h-1zM149 138h1v1h-1zM13 139h1v1h-1zM16 139h1v1h-1zM33 139h1v1h-1zM39 139h1v1h-1zM64 139h1v1h-1zM83 139h1v1h-1zM97 139h1v1h-1zM107 139h1v1h-1zM111 139h1v1h-1zM121 139h1v1h-1zM124 139h1v1h-1zM132 139h1v1h-1zM28 140h1v1h-1zM62 140h1v1h-1zM70 140h1v1h-1zM71 140h1v1h-1zM82 140h1v1h-1zM85 140h1v1h-1zM89 140h1v1h-1zM90 140h1v1h-1zM95 140h1v1h-1zM105 140h1v1h-1zM120 140h1v1h-1zM135 140h1v1h-1zM144 140h1v1h-1zM18 141h1v1h-1zM38 141h1v1h-1zM39 141h1v1h-1zM65 141h1v1h-1zM77 141h1v1h-1zM84 141h1v1h-1zM90 141h1v1h-1zM103 141h1v1h-1zM113 141h1v1h-1zM126 141h1v1h-1zM140 141h1v1h-1zM15 142h1v1h-1zM23 142h1v1h-1zM68 142h1v1h-1zM75 142h1v1h-1zM143 142h1v1h-1zM15 143h1v1h-1zM17 143h1v1h-1zM38 143h1v1h-1zM52 143h1v1h-1zM71 143h1v1h-1zM92 143h1v1h-1zM97 143h1v1h-1zM100 143h1v1h-1zM101 143h1v1h-1zM146 143h1v1h-1zM42 144h1v1h-1zM49 144h1v1h-1zM102 144h1v1h-1zM103 144h1v1h-1zM108 144h1v1h-1zM128 144h1v1h-1zM132 144h1v1h-1zM138 144h1v1h-1zM22 145h1v1h-1zM42 145h1v1h-1zM59 145h1v1h-1zM86 145h1v1h-1zM93 145h1v1h-1zM135 145h1v1h-1zM138 145h1v1h-1zM139 145h1v1h-1zM149 145h1v1h-1zM20 146h1v1h-1zM32 146h1v1h-1zM39 146h1v1h-1zM56 146h1v1h-1zM82 146h1v1h-1zM117 146h1v1h-1zM126 146h1v1h-1zM137 146h1v1h-1zM15 147h1v1h-1zM24 147h1v1h-1zM25 147h1v1h-1zM31 147h1v1h-1zM46 147h1v1h-1zM74 147h1v1h-1zM86 147h1v1h-1zM103 147h1v1h-1zM128 147h1v1h-1zM132 147h1v1h-1zM28 148h1v1h-1zM51 148h1v1h-1zM55 148h1v1h-1zM57 148h1v1h-1zM69 148h1v1h-1zM87 148h1v1h-1zM90 148h1v1h-1zM92 148h1v1h-1zM97 148h1v1h-1zM98 148h1v1h-1zM99 148h1v1h-1zM108 148h1v1h-1zM120 148h1v1h-1zM0 149h1v1h-1zM4 149h1v1h-1zM22 149h1v1h-1zM27 149h1v1h-1zM80 149h1v1h-1zM86 149h1v1h-1zM114 149h1v1h-1zM116 149h1v1h-1zM124 149h1v1h-1zM144 149h1v1h-1zM146 149h1v1h-1z"/>
<path fill="rgb(30,30,30)" d="M17 0h1v1h-1zM66 0h1v1h-1zM19 1h1v1h-1zM28 1h1v1h-1zM50 1h1v1h-1zM73 1h1v1h-1zM107 1h1v1h-1zM110 1h1v1h-1zM75 2h1v1h-1zM83 2h1v1h-1zM103 2h1v1h-1zM113 2h1v1h-1zM85 3h1v1h-1zM112 3h1v1h-1zM5 4h1v1h-1zM25 4h1v1h-1zM26 4h1v1h-1zM53 4h1v1h-1zM61 4h1v1h-1zM82 4h1v1h-1zM137 4h1v1h-1zM140 4h1v1h-1zM34 5h1v1h-1zM85 5h1v1h-1zM91 5h1v1h-1zM99 5h1v1h-1zM147 5h1v1h-1zM13 6h1v1h-1zM26 6h1v1h-1zM88 6h1v1h-1zM117 6h1v1h-1zM16 7h1v1h-1zM22 7h1v1h-1zM28 7h1v1h-1zM75 7h1v1h-1zM98 7h1v1h-1zM125 7h1v1h-1zM36 8h1v1h-1zM72 8h1v1h-1zM86 8h1v1h-1zM115 8h1v1h-1zM136 8h1v1h-1zM147 8h1v1h-1zM65 9h1v1h-1zM95 9h1v1h-1zM102 9h1v1h-1zM141 9h1v1h-1zM24 10h1v1h-1zM76 10h1v1h-1zM128 10h1v1h-1zM149 10h1v1h-1zM31 11h1v1h-1zM57 11h1v1h-1zM13 12h1v1h-1zM81 12h1v1h-1zM129 12h1v1h-1zM137 12h1v1h-1zM146 12h1v1h-1zM14 13h1v1h-1zM60 13h1v1h-1zM98 13h1v1h-1zM133 13h1v1h-1zM106 14h1v1h-1zM141 14h1v1h-1zM10 15h1v1h-1zM22 15h1v1h-1zM36 15h1v1h-1zM87 15h1v1h-1zM128 15h1v1h-1zM6 16h1v1h-1zM47 16h1v1h-1zM55 16h1v1h-1zM119 16h1v1h-1zM134 16h1v1h-1zM124 17h1v1h-1zM3 18h1v1h-1zM57 18h1v1h-1zM84 18h1v1h-1zM120 18h1v1h-1zM29 19h1v1h-1zM63 19h1v1h-1zM65 19h1v1h-1zM99 19h1v1h-1zM146 20h1v1h-1zM14 21h1v1h-1zM35 21h1v1h-1zM92 21h1v1h-1zM121 21h1v1h-1zM31 22h1v1h-1zM57 22h1v1h-1zM127 22h1v1h-1zM139 22h1v1h-1zM16 23h1v1h-1zM20 23h1v1h-1zM39 23h1v1h-1zM79 23h1v1h-1zM95 23h1v1h-1zM128 23h1v1h-1zM114 24h1v1h-1zM144 24h1v1h-1zM24 25h1v1h-1zM25 25h1v1h-1zM35 25h1v1h-1zM79 25h1v1h-1zM82 25h1v1h-1zM83 25h1v1h-1zM111 25h1v1h-1zM116 25h1v1h-1zM149 25h1v1h-1zM8 26h1v1h-1zM44 26h1v1h-1zM54 26h1v1h-1zM99 26h1v1h-1zM110 26h1v1h-1zM132 26h1v1h-1zM2 27h1v1h-1zM34 27h1v1h-1zM47 27h1v1h-1zM48 27h1v1h-1zM55 27h1v1h-1zM81 27h1v1h-1zM108 27h1v1h-1zM143 27h1v1h-1zM31 28h1v1h-1zM120 28h1v1h-1zM94 29h1v1h-1zM132 29h1v1h-1zM147 29h1v1h-1zM10 30h1v1h-1zM14 30h1v1h-1zM34 30h1v1h-1zM144 30h1v1h-1zM149 30h1v1h-1zM33 31h1v1h-1zM45 31h1v1h-1zM88 31h1v1h-1zM50 32h1v1h-1zM51 32h1v1h-1zM63 32h1v1h-1zM70 32h1v1h-1zM89 32h1v1h-1zM93 32h1v1h-1zM144 32h1v1h-1zM10 33h1v1h-1zM69 33h1v1h-1zM119 33h1v1h-1zM138 33h1v1h-1zM17 34h1v1h-1zM34 34h1v1h-1zM71 34h1v1h-1zM73 34h1v1h-1zM82 34h1v1h-1zM129 34h1v1h-1zM130 34h1v1h-1zM47 35h1v1h-1zM142 35h1v1h-1zM35 36h1v1h-1zM56 36h1v1h-1zM85 36h1v1h-1zM102 36h1v1h-1zM114 36h1v1h-1zM137 36h1v1h-1zM4 37h1v1h-1zM42 37h1v1h-1zM54 37h1v1h-1zM79 37h1v1h-1zM98 37h1v1h-1zM14 38h1v1h-1zM53 38h1v1h-1zM54 38h1v1h-1zM132 38h1v1h-1zM45 39h1v1h-1zM139 39h1v1h-1zM32 40h1v1h-1zM50 40h1v1h-1zM21 41h1v1h-1zM85 41h1v1h-1zM95 41h1v1h-1zM135 41h1v1h-1zM44 42h1v1h-1zM85 42h1v1h-1zM140 42h1v1h-1zM52 43h1v1h-1zM57 43h1v1h-1zM64 43h1v1h-1zM82 43h1v1h-1zM88 43h1v1h-1zM98 43h1v1h-1zM101 43h1v1h-1zM149 43h1v1h-1zM38 44h1v1h-1zM41 44h1v1h-1zM48 44h1v1h-1zM127 44h1v1h-1zM19 45h1v1h-1zM29 45h1v1h-1zM33 45h1v1h-1zM104 45h1v1h-1zM107 45h1v1h-1zM126 45h1v1h-1zM12 46h1v1h-1zM85 46h1v1h-1zM87 46h1v1h-1zM123 46h1v1h-1zM15 47h1v1h-1zM36 47h1v1h-1zM39 47h1v1h-1zM65 47h1v1h-1zM69 47h1v1h-1zM76 47h1v1h-1zM86 47h1v1h-1zM65 48h1v1h-1zM91 48h1v1h-1zM137 48h1v1h-1zM17 49h1v1h-1zM88 49h1v1h-1zM105 49h1v1h-1zM128 49h1v1h-1zM149 49h1v1h-1zM22 50h1v1h-1zM43 50h1v1h-1zM79 50h1v1h-1zM89 50h1v1h-1zM110 50h1v1h-1zM25 51h1v1h-1zM43 51h1v1h-1zM48 51h1v1h-1zM115 51h1v1h-1zM10 52h1v1h-1zM37 52h1v1h-1zM46 52h1v1h-1zM80 52h1v1h-1zM111 52h1v1h-1zM121 52h1v1h-1zM123 52h1v1h-1zM69 53h1v1h-1zM88 53h1v1h-1zM103 53h1v1h-1zM7 54h1v1h-1zM16 54h1v1h-1zM126 54h1v1h-1zM136 54h1v1h-1zM145 54h1v1h-1zM146 54h1v1h-1zM149 54h1v1h-1zM0 55h1v1h-1zM109 55h1v1h-1zM145 55h1v1h-1zM25 56h1v1h-1zM26 56h1v1h-1zM104 56h1v1h-1zM105 56h1v1h-1zM120 56h1v1h-1zM130 56h1v1h-1zM45 58h1v1h-1zM60 58h1v1h-1zM143 58h1v1h-1zM124 59h1v1h-1zM20 60h1v1h-1zM118 60h1v1h-1zM82 61h1v1h-1zM106 61h1v1h-1zM111 61h1v1h-1zM142 61h1v1h-1zM9 62h1v1h-1zM20 62h1v1h-1zM36 62h1v1h-1zM45 62h1v1h-1zM72 62h1v1h-1zM97 62h1v1h-1zM115 62h1v1h-1zM28 63h1v1h-1zM42 63h1v1h-1zM63 63h1v1h-1zM11 64h1v1h-1zM53 64h1v1h-1zM86 64h1v1h-1zM116 64h1v1h-1zM144 64h1v1h-1zM17 65h1v1h-1zM42 65h1v1h-1zM43 65h1v1h-1zM97 65h1v1h-1zM122 65h1v1h-1zM123 65h1v1h-1zM34 66h1v1h-1zM41 66h1v1h-1zM62 66h1v1h-1zM122 66h1v1h-1zM0 67h1v1h-1zM13 67h1v1h-1zM88 67h1v1h-1zM119 67h1v1h-1zM126 67h1v1h-1zM5 68h1v1h-1zM15 68h1v1h-1zM20 68h1v1h-1zM24 68h1v1h-1zM30 68h1v1h-1zM46 68h1v1h-1zM74 68h1v1h-1zM128 68h1v1h-1zM143 68h1v1h-1zM147 68h1v1h-1zM7 69h1v1h-1zM8 69h1v1h-1zM21 69h1v1h-1zM23 69h1v1h-1zM137 69h1v1h-1zM3 70h1v1h-1zM33 70h1v1h-1zM28 71h1v1h-1zM37 71h1v1h-1zM80 71h1v1h-1zM0 72h1v1h-1zM1 72h1v1h-1zM28 72h1v1h-1zM59 72h1v1h-1zM131 72h1v1h-1zM1 73h1v1h-1zM118 73h1v1h-1zM133 73h1v1h-1zM13 74h1v1h-1zM17 74h1v1h-1zM21 74h1v1h-1zM22 74h1v1h-1zM25 74h1v1h-1zM58 74h1v1h-1zM70 74h1v1h-1zM97 74h1v1h-1zM124 74h1v1h-1zM125 74h1v1h-1zM97 75h1v1h-1zM122 75h1v1h-1zM57 76h1v1h-1zM89 76h1v1h-1zM120 76h1v1h-1zM143 76h1v1h-1zM38 77h1v1h-1zM56 77h1v1h-1zM86 77h1v1h-1zM138 77h1v1h-1zM81 78h1v1h-1zM91 78h1v1h-1zM100 78h1v1h-1zM128 78h1v1h-1zM7 79h1v1h-1zM79 79h1v1h-1zM19 80h1v1h-1zM34 80h1v1h-1zM47 80h1v1h-1zM66 81h1v1h-1zM94 81h1v1h-1zM106 81h1v1h-1zM120 81h1v1h-1zM30 82h1v1h-1zM36 82h1v1h-1zM38 82h1v1h-1zM41 82h1v1h-1zM54 82h1v1h-1zM117 82h1v1h-1zM124 82h1v1h-1zM124 83h1v1h-1zM55 84h1v1h-1zM60 84h1v1h-1zM72 84h1v1h-1zM32 85h1v1h-1zM63 85h1v1h-1zM68 85h1v1h-1zM77 85h1v1h-1zM139 85h1v1h-1zM3 86h1v1h-1zM13 86h1v1h-1zM17 86h1v1h-1zM24 86h1v1h-1zM40 86h1v1h-1zM65 86h1v1h-1zM82 86h1v1h-1zM83 86h1v1h-1zM90 86h1v1h-1zM143 86h1v1h-1zM103 87h1v1h-1zM105 87h1v1h-1zM129 87h1v1h-1zM22 88h1v1h-1zM55 88h1v1h-1zM129 88h1v1h-1zM7 89h1v1h-1zM81 89h1v1h-1zM131 89h1v1h-1zM52 90h1v1h-1zM59 90h1v1h-1zM61 90h1v1h-1zM95 90h1v1h-1zM117 90h1v1h-1zM21 91h1v1h-1zM81 91h1v1h-1zM30 92h1v1h-1zM44 92h1v1h-1zM59 92h1v1h-1zM2 93h1v1h-1zM109 93h1v1h-1zM132 93h1v1h-1zM24 94h1v1h-1zM120 94h1v1h-1zM139 94h1v1h-1zM35 95h1v1h-1zM48 95h1v1h-1zM76 95h1v1h-1zM86 95h1v1h-1zM93 95h1v1h-1zM104 95h1v1h-1zM110 95h1v1h-1zM129 95h1v1h-1zM146 95h1v1h-1zM100 96h1v1h-1zM103 96h1v1h-1zM114 96h1v1h-1zM122 96h1v1h-1zM5 97h1v1h-1zM94 97h1v1h-1zM107 97h1v1h-1zM118 97h1v1h-1zM0 98h1v1h-1zM2 98h1v1h-1zM31 98h1v1h-1zM81 98h1v1h-1zM91 98h1v1h-1zM102 98h1v1h-1zM5 99h1v1h-1zM16 99h1v1h-1zM21 99h1v1h-1zM38 99h1v1h-1zM53 99h1v1h-1zM59 99h1v1h-1zM81 99h1v1h-1zM7 100h1v1h-1zM22 100h1v1h-1zM27 100h1v1h-1zM139 100h1v1h-1zM143 100h1v1h-1zM11 101h1v1h-1zM47 101h1v1h-1zM50 101h1v1h-1zM71 101h1v1h-1zM87 101h1v1h-1zM145 101h1v1h-1zM121 102h1v1h-1zM124 102h1v1h-1zM127 102h1v1h-1zM132 102h1v1h-1zM5 103h1v1h-1zM53 103h1v1h-1zM92 103h1v1h-1zM110 103h1v1h-1zM138 103h1v1h-1zM4 104h1v1h-1zM40 104h1v1h-1zM52 104h1v1h-1zM140 104h1v1h-1zM142 104h1v1h-1zM22 105h1v1h-1zM29 105h1v1h-1zM86 105h1v1h-1zM69 106h1v1h-1zM72 106h1v1h-1zM88 106h1v1h-1zM92 106h1v1h-1zM108 106h1v1h-1zM119 106h1v1h-1zM0 107h1v1h-1zM12 107h1v1h-1zM46 107h1v1h-1zM56 107h1v1h-1zM60 107h1v1h-1zM61 107h1v1h-1zM97 107h1v1h-1zM104 107h1v1h-1zM143 107h1v1h-1zM93 108h1v1h-1zM139 108h1v1h-1zM12 109h1v1h-1zM107 109h1v1h-1zM117 109h1v1h-1zM125 109h1v1h-1zM131 109h1v1h-1zM37 110h1v1h-1zM90 110h1v1h-1zM103 110h1v1h-1zM121 110h1v1h-1zM2 111h1v1h-1zM10 111h1v1h-1zM34 111h1v1h-1zM63 111h1v1h-1zM76 111h1v1h-1zM77 111h1v1h-1zM82 111h1v1h-1zM19 112h1v1h-1zM24 112h1v1h-1zM50 112h1v1h-1zM53 112h1v1h-1zM54 112h1v1h-1zM91 112h1v1h-1zM118 112h1v1h-1zM119 112h1v1h-1zM68 113h1v1h-1zM87 113h1v1h-1zM99 113h1v1h-1zM125 113h1v1h-1zM148 113h1v1h-1zM94 114h1v1h-1zM115 114h1v1h-1zM129 114h1v1h-1zM17 115h1v1h-1zM27 115h1v1h-1zM78 115h1v1h-1zM82 115h1v1h-1zM117 115h1v1h-1zM124 115h1v1h-1zM144 115h1v1h-1zM18 116h1v1h-1zM27 116h1v1h-1zM102 116h1v1h-1zM108 116h1v1h-1zM142 116h1v1h-1zM31 117h1v1h-1zM37 117h1v1h-1zM109 117h1v1h-1zM113 117h1v1h-1zM9 118h1v1h-1zM69 118h1v1h-1zM72 118h1v1h-1zM0 119h1v1h-1zM44 119h1v1h-1zM66 119h1v1h-1zM117 119h1v1h-1zM130 119h1v1h-1zM6 120h1v1h-1zM50 120h1v1h-1zM51 120h1v1h-1zM89 120h1v1h-1zM91 120h1v1h-1zM146 120h1v1h-1zM26 121h1v1h-1zM118 121h1v1h-1zM121 121h1v1h-1zM53 122h1v1h-1zM70 122h1v1h-1zM86 122h1v1h-1zM24 123h1v1h-1zM14 125h1v1h-1zM50 125h1v1h-1zM72 125h1v1h-1zM128 125h1v1h-1zM139 125h1v1h-1zM19 126h1v1h-1zM38 126h1v1h-1zM83 126h1v1h-1zM84 126h1v1h-1zM87 126h1v1h-1zM110 126h1v1h-1zM129 126h1v1h-1zM48 127h1v1h-1zM59 127h1v1h-1zM114 127h1v1h-1zM116 127h1v1h-1zM125 127h1v1h-1zM0 128h1v1h-1zM110 128h1v1h-1zM132 128h1v1h-1zM13 129h1v1h-1zM23 129h1v1h-1zM26 129h1v1h-1zM44 129h1v1h-1zM84 129h1v1h-1zM104 129h1v1h-1zM118 129h1v1h-1zM35 130h1v1h-1zM14 131h1v1h-1zM40 131h1v1h-1zM68 131h1v1h-1zM73 131h1v1h-1zM11 132h1v1h-1zM12 132h1v1h-1zM44 132h1v1h-1zM99 132h1v1h-1zM20 133h1v1h-1zM26 133h1v1h-1zM53 133h1v1h-1zM56 133h1v1h-1zM74 133h1v1h-1zM90 133h1v1h-1zM136 133h1v1h-1zM137 133h1v1h-1zM145 133h1v1h-1zM70 134h1v1h-1zM89 134h1v1h-1zM95 134h1v1h-1zM107 134h1v1h-1zM123 134h1v1h-1zM58 135h1v1h-1zM65 135h1v1h-1zM68 135h1v1h-1zM82 135h1v1h-1zM83 135h1v1h-1zM98 135h1v1h-1zM42 136h1v1h-1zM74 136h1v1h-1zM89 136h1v1h-1zM3 137h1v1h-1zM33 137h1v1h-1zM42 137h1v1h-1zM4 138h1v1h-1zM53 138h1v1h-1zM104 138h1v1h-1zM43 139h1v1h-1zM91 139h1v1h-1zM127 139h1v1h-1zM138 139h1v1h-1zM36 140h1v1h-1zM47 140h1v1h-1zM51 140h1v1h-1zM60 140h1v1h-1zM146 140h1v1h-1zM9 141h1v1h-1zM50 141h1v1h-1zM52 141h1v1h-1zM66 141h1v1h-1zM85 141h1v1h-1zM107 141h1v1h-1zM2 142h1v1h-1zM5 142h1v1h-1zM47 142h1v1h-1zM55 142h1v1h-1zM71 142h1v1h-1zM127 142h1v1h-1zM4 143h1v1h-1zM45 143h1v1h-1zM61 143h1v1h-1zM112 143h1v1h-1zM121 143h1v1h-1zM11 145h1v1h-1zM27 145h1v1h-1zM69 145h1v1h-1zM71 145h1v1h-1zM114 145h1v1h-1zM79 146h1v1h-1zM81 146h1v1h-1zM96 146h1v1h-1zM98 146h1v1h-1zM103 146h1v1h-1zM106 146h1v1h-1zM16 147h1v1h-1zM17 147h1v1h-1zM27 147h1v1h-1zM29 147h1v1h-1zM48 147h1v1h-1zM71 148h1v1h-1zM73 148h1v1h-1zM113 148h1v1h-1zM119 148h1v1h-1zM142 148h1v1h-1zM149 148h1v1h-1zM18 149h1v1h-1zM21 149h1v1h-1zM32 149h1v1h-1zM34 149h1v1h-1zM65 149h1v1h-1zM106 149h1v1h-1zM113 149h1v1h-1z"/>
<path fill="rgb(39,39,39)" d="M99 0h1v1h-1zM114 0h1v1h-1zM145 0h1v1h-1zM32 1h1v1h-1zM56 1h1v1h-1zM99 1h1v1h-1zM104 1h1v1h-1zM38 2h1v1h-1zM88 2h1v1h-1zM90 2h1v1h-1zM102 2h1v1h-1zM139 2h1v1h-1zM35 3h1v1h-1zM49 3h1v1h-1zM71 3h1v1h-1zM11 4h1v1h-1zM63 4h1v1h-1zM83 4h1v1h-1zM147 4h1v1h-1zM2 5h1v1h-1zM72 5h1v1h-1zM87 5h1v1h-1zM128 5h1v1h-1zM11 6h1v1h-1zM20 6h1v1h-1zM62 6h1v1h-1zM137 6h1v1h-1zM146 6h1v1h-1zM2 7h1v1h-1zM14 7h1v1h-1zM52 7h1v1h-1zM54 7h1v1h-1zM106 7h1v1h-1zM135 7h1v1h-1zM5 8h1v1h-1zM96 8h1v1h-1zM135 8h1v1h-1zM17 9h1v1h-1zM55 9h1v1h-1zM61 9h1v1h-1zM5 10h1v1h-1zM22 10h1v1h-1zM39 10h1v1h-1zM61 10h1v1h-1zM66 10h1v1h-1zM80 10h1v1h-1zM109 10h1v1h-1zM114 10h1v1h-1zM20 11h1v1h-1zM32 11h1v1h-1zM90 11h1v1h-1zM11 12h1v1h-1zM26 12h1v1h-1zM42 12h1v1h-1zM43 12h1v1h-1zM55 12h1v1h-1zM68 12h1v1h-1zM82 12h1v1h-1zM86 12h1v1h-1zM112 12h1v1h-1zM138 12h1v1h-1zM13 13h1v1h-1zM27 13h1v1h-1zM111 13h1v1h-1zM0 14h1v1h-1zM34 14h1v1h-1zM39 14h1v1h-1zM135 14h1v1h-1zM0 15h1v1h-1zM16 15h1v1h-1zM28 15h1v1h-1zM50 15h1v1h-1zM56 15h1v1h-1zM66 15h1v1h-1zM106 15h1v1h-1zM108 15h1v1h-1zM16 16h1v1h-1zM34 16h1v1h-1zM46 16h1v1h-1zM60 16h1v1h-1zM128 16h1v1h-1zM0 17h1v1h-1zM8 17h1v1h-1zM104 17h1v1h-1zM117 17h1v1h-1zM140 17h1v1h-1zM17 18h1v1h-1zM85 18h1v1h-1zM20 19h1v1h-1zM26 19h1v1h-1zM32 19h1v1h-1zM68 19h1v1h-1zM96 19h1v1h-1zM116 19h1v1h-1zM45 20h1v1h-1zM133 20h1v1h-1zM31 21h1v1h-1zM53 21h1v1h-1zM59 21h1v1h-1zM89 21h1v1h-1zM96 21h1v1h-1zM97 21h1v1h-1zM144 21h1v1h-1zM6 22h1v1h-1zM21 22h1v1h-1zM33 22h1v1h-1zM42 22h1v1h-1zM89 22h1v1h-1zM93 22h1v1h-1zM105 22h1v1h-1zM115 22h1v1h-1zM121 22h1v1h-1zM140 22h1v1h-1zM14 23h1v1h-1zM17 23h1v1h-1zM51 23h1v1h-1zM53 23h1v1h-1zM55 23h1v1h-1zM74 23h1v1h-1zM80 23h1v1h-1zM119 23h1v1h-1zM132 23h1v1h-1zM137 23h1v1h-1zM40 24h1v1h-1zM49 24h1v1h-1zM51 24h1v1h-1zM69 24h1v1h-1zM4 25h1v1h-1zM99 25h1v1h-1zM123 25h1v1h-1zM47 26h1v1h-1zM64 26h1v1h-1zM39 27h1v1h-1zM140 27h1v1h-1zM149 27h1v1h-1zM0 28h1v1h-1zM55 28h1v1h-1zM92 28h1v1h-1zM110 28h1v1h-1zM117 28h1v1h-1zM119 28h1v1h-1zM134 28h1v1h-1zM144 28h1v1h-1zM110 29h1v1h-1zM4 30h1v1h-1zM20 30h1v1h-1zM39 30h1v1h-1zM48 30h1v1h-1zM49 30h1v1h-1zM65 31h1v1h-1zM141 31h1v1h-1zM146 31h1v1h-1zM82 32h1v1h-1zM2 33h1v1h-1zM17 33h1v1h-1zM33 33h1v1h-1zM84 33h1v1h-1zM92 33h1v1h-1zM6 34h1v1h-1zM84 34h1v1h-1zM90 34h1v1h-1zM99 34h1v1h-1zM50 35h1v1h-1zM61 35h1v1h-1zM62 35h1v1h-1zM66 35h1v1h-1zM82 35h1v1h-1zM85 35h1v1h-1zM90 35h1v1h-1zM94 35h1v1h-1zM104 35h1v1h-1zM105 35h1v1h-1zM109 35h1v1h-1zM132 35h1v1h-1zM2 36h1v1h-1zM25 36h1v1h-1zM43 36h1v1h-1zM58 36h1v1h-1zM136 36h1v1h-1zM9 37h1v1h-1zM59 37h1v1h-1zM92 37h1v1h-1zM106 37h1v1h-1zM114 37h1v1h-1zM147 37h1v1h-1zM19 38h1v1h-1zM24 38h1v1h-1zM56 38h1v1h-1zM141 38h1v1h-1zM78 39h1v1h-1zM112 39h1v1h-1zM51 40h1v1h-1zM5 41h1v1h-1zM43 41h1v1h-1zM44 41h1v1h-1zM118 41h1v1h-1zM140 41h1v1h-1zM19 42h1v1h-1zM42 42h1v1h-1zM61 42h1v1h-1zM74 42h1v1h-1zM101 42h1v1h-1zM18 43h1v1h-1zM94 43h1v1h-1zM71 44h1v1h-1zM113 44h1v1h-1zM25 45h1v1h-1zM34 45h1v1h-1zM37 45h1v1h-1zM6 46h1v1h-1zM30 46h1v1h-1zM49 46h1v1h-1zM64 46h1v1h-1zM118 46h1v1h-1zM5 47h1v1h-1zM14 47h1v1h-1zM22 47h1v1h-1zM14 48h1v1h-1zM28 48h1v1h-1zM55 48h1v1h-1zM68 48h1v1h-1zM74 48h1v1h-1zM79 48h1v1h-1zM85 48h1v1h-1zM24 49h1v1h-1zM28 49h1v1h-1zM94 49h1v1h-1zM36 50h1v1h-1zM60 50h1v1h-1zM77 50h1v1h-1zM81 50h1v1h-1zM93 50h1v1h-1zM121 50h1v1h-1zM144 50h1v1h-1zM10 51h1v1h-1zM11 51h1v1h-1zM47 51h1v1h-1zM50 51h1v1h-1zM68 51h1v1h-1zM73 51h1v1h-1zM99 51h1v1h-1zM103 51h1v1h-1zM34 52h1v1h-1zM99 52h1v1h-1zM114 52h1v1h-1zM135 52h1v1h-1zM12 53h1v1h-1zM14 53h1v1h-1zM43 53h1v1h-1zM65 53h1v1h-1zM74 53h1v1h-1zM78 53h1v1h-1zM91 53h1v1h-1zM94 53h1v1h-1zM136 53h1v1h-1zM17 54h1v1h-1zM72 54h1v1h-1zM135 54h1v1h-1zM13 55h1v1h-1zM50 55h1v1h-1zM65 55h1v1h-1zM103 55h1v1h-1zM125 55h1v1h-1zM10 56h1v1h-1zM14 56h1v1h-1zM36 56h1v1h-1zM57 56h1v1h-1zM81 56h1v1h-1zM99 56h1v1h-1zM107 56h1v1h-1zM52 57h1v1h-1zM87 57h1v1h-1zM104 57h1v1h-1zM139 57h1v1h-1zM140 57h1v1h-1zM65 58h1v1h-1zM135 58h1v1h-1zM148 58h1v1h-1zM20 59h1v1h-1zM66 59h1v1h-1zM11 60h1v1h-1zM35 60h1v1h-1zM66 60h1v1h-1zM113 60h1v1h-1zM128 60h1v1h-1zM13 61h1v1h-1zM14 61h1v1h-1zM39 61h1v1h-1zM98 61h1v1h-1zM1 62h1v1h-1zM2 62h1v1h-1zM64 62h1v1h-1zM146 62h1v1h-1zM48 63h1v1h-1zM49 63h1v1h-1zM59 63h1v1h-1zM138 63h1v1h-1zM14 64h1v1h-1zM27 64h1v1h-1zM107 64h1v1h-1zM13 65h1v1h-1zM24 65h1v1h-1zM75 65h1v1h-1zM14 66h1v1h-1zM75 66h1v1h-1zM95 66h1v1h-1zM137 66h1v1h-1zM99 67h1v1h-1zM23 68h1v1h-1zM45 68h1v1h-1zM17 69h1v1h-1zM76 69h1v1h-1zM81 69h1v1h-1zM82 69h1v1h-1zM122 69h1v1h-1zM140 69h1v1h-1zM47 70h1v1h-1zM51 70h1v1h-1zM72 70h1v1h-1zM17 71h1v1h-1zM78 71h1v1h-1zM87 71h1v1h-1zM117 71h1v1h-1zM123 71h1v1h-1zM142 71h1v1h-1zM52 72h1v1h-1zM69 72h1v1h-1zM108 72h1v1h-1zM118 72h1v1h-1zM142 73h1v1h-1zM145 73h1v1h-1zM147 73h1v1h-1zM4 74h1v1h-1zM40 74h1v1h-1zM57 74h1v1h-1zM64 74h1v1h-1zM86 74h1v1h-1zM25 75h1v1h-1zM36 75h1v1h-1zM41 75h1v1h-1zM59 75h1v1h-1zM60 75h1v1h-1zM86 75h1v1h-1zM115 75h1v1h-1zM124 75h1v1h-1zM147 75h1v1h-1zM30 76h1v1h-1zM94 76h1v1h-1zM67 77h1v1h-1zM130 77h1v1h-1zM20 78h1v1h-1zM60 78h1v1h-1zM109 78h1v1h-1zM111 78h1v1h-1zM114 78h1v1h-1zM129 78h1v1h-1zM149 78h1v1h-1zM85 79h1v1h-1zM90 79h1v1h-1zM105 79h1v1h-1zM111 79h1v1h-1zM123 79h1v1h-1zM128 79h1v1h-1zM137 79h1v1h-1zM24 80h1v1h-1zM63 80h1v1h-1zM76 80h1v1h-1zM10 81h1v1h-1zM51 81h1v1h-1zM110 81h1v1h-1zM12 82h1v1h-1zM48 82h1v1h-1zM115 82h1v1h-1zM118 82h1v1h-1zM17 83h1v1h-1zM56 83h1v1h-1zM112 83h1v1h-1zM114 83h1v1h-1zM120 83h1v1h-1zM136 83h1v1h-1zM77 84h1v1h-1zM9 85h1v1h-1zM14 85h1v1h-1zM19 85h1v1h-1zM90 85h1v1h-1zM117 85h1v1h-1zM15 86h1v1h-1zM18 86h1v1h-1zM32 86h1v1h-1zM48 86h1v1h-1zM94 86h1v1h-1zM123 86h1v1h-1zM62 87h1v1h-1zM123 87h1v1h-1zM19 88h1v1h-1zM37 88h1v1h-1zM83 88h1v1h-1zM96 88h1v1h-1zM130 88h1v1h-1zM65 89h1v1h-1zM68 89h1v1h-1zM97 89h1v1h-1zM141 89h1v1h-1zM20 90h1v1h-1zM45 90h1v1h-1zM79 90h1v1h-1zM86 90h1v1h-1zM103 90h1v1h-1zM113 90h1v1h-1zM115 90h1v1h-1zM141 90h1v1h-1zM144 90h1v1h-1zM68 91h1v1h-1zM72 91h1v1h-1zM74 91h1v1h-1zM96 91h1v1h-1zM100 91h1v1h-1zM114 91h1v1h-1zM130 91h1v1h-1zM9 92h1v1h-1zM75 92h1v1h-1zM96 92h1v1h-1zM51 93h1v1h-1zM136 93h1v1h-1zM144 93h1v1h-1zM145 93h1v1h-1zM147 93h1v1h-1zM9 94h1v1h-1zM10 94h1v1h-1zM55 94h1v1h-1zM119 94h1v1h-1zM29 95h1v1h-1zM44 95h1v1h-1zM67 96h1v1h-1zM68 96h1v1h-1zM113 96h1v1h-1zM6 97h1v1h-1zM18 97h1v1h-1zM148 97h1v1h-1zM3 98h1v1h-1zM7 98h1v1h-1zM59 98h1v1h-1zM87 98h1v1h-1zM127 98h1v1h-1zM40 99h1v1h-1zM57 99h1v1h-1zM89 99h1v1h-1zM90 99h1v1h-1zM95 99h1v1h-1zM104 99h1v1h-1zM105 99h1v1h-1zM120 99h1v1h-1zM14 100h1v1h-1zM15 100h1v1h-1zM18 100h1v1h-1zM85 100h1v1h-1zM92 100h1v1h-1zM105 100h1v1h-1zM130 100h1v1h-1zM136 100h1v1h-1zM6 101h1v1h-1zM27 101h1v1h-1zM49 101h1v1h-1zM69 101h1v1h-1zM75 101h1v1h-1zM86 101h1v1h-1zM111 101h1v1h-1zM5 102h1v1h-1zM29 102h1v1h-1zM141 102h1v1h-1zM36 103h1v1h-1zM56 103h1v1h-1zM83 103h1v1h-1zM94 103h1v1h-1zM100 103h1v1h-1zM13 104h1v1h-1zM48 104h1v1h-1zM61 104h1v1h-1zM90 104h1v1h-1zM114 104h1v1h-1zM32 105h1v1h-1zM61 105h1v1h-1zM94 105h1v1h-1zM96 106h1v1h-1zM117 106h1v1h-1zM144 106h1v1h-1zM128 107h1v1h-1zM2 108h1v1h-1zM69 108h1v1h-1zM86 108h1v1h-1zM2 109h1v1h-1zM26 109h1v1h-1zM52 109h1v1h-1zM63 109h1v1h-1zM113 109h1v1h-1zM139 109h1v1h-1zM7 110h1v1h-1zM41 110h1v1h-1zM48 110h1v1h-1zM77 110h1v1h-1zM83 110h1v1h-1zM107 110h1v1h-1zM123 110h1v1h-1zM64 111h1v1h-1zM70 111h1v1h-1zM84 111h1v1h-1zM109 111h1v1h-1zM115 111h1v1h-1zM7 112h1v1h-1zM77 112h1v1h-1zM83 113h1v1h-1zM85 113h1v1h-1zM96 113h1v1h-1zM146 113h1v1h-1zM55 114h1v1h-1zM58 114h1v1h-1zM72 114h1v1h-1zM111 114h1v1h-1zM33 115h1v1h-1zM75 115h1v1h-1zM92 115h1v1h-1zM103 115h1v1h-1zM31 116h1v1h-1zM100 116h1v1h-1zM42 117h1v1h-1zM43 117h1v1h-1zM72 117h1v1h-1zM116 117h1v1h-1zM131 117h1v1h-1zM20 118h1v1h-1zM40 118h1v1h-1zM42 118h1v1h-1zM56 118h1v1h-1zM79 118h1v1h-1zM131 118h1v1h-1zM1 119h1v1h-1zM15 119h1v1h-1zM36 119h1v1h-1zM42 119h1v1h-1zM96 119h1v1h-1zM133 119h1v1h-1zM19 120h1v1h-1zM20 120h1v1h-1zM32 120h1v1h-1zM34 120h1v1h-1zM1 121h1v1h-1zM23 121h1v1h-1zM39 121h1v1h-1zM95 121h1v1h-1zM105 121h1v1h-1zM119 121h1v1h-1zM8 122h1v1h-1zM47 122h1v1h-1zM82 122h1v1h-1zM114 122h1v1h-1zM127 122h1v1h-1zM16 123h1v1h-1zM42 123h1v1h-1zM75 123h1v1h-1zM123 123h1v1h-1zM136 123h1v1h-1zM33 124h1v1h-1zM56 124h1v1h-1zM90 124h1v1h-1zM133 124h1v1h-1zM145 124h1v1h-1zM64 125h1v1h-1zM111 125h1v1h-1zM51 126h1v1h-1zM12 127h1v1h-1zM121 127h1v1h-1zM123 127h1v1h-1zM32 128h1v1h-1zM89 128h1v1h-1zM98 128h1v1h-1zM123 128h1v1h-1zM35 129h1v1h-1zM106 129h1v1h-1zM108 129h1v1h-1zM146 129h1v1h-1zM1 130h1v1h-1zM57 130h1v1h-1zM61 130h1v1h-1zM97 130h1v1h-1zM107 130h1v1h-1zM116 130h1v1h-1zM36 131h1v1h-1zM48 131h1v1h-1zM65 131h1v1h-1zM69 131h1v1h-1zM113 131h1v1h-1zM129 131h1v1h-1zM3 132h1v1h-1zM9 132h1v1h-1zM39 132h1v1h-1zM31 133h1v1h-1zM33 133h1v1h-1zM147 133h1v1h-1zM26 134h1v1h-1zM39 134h1v1h-1zM59 134h1v1h-1zM63 134h1v1h-1zM72 134h1v1h-1zM86 134h1v1h-1zM96 134h1v1h-1zM129 134h1v1h-1zM142 134h1v1h-1zM149 134h1v1h-1zM12 135h1v1h-1zM63 135h1v1h-1zM132 135h1v1h-1zM6 136h1v1h-1zM81 136h1v1h-1zM96 136h1v1h-1zM128 136h1v1h-1zM138 136h1v1h-1zM25 137h1v1h-1zM107 137h1v1h-1zM11 138h1v1h-1zM33 138h1v1h-1zM72 138h1v1h-1zM79 138h1v1h-1zM9 139h1v1h-1zM63 139h1v1h-1zM78 139h1v1h-1zM104 139h1v1h-1zM14 140h1v1h-1zM24 140h1v1h-1zM64 140h1v1h-1zM66 140h1v1h-1zM149 140h1v1h-1zM12 141h1v1h-1zM49 141h1v1h-1zM145 141h1v1h-1zM48 142h1v1h-1zM60 142h1v1h-1zM90 142h1v1h-1zM124 142h1v1h-1zM34 143h1v1h-1zM74 143h1v1h-1zM10 144h1v1h-1zM45 144h1v1h-1zM62 144h1v1h-1zM71 144h1v1h-1zM88 144h1v1h-1zM97 144h1v1h-1zM125 144h1v1h-1zM126 144h1v1h-1zM140 144h1v1h-1zM146 144h1v1h-1zM65 145h1v1h-1zM111 145h1v1h-1zM132 145h1v1h-1zM42 146h1v1h-1zM46 146h1v1h-1zM55 146h1v1h-1zM59 146h1v1h-1zM62 146h1v1h-1zM86 146h1v1h-1zM99 146h1v1h-1zM111 146h1v1h-1zM115 146h1v1h-1zM125 146h1v1h-1zM34 147h1v1h-1zM43 147h1v1h-1zM50 147h1v1h-1zM63 147h1v1h-1zM106 147h1v1h-1zM119 147h1v1h-1zM129 147h1v1h-1zM136 147h1v1h-1zM137 147h1v1h-1zM146 147h1v1h-1zM27 148h1v1h-1zM62 148h1v1h-1zM83 148h1v1h-1zM121 148h1v1h-1zM24 149h1v1h-1zM31 149h1v1h-1zM70 149h1v1h-1zM101 149h1v1h-1zM149 149h1v1h-1z"/>
<path fill="rgb(47,47,47)" d="M35 0h1v1h-1zM65 0h1v1h-1zM69 0h1v1h-1zM83 0h1v1h-1zM84 0h1v1h-1zM127 0h1v1h-1zM6 1h1v1h-1zM10 1h1v1h-1zM20 1h1v1h-1zM57 1h1v1h-1zM60 1h1v1h-1zM71 1h1v1h-1zM96 1h1v1h-1zM146 1h1v1h-1zM120 2h1v1h-1zM16 3h1v1h-1zM23 3h1v1h-1zM24 3h1v1h-1zM83 3h1v1h-1zM87 3h1v1h-1zM79 4h1v1h-1zM87 4h1v1h-1zM44 5h1v1h-1zM61 5h1v1h-1zM63 5h1v1h-1zM109 5h1v1h-1zM114 5h1v1h-1zM130 6h1v1h-1zM144 6h1v1h-1zM148 6h1v1h-1zM94 7h1v1h-1zM127 7h1v1h-1zM137 7h1v1h-1zM27 8h1v1h-1zM37 8h1v1h-1zM52 8h1v1h-1zM73 8h1v1h-1zM77 8h1v1h-1zM132 8h1v1h-1zM0 9h1v1h-1zM35 9h1v1h-1zM41 9h1v1h-1zM113 9h1v1h-1zM142 9h1v1h-1zM148 9h1v1h-1zM11 10h1v1h-1zM70 10h1v1h-1zM72 10h1v1h-1zM139 10h1v1h-1zM140 10h1v1h-1zM2 11h1v1h-1zM25 11h1v1h-1zM112 11h1v1h-1zM125 11h1v1h-1zM142 11h1v1h-1zM44 12h1v1h-1zM74 12h1v1h-1zM107 12h1v1h-1zM76 13h1v1h-1zM87 13h1v1h-1zM15 14h1v1h-1zM46 14h1v1h-1zM100 14h1v1h-1zM140 14h1v1h-1zM61 15h1v1h-1zM88 15h1v1h-1zM2 16h1v1h-1zM62 16h1v1h-1zM81 16h1v1h-1zM145 16h1v1h-1zM11 17h1v1h-1zM15 17h1v1h-1zM76 17h1v1h-1zM81 17h1v1h-1zM90 17h1v1h-1zM50 18h1v1h-1zM65 18h1v1h-1zM72 18h1v1h-1zM75 18h1v1h-1zM123 18h1v1h-1zM24 19h1v1h-1zM97 19h1v1h-1zM108 19h1v1h-1zM13 20h1v1h-1zM27 20h1v1h-1zM83 20h1v1h-1zM102 20h1v1h-1zM4 21h1v1h-1zM6 21h1v1h-1zM17 21h1v1h-1zM26 21h1v1h-1zM28 21h1v1h-1zM51 21h1v1h-1zM95 21h1v1h-1zM8 22h1v1h-1zM18 22h1v1h-1zM25 22h1v1h-1zM54 22h1v1h-1zM62 22h1v1h-1zM92 22h1v1h-1zM109 22h1v1h-1zM118 22h1v1h-1zM135 22h1v1h-1zM1 23h1v1h-1zM22 23h1v1h-1zM19 24h1v1h-1zM48 24h1v1h-1zM100 24h1v1h-1zM107 24h1v1h-1zM109 24h1v1h-1zM129 24h1v1h-1zM74 25h1v1h-1zM92 25h1v1h-1zM96 25h1v1h-1zM139 25h1v1h-1zM61 26h1v1h-1zM105 26h1v1h-1zM28 27h1v1h-1zM33 27h1v1h-1zM86 27h1v1h-1zM109 27h1v1h-1zM142 27h1v1h-1zM44 28h1v1h-1zM47 28h1v1h-1zM60 28h1v1h-1zM95 28h1v1h-1zM116 28h1v1h-1zM122 28h1v1h-1zM15 29h1v1h-1zM41 29h1v1h-1zM81 29h1v1h-1zM85 29h1v1h-1zM106 29h1v1h-1zM112 29h1v1h-1zM139 29h1v1h-1zM27 30h1v1h-1zM83 30h1v1h-1zM88 30h1v1h-1zM104 30h1v1h-1zM108 30h1v1h-1zM116 30h1v1h-1zM81 31h1v1h-1zM82 31h1v1h-1zM107 31h1v1h-1zM111 31h1v1h-1zM133 31h1v1h-1zM10 32h1v1h-1zM39 32h1v1h-1zM40 32h1v1h-1zM66 32h1v1h-1zM27 33h1v1h-1zM47 33h1v1h-1zM70 33h1v1h-1zM136 33h1v1h-1zM148 33h1v1h-1zM96 34h1v1h-1zM72 35h1v1h-1zM102 35h1v1h-1zM124 35h1v1h-1zM12 36h1v1h-1zM23 36h1v1h-1zM29 36h1v1h-1zM50 36h1v1h-1zM125 36h1v1h-1zM13 37h1v1h-1zM38 37h1v1h-1zM41 37h1v1h-1zM70 37h1v1h-1zM138 37h1v1h-1zM15 38h1v1h-1zM33 38h1v1h-1zM41 38h1v1h-1zM108 38h1v1h-1zM111 38h1v1h-1zM133 38h1v1h-1zM144 38h1v1h-1zM3 39h1v1h-1zM24 39h1v1h-1zM31 39h1v1h-1zM64 39h1v1h-1zM131 39h1v1h-1zM30 40h1v1h-1zM52 40h1v1h-1zM89 40h1v1h-1zM124 40h1v1h-1zM145 40h1v1h-1zM47 41h1v1h-1zM12 42h1v1h-1zM24 42h1v1h-1zM80 42h1v1h-1zM107 42h1v1h-1zM132 42h1v1h-1zM148 42h1v1h-1zM49 43h1v1h-1zM72 43h1v1h-1zM102 43h1v1h-1zM104 43h1v1h-1zM87 44h1v1h-1zM135 44h1v1h-1zM9 45h1v1h-1zM51 45h1v1h-1zM118 45h1v1h-1zM128 45h1v1h-1zM91 46h1v1h-1zM124 46h1v1h-1zM7 47h1v1h-1zM70 47h1v1h-1zM78 47h1v1h-1zM90 48h1v1h-1zM95 48h1v1h-1zM100 48h1v1h-1zM118 48h1v1h-1zM119 48h1v1h-1zM9 49h1v1h-1zM108 49h1v1h-1zM114 49h1v1h-1zM131 49h1v1h-1zM5 50h1v1h-1zM45 50h1v1h-1zM51 50h1v1h-1zM54 50h1v1h-1zM100 50h1v1h-1zM147 50h1v1h-1zM1 51h1v1h-1zM20 51h1v1h-1zM36 51h1v1h-1zM37 51h1v1h-1zM41 51h1v1h-1zM69 51h1v1h-1zM97 51h1v1h-1zM149 51h1v1h-1zM30 52h1v1h-1zM71 52h1v1h-1zM120 52h1v1h-1zM136 52h1v1h-1zM66 53h1v1h-1zM79 53h1v1h-1zM22 54h1v1h-1zM98 54h1v1h-1zM96 55h1v1h-1zM101 55h1v1h-1zM131 55h1v1h-1zM146 55h1v1h-1zM4 56h1v1h-1zM46 56h1v1h-1zM146 56h1v1h-1zM1 57h1v1h-1zM12 57h1v1h-1zM26 57h1v1h-1zM31 57h1v1h-1zM36 57h1v1h-1zM51 57h1v1h-1zM125 57h1v1h-1zM3 58h1v1h-1zM8 58h1v1h-1zM21 58h1v1h-1zM41 58h1v1h-1zM56 58h1v1h-1zM106 58h1v1h-1zM24 59h1v1h-1zM30 59h1v1h-1zM73 59h1v1h-1zM95 59h1v1h-1zM99 59h1v1h-1zM10 60h1v1h-1zM25 60h1v1h-1zM20 61h1v1h-1zM24 61h1v1h-1zM65 61h1v1h-1zM112 61h1v1h-1zM76 62h1v1h-1zM77 62h1v1h-1zM120 62h1v1h-1zM21 63h1v1h-1zM33 63h1v1h-1zM70 63h1v1h-1zM79 63h1v1h-1zM87 63h1v1h-1zM113 63h1v1h-1zM117 63h1v1h-1zM149 63h1v1h-1zM56 64h1v1h-1zM62 64h1v1h-1zM105 64h1v1h-1zM108 64h1v1h-1zM118 64h1v1h-1zM121 64h1v1h-1zM50 65h1v1h-1zM58 65h1v1h-1zM137 65h1v1h-1zM149 65h1v1h-1zM21 66h1v1h-1zM68 66h1v1h-1zM91 66h1v1h-1zM101 66h1v1h-1zM36 67h1v1h-1zM17 68h1v1h-1zM19 68h1v1h-1zM27 68h1v1h-1zM38 68h1v1h-1zM107 68h1v1h-1zM135 68h1v1h-1zM137 68h1v1h-1zM145 68h1v1h-1zM28 69h1v1h-1zM32 69h1v1h-1zM146 69h1v1h-1zM5 70h1v1h-1zM54 70h1v1h-1zM59 70h1v1h-1zM76 70h1v1h-1zM79 70h1v1h-1zM80 70h1v1h-1zM99 70h1v1h-1zM120 70h1v1h-1zM6 71h1v1h-1zM86 71h1v1h-1zM90 71h1v1h-1zM93 71h1v1h-1zM103 71h1v1h-1zM108 71h1v1h-1zM126 71h1v1h-1zM10 72h1v1h-1zM30 72h1v1h-1zM38 72h1v1h-1zM112 72h1v1h-1zM134 72h1v1h-1zM148 72h1v1h-1zM6 73h1v1h-1zM105 73h1v1h-1zM114 73h1v1h-1zM1 74h1v1h-1zM11 74h1v1h-1zM29 74h1v1h-1zM48 74h1v1h-1zM53 74h1v1h-1zM75 74h1v1h-1zM8 75h1v1h-1zM135 75h1v1h-1zM149 75h1v1h-1zM0 76h1v1h-1zM8 76h1v1h-1zM45 76h1v1h-1zM60 76h1v1h-1zM68 76h1v1h-1zM78 76h1v1h-1zM91 76h1v1h-1zM93 76h1v1h-1zM97 76h1v1h-1zM99 76h1v1h-1zM113 76h1v1h-1zM9 78h1v1h-1zM14 78h1v1h-1zM29 78h1v1h-1zM48 78h1v1h-1zM65 78h1v1h-1zM25 79h1v1h-1zM29 79h1v1h-1zM50 79h1v1h-1zM68 79h1v1h-1zM74 79h1v1h-1zM117 79h1v1h-1zM144 79h1v1h-1zM148 79h1v1h-1zM86 80h1v1h-1zM103 80h1v1h-1zM133 80h1v1h-1zM4 81h1v1h-1zM28 81h1v1h-1zM65 81h1v1h-1zM83 81h1v1h-1zM97 81h1v1h-1zM111 81h1v1h-1zM67 82h1v1h-1zM73 82h1v1h-1zM81 82h1v1h-1zM95 82h1v1h-1zM10 83h1v1h-1zM18 83h1v1h-1zM21 83h1v1h-1zM47 83h1v1h-1zM72 83h1v1h-1zM30 84h1v1h-1zM33 84h1v1h-1zM61 84h1v1h-1zM95 84h1v1h-1zM125 85h1v1h-1zM148 85h1v1h-1zM77 86h1v1h-1zM86 86h1v1h-1zM101 86h1v1h-1zM0 87h1v1h-1zM33 87h1v1h-1zM79 87h1v1h-1zM84 87h1v1h-1zM28 88h1v1h-1zM30 88h1v1h-1zM91 88h1v1h-1zM112 88h1v1h-1zM133 88h1v1h-1zM134 88h1v1h-1zM15 89h1v1h-1zM37 89h1v1h-1zM38 89h1v1h-1zM120 89h1v1h-1zM6 90h1v1h-1zM12 90h1v1h-1zM22 90h1v1h-1zM33 90h1v1h-1zM43 90h1v1h-1zM96 90h1v1h-1zM112 90h1v1h-1zM130 90h1v1h-1zM36 91h1v1h-1zM65 91h1v1h-1zM84 91h1v1h-1zM17 92h1v1h-1zM57 92h1v1h-1zM69 92h1v1h-1zM81 92h1v1h-1zM129 92h1v1h-1zM135 92h1v1h-1zM147 92h1v1h-1zM33 94h1v1h-1zM49 94h1v1h-1zM87 94h1v1h-1zM113 94h1v1h-1zM146 94h1v1h-1zM3 95h1v1h-1zM15 95h1v1h-1zM4 96h1v1h-1zM61 96h1v1h-1zM81 96h1v1h-1zM140 96h1v1h-1zM147 96h1v1h-1zM26 97h1v1h-1zM27 97h1v1h-1zM33 97h1v1h-1zM50 97h1v1h-1zM75 97h1v1h-1zM141 97h1v1h-1zM146 97h1v1h-1zM21 98h1v1h-1zM60 98h1v1h-1zM105 98h1v1h-1zM125 98h1v1h-1zM142 98h1v1h-1zM12 99h1v1h-1zM58 99h1v1h-1zM97 99h1v1h-1zM99 99h1v1h-1zM6 100h1v1h-1zM11 100h1v1h-1zM32 100h1v1h-1zM64 100h1v1h-1zM81 100h1v1h-1zM125 100h1v1h-1zM135 100h1v1h-1zM4 101h1v1h-1zM73 101h1v1h-1zM81 101h1v1h-1zM11 102h1v1h-1zM74 102h1v1h-1zM109 102h1v1h-1zM27 103h1v1h-1zM49 103h1v1h-1zM141 103h1v1h-1zM0 104h1v1h-1zM7 104h1v1h-1zM21 104h1v1h-1zM25 104h1v1h-1zM49 104h1v1h-1zM96 104h1v1h-1zM145 104h1v1h-1zM26 105h1v1h-1zM53 105h1v1h-1zM62 105h1v1h-1zM70 105h1v1h-1zM120 105h1v1h-1zM121 105h1v1h-1zM144 105h1v1h-1zM44 106h1v1h-1zM75 106h1v1h-1zM109 106h1v1h-1zM115 106h1v1h-1zM10 107h1v1h-1zM32 107h1v1h-1zM50 107h1v1h-1zM52 107h1v1h-1zM70 107h1v1h-1zM107 107h1v1h-1zM119 107h1v1h-1zM149 107h1v1h-1zM34 108h1v1h-1zM75 108h1v1h-1zM122 108h1v1h-1zM1 109h1v1h-1zM58 109h1v1h-1zM138 109h1v1h-1zM147 109h1v1h-1zM4 110h1v1h-1zM69 110h1v1h-1zM70 110h1v1h-1zM119 110h1v1h-1zM142 110h1v1h-1zM146 110h1v1h-1zM7 111h1v1h-1zM99 111h1v1h-1zM100 111h1v1h-1zM17 112h1v1h-1zM25 112h1v1h-1zM31 112h1v1h-1zM56 112h1v1h-1zM98 112h1v1h-1zM104 112h1v1h-1zM124 112h1v1h-1zM39 113h1v1h-1zM94 113h1v1h-1zM123 113h1v1h-1zM11 114h1v1h-1zM93 114h1v1h-1zM117 114h1v1h-1zM28 115h1v1h-1zM63 115h1v1h-1zM109 115h1v1h-1zM125 115h1v1h-1zM133 115h1v1h-1zM146 115h1v1h-1zM50 116h1v1h-1zM88 116h1v1h-1zM138 116h1v1h-1zM9 117h1v1h-1zM15 117h1v1h-1zM27 117h1v1h-1zM33 117h1v1h-1zM52 117h1v1h-1zM67 117h1v1h-1zM92 117h1v1h-1zM94 117h1v1h-1zM120 117h1v1h-1zM13 118h1v1h-1zM26 118h1v1h-1zM63 118h1v1h-1zM70 118h1v1h-1zM97 118h1v1h-1zM127 118h1v1h-1zM7 119h1v1h-1zM30 119h1v1h-1zM53 119h1v1h-1zM63 119h1v1h-1zM101 119h1v1h-1zM15 120h1v1h-1zM52 120h1v1h-1zM83 120h1v1h-1zM85 120h1v1h-1zM5 121h1v1h-1zM29 121h1v1h-1zM32 121h1v1h-1zM54 121h1v1h-1zM58 121h1v1h-1zM60 121h1v1h-1zM68 121h1v1h-1zM85 121h1v1h-1zM109 121h1v1h-1zM132 121h1v1h-1zM149 121h1v1h-1zM56 122h1v1h-1zM94 122h1v1h-1zM120 122h1v1h-1zM15 123h1v1h-1zM69 123h1v1h-1zM80 123h1v1h-1zM9 124h1v1h-1zM66 124h1v1h-1zM93 124h1v1h-1zM85 125h1v1h-1zM86 125h1v1h-1zM101 125h1v1h-1zM5 126h1v1h-1zM18 126h1v1h-1zM68 126h1v1h-1zM91 126h1v1h-1zM108 126h1v1h-1zM131 126h1v1h-1zM88 127h1v1h-1zM111 127h1v1h-1zM7 128h1v1h-1zM118 128h1v1h-1zM3 129h1v1h-1zM42 129h1v1h-1zM60 129h1v1h-1zM97 129h1v1h-1zM98 129h1v1h-1zM19 130h1v1h-1zM59 130h1v1h-1zM64 130h1v1h-1zM86 130h1v1h-1zM90 130h1v1h-1zM125 130h1v1h-1zM42 131h1v1h-1zM78 131h1v1h-1zM84 131h1v1h-1zM149 131h1v1h-1zM30 132h1v1h-1zM60 132h1v1h-1zM76 132h1v1h-1zM148 132h1v1h-1zM9 133h1v1h-1zM23 133h1v1h-1zM41 133h1v1h-1zM103 133h1v1h-1zM123 133h1v1h-1zM140 133h1v1h-1zM144 133h1v1h-1zM21 134h1v1h-1zM47 134h1v1h-1zM68 134h1v1h-1zM73 134h1v1h-1zM103 134h1v1h-1zM120 134h1v1h-1zM126 134h1v1h-1zM127 134h1v1h-1zM131 134h1v1h-1zM1 135h1v1h-1zM94 135h1v1h-1zM106 135h1v1h-1zM112 135h1v1h-1zM117 135h1v1h-1zM18 136h1v1h-1zM52 136h1v1h-1zM72 136h1v1h-1zM95 136h1v1h-1zM97 136h1v1h-1zM122 138h1v1h-1zM144 138h1v1h-1zM8 139h1v1h-1zM67 139h1v1h-1zM77 139h1v1h-1zM87 139h1v1h-1zM105 139h1v1h-1zM118 139h1v1h-1zM57 140h1v1h-1zM98 140h1v1h-1zM104 140h1v1h-1zM0 141h1v1h-1zM11 141h1v1h-1zM48 141h1v1h-1zM114 141h1v1h-1zM131 141h1v1h-1zM11 142h1v1h-1zM19 142h1v1h-1zM66 142h1v1h-1zM91 142h1v1h-1zM100 142h1v1h-1zM5 143h1v1h-1zM7 143h1v1h-1zM27 143h1v1h-1zM54 143h1v1h-1zM55 143h1v1h-1zM57 143h1v1h-1zM62 143h1v1h-1zM64 143h1v1h-1zM98 143h1v1h-1zM12 144h1v1h-1zM16 144h1v1h-1zM69 144h1v1h-1zM83 144h1v1h-1zM112 144h1v1h-1zM16 145h1v1h-1zM34 145h1v1h-1zM73 145h1v1h-1zM96 145h1v1h-1zM41 146h1v1h-1zM90 146h1v1h-1zM124 146h1v1h-1zM141 146h1v1h-1zM8 147h1v1h-1zM56 147h1v1h-1zM135 147h1v1h-1zM144 147h1v1h-1zM34 148h1v1h-1zM53 148h1v1h-1zM82 148h1v1h-1z"/>
<path fill="rgb(56,56,56)" d="M16 0h1v1h-1zM105 0h1v1h-1zM138 0h1v1h-1zM141 2h1v1h-1zM56 4h1v1h-1zM127 4h1v1h-1zM77 6h1v1h-1zM18 7h1v1h-1zM87 7h1v1h-1zM95 8h1v1h-1zM108 8h1v1h-1zM120 11h1v1h-1zM97 12h1v1h-1zM28 13h1v1h-1zM101 13h1v1h-1zM105 13h1v1h-1zM112 13h1v1h-1zM20 14h1v1h-1zM49 15h1v1h-1zM72 16h1v1h-1zM55 17h1v1h-1zM58 17h1v1h-1zM105 17h1v1h-1zM86 18h1v1h-1zM117 20h1v1h-1zM75 21h1v1h-1zM59 23h1v1h-1zM46 24h1v1h-1zM0 25h1v1h-1zM93 25h1v1h-1zM98 27h1v1h-1zM121 28h1v1h-1zM49 29h1v1h-1zM7 30h1v1h-1zM76 30h1v1h-1zM41 31h1v1h-1zM115 31h1v1h-1zM145 31h1v1h-1zM136 32h1v1h-1zM148 32h1v1h-1zM57 33h1v1h-1zM61 33h1v1h-1zM111 34h1v1h-1zM126 34h1v1h-1zM123 37h1v1h-1zM98 41h1v1h-1zM44 43h1v1h-1zM121 43h1v1h-1zM11 44h1v1h-1zM137 44h1v1h-1zM129 45h1v1h-1zM40 46h1v1h-1zM72 46h1v1h-1zM26 47h1v1h-1zM54 47h1v1h-1zM107 48h1v1h-1zM136 48h1v1h-1zM11 50h1v1h-1zM9 54h1v1h-1zM30 54h1v1h-1zM62 54h1v1h-1zM126 55h1v1h-1zM19 57h1v1h-1zM44 57h1v1h-1zM4 58h1v1h-1zM125 61h1v1h-1zM136 61h1v1h-1zM19 66h1v1h-1zM105 67h1v1h-1zM124 67h1v1h-1zM70 68h1v1h-1zM146 68h1v1h-1zM48 71h1v1h-1zM64 72h1v1h-1zM39 73h1v1h-1zM92 73h1v1h-1zM145 74h1v1h-1zM64 75h1v1h-1zM111 75h1v1h-1zM13 76h1v1h-1zM75 77h1v1h-1zM24 78h1v1h-1zM60 79h1v1h-1zM136 79h1v1h-1zM142 82h1v1h-1zM8 84h1v1h-1zM47 85h1v1h-1zM123 85h1v1h-1zM131 85h1v1h-1zM2 86h1v1h-1zM144 86h1v1h-1zM146 86h1v1h-1zM48 87h1v1h-1zM74 87h1v1h-1zM99 88h1v1h-1zM108 88h1v1h-1zM127 88h1v1h-1zM11 89h1v1h-1zM91 89h1v1h-1zM104 94h1v1h-1zM68 95h1v1h-1zM111 95h1v1h-1zM40 97h1v1h-1zM49 98h1v1h-1zM67 98h1v1h-1zM137 98h1v1h-1zM29 99h1v1h-1zM56 100h1v1h-1zM69 100h1v1h-1zM46 102h1v1h-1zM148 102h1v1h-1zM52 103h1v1h-1zM76 103h1v1h-1zM18 105h1v1h-1zM21 106h1v1h-1zM103 107h1v1h-1zM39 109h1v1h-1zM98 109h1v1h-1zM74 113h1v1h-1zM142 113h1v1h-1zM11 115h1v1h-1zM101 116h1v1h-1zM129 117h1v1h-1zM141 117h1v1h-1zM96 122h1v1h-1zM103 126h1v1h-1zM11 128h1v1h-1zM20 128h1v1h-1zM53 128h1v1h-1zM122 128h1v1h-1zM2 130h1v1h-1zM1 131h1v1h-1zM3 131h1v1h-1zM62 132h1v1h-1zM106 132h1v1h-1zM114 132h1v1h-1zM21 133h1v1h-1zM110 135h1v1h-1zM15 136h1v1h-1zM28 137h1v1h-1zM116 138h1v1h-1zM27 140h1v1h-1zM132 141h1v1h-1zM134 141h1v1h-1zM15 144h1v1h-1zM94 145h1v1h-1zM53 146h1v1h-1zM78 146h1v1h-1zM116 146h1v1h-1zM1 147h1v1h-1zM44 148h1v1h-1zM110 148h1v1h-1z"/>
<path fill="rgb(65,65,65)" d="M37 0h1v1h-1zM90 1h1v1h-1zM28 2h1v1h-1zM8 3h1v1h-1zM79 3h1v1h-1zM96 3h1v1h-1zM17 4h1v1h-1zM40 6h1v1h-1zM50 16h1v1h-1zM81 18h1v1h-1zM87 19h1v1h-1zM114 19h1v1h-1zM130 20h1v1h-1zM140 20h1v1h-1zM145 20h1v1h-1zM104 24h1v1h-1zM20 25h1v1h-1zM102 27h1v1h-1zM118 28h1v1h-1zM120 29h1v1h-1zM142 29h1v1h-1zM58 30h1v1h-1zM76 34h1v1h-1zM53 39h1v1h-1zM66 39h1v1h-1zM149 44h1v1h-1zM71 45h1v1h-1zM0 48h1v1h-1zM80 50h1v1h-1zM40 51h1v1h-1zM62 51h1v1h-1zM112 51h1v1h-1zM5 55h1v1h-1zM54 58h1v1h-1zM65 62h1v1h-1zM130 67h1v1h-1zM62 69h1v1h-1zM132 70h1v1h-1zM25 71h1v1h-1zM113 71h1v1h-1zM43 72h1v1h-1zM112 75h1v1h-1zM11 79h1v1h-1zM45 79h1v1h-1zM80 79h1v1h-1zM7 80h1v1h-1zM9 80h1v1h-1zM43 81h1v1h-1zM146 81h1v1h-1zM132 82h1v1h-1zM75 83h1v1h-1zM148 83h1v1h-1zM4 84h1v1h-1zM124 84h1v1h-1zM49 86h1v1h-1zM63 86h1v1h-1zM98 86h1v1h-1zM133 90h1v1h-1zM4 91h1v1h-1zM13 93h1v1h-1zM128 96h1v1h-1zM20 103h1v1h-1zM30 104h1v1h-1zM54 111h1v1h-1zM33 113h1v1h-1zM1 115h1v1h-1zM24 115h1v1h-1zM110 116h1v1h-1zM73 122h1v1h-1zM47 128h1v1h-1zM88 130h1v1h-1zM100 130h1v1h-1zM77 131h1v1h-1zM138 134h1v1h-1zM104 137h1v1h-1zM49 138h1v1h-1zM34 139h1v1h-1zM15 140h1v1h-1zM71 141h1v1h-1zM62 142h1v1h-1zM16 143h1v1h-1zM40 143h1v1h-1zM89 147h1v1h-1zM139 147h1v1h-1zM149 147h1v1h-1zM8 148h1v1h-1z"/>
<path fill="rgb(73,73,73)" d="M97 3h1v1h-1zM145 3h1v1h-1zM41 8h1v1h-1zM6 9h1v1h-1zM143 9h1v1h-1zM85 10h1v1h-1zM108 10h1v1h-1zM52 13h1v1h-1zM131 14h1v1h-1zM117 16h1v1h-1zM143 17h1v1h-1zM133 19h1v1h-1zM9 20h1v1h-1zM58 23h1v1h-1zM143 24h1v1h-1zM105 25h1v1h-1zM57 27h1v1h-1zM130 28h1v1h-1zM41 30h1v1h-1zM30 31h1v1h-1zM23 32h1v1h-1zM61 32h1v1h-1zM52 34h1v1h-1zM9 35h1v1h-1zM120 35h1v1h-1zM13 36h1v1h-1zM37 36h1v1h-1zM61 36h1v1h-1zM86 37h1v1h-1zM88 37h1v1h-1zM126 37h1v1h-1zM47 38h1v1h-1zM86 38h1v1h-1zM65 43h1v1h-1zM136 45h1v1h-1zM75 47h1v1h-1zM75 49h1v1h-1zM81 51h1v1h-1zM81 53h1v1h-1zM132 54h1v1h-1zM108 55h1v1h-1zM147 55h1v1h-1zM59 57h1v1h-1zM96 58h1v1h-1zM56 59h1v1h-1zM71 61h1v1h-1zM8 63h1v1h-1zM53 67h1v1h-1zM114 72h1v1h-1zM31 73h1v1h-1zM33 75h1v1h-1zM49 78h1v1h-1zM77 78h1v1h-1zM117 78h1v1h-1zM118 78h1v1h-1zM90 80h1v1h-1zM94 80h1v1h-1zM112 81h1v1h-1zM106 82h1v1h-1zM109 84h1v1h-1zM14 87h1v1h-1zM109 87h1v1h-1zM16 90h1v1h-1zM83 91h1v1h-1zM20 92h1v1h-1zM148 96h1v1h-1zM7 99h1v1h-1zM109 100h1v1h-1zM67 104h1v1h-1zM92 111h1v1h-1zM119 111h1v1h-1zM141 115h1v1h-1zM114 116h1v1h-1zM117 117h1v1h-1zM57 120h1v1h-1zM60 120h1v1h-1zM139 123h1v1h-1zM17 125h1v1h-1zM30 125h1v1h-1zM58 126h1v1h-1zM61 126h1v1h-1zM66 128h1v1h-1zM141 129h1v1h-1zM27 132h1v1h-1zM88 134h1v1h-1zM87 136h1v1h-1zM90 137h1v1h-1zM73 139h1v1h-1zM2 140h1v1h-1zM29 143h1v1h-1zM91 148h1v1h-1z"/>
<path fill="rgb(82,82,82)" d="M139 0h1v1h-1zM7 2h1v1h-1zM67 3h1v1h-1zM91 6h1v1h-1zM110 6h1v1h-1zM99 9h1v1h-1zM122 13h1v1h-1zM4 14h1v1h-1zM44 16h1v1h-1zM65 16h1v1h-1zM132 18h1v1h-1zM138 18h1v1h-1zM74 19h1v1h-1zM73 22h1v1h-1zM71 23h1v1h-1zM30 25h1v1h-1zM37 25h1v1h-1zM89 26h1v1h-1zM92 26h1v1h-1zM21 27h1v1h-1zM65 27h1v1h-1zM51 28h1v1h-1zM134 29h1v1h-1zM115 32h1v1h-1zM11 33h1v1h-1zM135 34h1v1h-1zM87 38h1v1h-1zM73 40h1v1h-1zM45 42h1v1h-1zM14 46h1v1h-1zM98 47h1v1h-1zM105 47h1v1h-1zM6 48h1v1h-1zM41 49h1v1h-1zM66 51h1v1h-1zM90 51h1v1h-1zM101 53h1v1h-1zM70 54h1v1h-1zM126 56h1v1h-1zM27 59h1v1h-1zM149 60h1v1h-1zM90 62h1v1h-1zM0 64h1v1h-1zM64 64h1v1h-1zM63 66h1v1h-1zM104 68h1v1h-1zM115 69h1v1h-1zM42 71h1v1h-1zM6 72h1v1h-1zM75 73h1v1h-1zM5 75h1v1h-1zM9 75h1v1h-1zM127 75h1v1h-1zM65 77h1v1h-1zM22 78h1v1h-1zM79 78h1v1h-1zM61 79h1v1h-1zM96 80h1v1h-1zM57 82h1v1h-1zM86 88h1v1h-1zM128 92h1v1h-1zM144 92h1v1h-1zM79 94h1v1h-1zM1 96h1v1h-1zM109 98h1v1h-1zM75 100h1v1h-1zM6 102h1v1h-1zM123 103h1v1h-1zM78 109h1v1h-1zM99 110h1v1h-1zM101 113h1v1h-1zM61 117h1v1h-1zM71 117h1v1h-1zM11 118h1v1h-1zM70 125h1v1h-1zM16 128h1v1h-1zM71 128h1v1h-1zM111 129h1v1h-1zM77 135h1v1h-1zM12 140h1v1h-1zM108 141h1v1h-1zM114 142h1v1h-1zM51 143h1v1h-1zM51 144h1v1h-1zM102 145h1v1h-1zM109 146h1v1h-1zM92 149h1v1h-1zM119 149h1v1h-1z"/>
<path fill="rgb(90,90,90)" d="M130 4h1v1h-1zM89 5h1v1h-1zM79 7h1v1h-1zM67 10h1v1h-1zM122 12h1v1h-1zM39 19h1v1h-1zM143 21h1v1h-1zM74 22h1v1h-1zM82 23h1v1h-1zM35 24h1v1h-1zM104 28h1v1h-1zM140 28h1v1h-1zM53 33h1v1h-1zM62 34h1v1h-1zM26 37h1v1h-1zM19 40h1v1h-1zM113 41h1v1h-1zM65 44h1v1h-1zM23 50h1v1h-1zM103 52h1v1h-1zM37 56h1v1h-1zM100 56h1v1h-1zM62 59h1v1h-1zM69 60h1v1h-1zM43 62h1v1h-1zM60 62h1v1h-1zM112 64h1v1h-1zM47 65h1v1h-1zM130 75h1v1h-1zM78 77h1v1h-1zM146 77h1v1h-1zM64 79h1v1h-1zM102 80h1v1h-1zM49 81h1v1h-1zM91 84h1v1h-1zM21 85h1v1h-1zM101 85h1v1h-1zM15 87h1v1h-1zM128 93h1v1h-1zM41 96h1v1h-1zM45 96h1v1h-1zM31 97h1v1h-1zM33 98h1v1h-1zM39 98h1v1h-1zM27 99h1v1h-1zM114 102h1v1h-1zM146 103h1v1h-1zM21 105h1v1h-1zM27 107h1v1h-1zM29 107h1v1h-1zM121 108h1v1h-1zM149 111h1v1h-1zM48 124h1v1h-1zM12 125h1v1h-1zM52 126h1v1h-1zM117 130h1v1h-1zM114 134h1v1h-1zM9 135h1v1h-1zM132 136h1v1h-1zM107 138h1v1h-1zM28 139h1v1h-1zM4 140h1v1h-1zM61 146h1v1h-1zM38 147h1v1h-1zM110 147h1v1h-1zM19 148h1v1h-1z"/>
<path fill="rgb(99,99,99)" d="M24 4h1v1h-1zM8 5h1v1h-1zM127 5h1v1h-1zM23 7h1v1h-1zM122 9h1v1h-1zM33 12h1v1h-1zM67 13h1v1h-1zM7 16h1v1h-1zM49 16h1v1h-1zM33 18h1v1h-1zM144 22h1v1h-1zM89 24h1v1h-1zM1 29h1v1h-1zM145 30h1v1h-1zM54 32h1v1h-1zM67 34h1v1h-1zM24 35h1v1h-1zM108 35h1v1h-1zM140 40h1v1h-1zM65 41h1v1h-1zM70 41h1v1h-1zM71 43h1v1h-1zM42 44h1v1h-1zM63 46h1v1h-1zM113 47h1v1h-1zM127 47h1v1h-1zM22 49h1v1h-1zM86 50h1v1h-1zM42 52h1v1h-1zM77 52h1v1h-1zM13 53h1v1h-1zM10 59h1v1h-1zM27 60h1v1h-1zM136 60h1v1h-1zM144 61h1v1h-1zM54 68h1v1h-1zM8 72h1v1h-1zM101 73h1v1h-1zM122 73h1v1h-1zM9 74h1v1h-1zM35 76h1v1h-1zM68 77h1v1h-1zM149 84h1v1h-1zM6 85h1v1h-1zM147 86h1v1h-1zM47 89h1v1h-1zM17 94h1v1h-1zM77 95h1v1h-1zM103 95h1v1h-1zM47 98h1v1h-1zM10 99h1v1h-1zM69 99h1v1h-1zM138 101h1v1h-1zM22 102h1v1h-1zM67 102h1v1h-1zM107 102h1v1h-1zM38 103h1v1h-1zM131 105h1v1h-1zM33 107h1v1h-1zM50 114h1v1h-1zM71 121h1v1h-1zM149 123h1v1h-1zM5 124h1v1h-1zM103 125h1v1h-1zM128 128h1v1h-1zM140 130h1v1h-1zM129 132h1v1h-1zM132 133h1v1h-1zM19 137h1v1h-1zM78 138h1v1h-1zM7 141h1v1h-1zM51 141h1v1h-1zM116 141h1v1h-1zM25 142h1v1h-1zM111 142h1v1h-1zM129 143h1v1h-1zM141 143h1v1h-1zM142 143h1v1h-1zM31 144h1v1h-1zM5 146h1v1h-1zM101 147h1v1h-1zM70 148h1v1h-1z"/>
<path fill="rgb(108,108,108)" d="M17 1h1v1h-1zM48 3h1v1h-1zM116 3h1v1h-1zM40 7h1v1h-1zM43 8h1v1h-1zM43 11h1v1h-1zM143 11h1v1h-1zM149 15h1v1h-1zM91 16h1v1h-1zM64 18h1v1h-1zM101 18h1v1h-1zM112 18h1v1h-1zM69 19h1v1h-1zM134 20h1v1h-1zM63 21h1v1h-1zM111 22h1v1h-1zM50 24h1v1h-1zM48 25h1v1h-1zM34 29h1v1h-1zM23 37h1v1h-1zM62 38h1v1h-1zM48 39h1v1h-1zM108 39h1v1h-1zM31 42h1v1h-1zM78 42h1v1h-1zM59 43h1v1h-1zM149 48h1v1h-1zM5 49h1v1h-1zM101 50h1v1h-1zM49 54h1v1h-1zM149 55h1v1h-1zM32 56h1v1h-1zM143 56h1v1h-1zM73 58h1v1h-1zM67 60h1v1h-1zM21 64h1v1h-1zM1 65h1v1h-1zM14 65h1v1h-1zM112 65h1v1h-1zM135 65h1v1h-1zM29 72h1v1h-1zM102 73h1v1h-1zM144 80h1v1h-1zM8 82h1v1h-1zM105 83h1v1h-1zM38 86h1v1h-1zM45 87h1v1h-1zM64 87h1v1h-1zM73 88h1v1h-1zM92 88h1v1h-1zM62 90h1v1h-1zM13 91h1v1h-1zM6 92h1v1h-1zM122 94h1v1h-1zM148 95h1v1h-1zM101 98h1v1h-1zM54 99h1v1h-1zM51 100h1v1h-1zM57 100h1v1h-1zM118 104h1v1h-1zM5 106h1v1h-1zM89 106h1v1h-1zM122 107h1v1h-1zM65 111h1v1h-1zM71 111h1v1h-1zM46 114h1v1h-1zM104 117h1v1h-1zM139 117h1v1h-1zM148 117h1v1h-1zM95 124h1v1h-1zM136 126h1v1h-1zM74 128h1v1h-1zM116 128h1v1h-1zM31 131h1v1h-1zM116 132h1v1h-1zM28 135h1v1h-1zM122 137h1v1h-1zM94 141h1v1h-1zM101 141h1v1h-1zM88 143h1v1h-1zM8 145h1v1h-1z"/>
<path fill="rgb(116,116,116)" d="M89 1h1v1h-1zM52 3h1v1h-1zM38 6h1v1h-1zM42 6h1v1h-1zM99 7h1v1h-1zM119 7h1v1h-1zM54 9h1v1h-1zM108 9h1v1h-1zM29 12h1v1h-1zM93 14h1v1h-1zM9 16h1v1h-1zM94 16h1v1h-1zM75 17h1v1h-1zM10 18h1v1h-1zM130 19h1v1h-1zM6 20h1v1h-1zM18 21h1v1h-1zM18 23h1v1h-1zM138 27h1v1h-1zM27 31h1v1h-1zM137 31h1v1h-1zM85 32h1v1h-1zM96 33h1v1h-1zM19 36h1v1h-1zM92 38h1v1h-1zM55 39h1v1h-1zM8 40h1v1h-1zM12 40h1v1h-1zM48 41h1v1h-1zM53 42h1v1h-1zM66 44h1v1h-1zM44 45h1v1h-1zM99 45h1v1h-1zM43 49h1v1h-1zM96 49h1v1h-1zM101 51h1v1h-1zM34 54h1v1h-1zM43 55h1v1h-1zM94 56h1v1h-1zM105 59h1v1h-1zM46 61h1v1h-1zM131 61h1v1h-1zM12 64h1v1h-1zM89 66h1v1h-1zM123 66h1v1h-1zM149 66h1v1h-1zM88 70h1v1h-1zM47 72h1v1h-1zM86 72h1v1h-1zM118 84h1v1h-1zM110 85h1v1h-1zM114 85h1v1h-1zM100 87h1v1h-1zM15 90h1v1h-1zM89 90h1v1h-1zM87 93h1v1h-1zM71 94h1v1h-1zM121 96h1v1h-1zM70 99h1v1h-1zM41 100h1v1h-1zM111 100h1v1h-1zM112 100h1v1h-1zM25 103h1v1h-1zM89 103h1v1h-1zM45 108h1v1h-1zM108 110h1v1h-1zM127 110h1v1h-1zM149 110h1v1h-1zM47 112h1v1h-1zM19 114h1v1h-1zM2 116h1v1h-1zM105 118h1v1h-1zM43 122h1v1h-1zM132 122h1v1h-1zM26 124h1v1h-1zM116 124h1v1h-1zM10 125h1v1h-1zM91 127h1v1h-1zM113 129h1v1h-1zM22 130h1v1h-1zM44 130h1v1h-1zM70 130h1v1h-1zM84 132h1v1h-1zM23 134h1v1h-1zM127 136h1v1h-1zM14 137h1v1h-1zM95 144h1v1h-1zM136 144h1v1h-1zM20 145h1v1h-1zM29 146h1v1h-1zM83 146h1v1h-1z"/>
<path fill="rgb(125,125,125)" d="M119 0h1v1h-1zM75 1h1v1h-1zM118 2h1v1h-1zM144 3h1v1h-1zM23 8h1v1h-1zM40 9h1v1h-1zM19 10h1v1h-1zM135 13h1v1h-1zM149 17h1v1h-1zM105 19h1v1h-1zM71 25h1v1h-1zM3 27h1v1h-1zM66 27h1v1h-1zM124 27h1v1h-1zM135 29h1v1h-1zM22 32h1v1h-1zM119 34h1v1h-1zM148 34h1v1h-1zM128 36h1v1h-1zM136 37h1v1h-1zM114 40h1v1h-1zM39 41h1v1h-1zM7 43h1v1h-1zM43 44h1v1h-1zM31 46h1v1h-1zM35 48h1v1h-1zM34 51h1v1h-1zM73 53h1v1h-1zM97 56h1v1h-1zM105 57h1v1h-1zM122 62h1v1h-1zM70 64h1v1h-1zM123 67h1v1h-1zM96 69h1v1h-1zM94 72h1v1h-1zM120 74h1v1h-1zM101 79h1v1h-1zM113 84h1v1h-1zM4 85h1v1h-1zM137 85h1v1h-1zM0 90h1v1h-1zM143 90h1v1h-1zM110 94h1v1h-1zM58 102h1v1h-1zM106 104h1v1h-1zM1 106h1v1h-1zM30 108h1v1h-1zM120 114h1v1h-1zM81 117h1v1h-1zM19 118h1v1h-1zM97 120h1v1h-1zM55 121h1v1h-1zM133 121h1v1h-1zM110 122h1v1h-1zM106 124h1v1h-1zM119 124h1v1h-1zM126 127h1v1h-1zM26 132h1v1h-1zM125 139h1v1h-1zM75 143h1v1h-1zM93 143h1v1h-1zM8 146h1v1h-1zM110 146h1v1h-1zM135 146h1v1h-1zM140 149h1v1h-1zM147 149h1v1h-1z"/>
<path fill="rgb(133,133,133)" d="M4 2h1v1h-1zM76 2h1v1h-1zM126 3h1v1h-1zM131 4h1v1h-1zM47 8h1v1h-1zM103 8h1v1h-1zM44 9h1v1h-1zM141 11h1v1h-1zM104 12h1v1h-1zM139 15h1v1h-1zM107 16h1v1h-1zM96 17h1v1h-1zM135 19h1v1h-1zM107 20h1v1h-1zM86 21h1v1h-1zM78 22h1v1h-1zM104 22h1v1h-1zM40 23h1v1h-1zM12 24h1v1h-1zM4 27h1v1h-1zM6 30h1v1h-1zM15 32h1v1h-1zM26 33h1v1h-1zM38 33h1v1h-1zM23 34h1v1h-1zM31 34h1v1h-1zM124 36h1v1h-1zM112 38h1v1h-1zM60 40h1v1h-1zM62 40h1v1h-1zM97 40h1v1h-1zM126 40h1v1h-1zM32 42h1v1h-1zM114 43h1v1h-1zM47 45h1v1h-1zM148 45h1v1h-1zM70 46h1v1h-1zM59 47h1v1h-1zM60 49h1v1h-1zM87 49h1v1h-1zM69 50h1v1h-1zM55 51h1v1h-1zM33 55h1v1h-1zM86 55h1v1h-1zM140 60h1v1h-1zM50 62h1v1h-1zM10 63h1v1h-1zM34 69h1v1h-1zM111 70h1v1h-1zM12 71h1v1h-1zM129 72h1v1h-1zM47 74h1v1h-1zM40 79h1v1h-1zM104 79h1v1h-1zM89 81h1v1h-1zM141 81h1v1h-1zM62 82h1v1h-1zM22 84h1v1h-1zM145 86h1v1h-1zM43 87h1v1h-1zM97 87h1v1h-1zM109 88h1v1h-1zM149 88h1v1h-1zM5 92h1v1h-1zM102 92h1v1h-1zM13 96h1v1h-1zM113 98h1v1h-1zM126 99h1v1h-1zM100 100h1v1h-1zM99 104h1v1h-1zM104 104h1v1h-1zM107 104h1v1h-1zM132 105h1v1h-1zM8 106h1v1h-1zM139 112h1v1h-1zM123 115h1v1h-1zM132 116h1v1h-1zM144 117h1v1h-1zM29 126h1v1h-1zM96 127h1v1h-1zM130 132h1v1h-1zM12 134h1v1h-1zM0 135h1v1h-1zM3 139h1v1h-1zM39 140h1v1h-1zM83 149h1v1h-1zM132 149h1v1h-1z"/>
<path fill="rgb(219,219,219)" d="M8 14h1v1h-1zM1 28h1v1h-1zM52 36h1v1h-1zM4 40h1v1h-1zM104 50h1v1h-1zM141 57h1v1h-1zM6 74h1v1h-1zM17 77h1v1h-1zM42 82h1v1h-1zM7 108h1v1h-1zM106 127h1v1h-1zM97 137h1v1h-1zM25 140h1v1h-1zM1 142h1v1h-1zM115 145h1v1h-1zM21 148h1v1h-1z"/>
<path fill="rgb(228,228,228)" d="M85 13h1v1h-1zM9 25h1v1h-1zM41 26h1v1h-1zM26 30h1v1h-1zM106 40h1v1h-1zM10 55h1v1h-1zM84 56h1v1h-1zM93 65h1v1h-1zM72 72h1v1h-1zM67 79h1v1h-1zM124 79h1v1h-1zM2 82h1v1h-1zM74 82h1v1h-1zM104 83h1v1h-1zM33 85h1v1h-1zM83 106h1v1h-1zM124 109h1v1h-1zM60 127h1v1h-1zM7 130h1v1h-1z"/>
<path fill="rgb(237,237,237)" d="M15 8h1v1h-1zM88 40h1v1h-1zM146 41h1v1h-1zM26 45h1v1h-1zM33 48h1v1h-1zM31 52h1v1h-1zM25 62h1v1h-1zM47 63h1v1h-1zM73 63h1v1h-1zM63 65h1v1h-1zM51 67h1v1h-1zM57 71h1v1h-1zM143 78h1v1h-1zM126 79h1v1h-1zM34 83h1v1h-1zM9 90h1v1h-1zM138 90h1v1h-1zM107 103h1v1h-1zM43 112h1v1h-1zM82 120h1v1h-1zM23 126h1v1h-1zM136 128h1v1h-1zM1 136h1v1h-1zM59 136h1v1h-1zM136 141h1v1h-1zM102 147h1v1h-1z"/>
<path fill="rgb(245,245,245)" d="M14 4h1v1h-1zM0 10h1v1h-1zM72 19h1v1h-1zM136 22h1v1h-1zM64 33h1v1h-1zM130 41h1v1h-1zM17 44h1v1h-1zM49 52h1v1h-1zM88 56h1v1h-1zM111 58h1v1h-1zM111 65h1v1h-1zM60 66h1v1h-1zM32 81h1v1h-1zM94 96h1v1h-1zM45 97h1v1h-1zM107 100h1v1h-1zM144 100h1v1h-1zM86 102h1v1h-1zM24 105h1v1h-1zM60 109h1v1h-1zM94 115h1v1h-1zM20 116h1v1h-1zM46 121h1v1h-1zM12 122h1v1h-1zM146 125h1v1h-1zM97 133h1v1h-1zM110 138h1v1h-1z"/>
<path fill="rgb(254,254,254)" d="M106 2h1v1h-1zM5 5h1v1h-1zM33 10h1v1h-1zM45 10h1v1h-1zM67 23h1v1h-1zM8 27h1v1h-1zM2 32h1v1h-1zM60 32h1v1h-1zM2 35h1v1h-1zM84 38h1v1h-1zM115 39h1v1h-1zM23 53h1v1h-1zM91 54h1v1h-1zM3 55h1v1h-1zM112 55h1v1h-1zM11 56h1v1h-1zM99 57h1v1h-1zM34 79h1v1h-1zM16 96h1v1h-1zM108 98h1v1h-1zM132 98h1v1h-1zM108 99h1v1h-1zM128 100h1v1h-1zM73 102h1v1h-1zM84 104h1v1h-1zM4 114h1v1h-1zM75 118h1v1h-1zM75 137h1v1h-1zM143 139h1v1h-1zM40 147h1v1h-1z"/>
<path fill="rgb(255,255,255)" d="M51 0h1v1h-1zM81 11h1v1h-1zM59 14h1v1h-1zM17 30h1v1h-1zM79 32h1v1h-1zM18 39h1v1h-1zM17 41h1v1h-1zM20 42h1v1h-1zM83 43h1v1h-1zM101 57h1v1h-1zM48 59h1v1h-1zM110 61h1v1h-1zM132 61h1v1h-1zM143 69h1v1h-1zM110 70h1v1h-1zM54 88h1v1h-1zM135 90h1v1h-1zM68 94h1v1h-1zM10 98h1v1h-1zM63 131h1v1h-1zM39 133h1v1h-1zM111 135h1v1h-1zM105 137h1v1h-1zM36 139h1v1h-1zM96 141h1v1h-1zM124 144h1v1h-1z"/>
<path fill="rgb(255,255,255)" d="M90 23h1v1h-1zM140 35h1v1h-1zM34 38h1v1h-1zM96 48h1v1h-1zM75 50h1v1h-1zM84 53h1v1h-1zM22 61h1v1h-1zM36 66h1v1h-1zM82 70h1v1h-1zM125 72h1v1h-1zM96 83h1v1h-1zM24 90h1v1h-1zM51 98h1v1h-1zM24 100h1v1h-1zM52 101h1v1h-1zM101 101h1v1h-1zM39 114h1v1h-1zM75 119h1v1h-1zM38 137h1v1h-1zM137 140h1v1h-1z"/>
</g>
<text x="29.6" y="544.3" font-size="55" text-anchor="start" fill="#fff">d</text>
<rect x="368" y="926" width="52" height="4.3" fill="#fff"/>
<text x="393.9" y="912.2" font-size="34" text-anchor="middle" fill="#fff" font-weight="bold">1 µm</text>
<rect x="588.2" y="380.84" width="38.15" height="10.66" fill="#66aad7" stroke="#000" stroke-width="2"/>
<rect x="626.35" y="338.2" width="38.15" height="53.3" fill="#66aad7" stroke="#000" stroke-width="2"/>
<rect x="664.5" y="299.12" width="38.15" height="92.38" fill="#66aad7" stroke="#000" stroke-width="2"/>
<rect x="702.65" y="185.43" width="38.15" height="206.07" fill="#66aad7" stroke="#000" stroke-width="2"/>
<rect x="740.8" y="157" width="38.15" height="234.5" fill="#66aad7" stroke="#000" stroke-width="2"/>
<rect x="778.95" y="93.05" width="38.15" height="298.45" fill="#66aad7" stroke="#000" stroke-width="2"/>
<rect x="817.1" y="32.65" width="38.15" height="358.85" fill="#66aad7" stroke="#000" stroke-width="2"/>
<rect x="855.25" y="139.24" width="38.15" height="252.26" fill="#66aad7" stroke="#000" stroke-width="2"/>
<rect x="893.4" y="199.64" width="38.15" height="191.86" fill="#66aad7" stroke="#000" stroke-width="2"/>
<rect x="931.55" y="260.04" width="38.15" height="131.46" fill="#66aad7" stroke="#000" stroke-width="2"/>
<rect x="969.7" y="316.89" width="38.15" height="74.61" fill="#66aad7" stroke="#000" stroke-width="2"/>
<rect x="1007.85" y="352.42" width="38.15" height="39.08" fill="#66aad7" stroke="#000" stroke-width="2"/>
<rect x="1046" y="377.29" width="38.15" height="14.21" fill="#66aad7" stroke="#000" stroke-width="2"/>
<rect x="1084.15" y="384.39" width="38.15" height="7.11" fill="#66aad7" stroke="#000" stroke-width="2"/>
<rect x="1122.3" y="387.95" width="38.15" height="3.55" fill="#66aad7" stroke="#000" stroke-width="2"/>
<rect x="1160.45" y="387.95" width="38.15" height="3.55" fill="#66aad7" stroke="#000" stroke-width="2"/>
<rect x="558.1" y="1" width="671.4" height="390.5" fill="none" stroke="#262626" stroke-width="2"/>
<line x1="557.1" y1="1" x2="1230.5" y2="1" stroke="#181818" stroke-width="2"/>
<line x1="588.2" y1="391.5" x2="588.2" y2="384" stroke="#262626" stroke-width="2"/>
<line x1="588.2" y1="1" x2="588.2" y2="8.5" stroke="#262626" stroke-width="2"/>
<text transform="translate(588.4 417.8) scale(1.0 1.045)" font-size="24" text-anchor="middle" fill="#262626">20</text>
<line x1="664.5" y1="391.5" x2="664.5" y2="384" stroke="#262626" stroke-width="2"/>
<line x1="664.5" y1="1" x2="664.5" y2="8.5" stroke="#262626" stroke-width="2"/>
<text transform="translate(663.88 417.8) scale(1.0 1.045)" font-size="24" text-anchor="middle" fill="#262626">40</text>
<line x1="740.8" y1="391.5" x2="740.8" y2="384" stroke="#262626" stroke-width="2"/>
<line x1="740.8" y1="1" x2="740.8" y2="8.5" stroke="#262626" stroke-width="2"/>
<text transform="translate(739.36 417.8) scale(1.0 1.045)" font-size="24" text-anchor="middle" fill="#262626">60</text>
<line x1="817.1" y1="391.5" x2="817.1" y2="384" stroke="#262626" stroke-width="2"/>
<line x1="817.1" y1="1" x2="817.1" y2="8.5" stroke="#262626" stroke-width="2"/>
<text transform="translate(814.84 417.8) scale(1.0 1.045)" font-size="24" text-anchor="middle" fill="#262626">80</text>
<line x1="893.4" y1="391.5" x2="893.4" y2="384" stroke="#262626" stroke-width="2"/>
<line x1="893.4" y1="1" x2="893.4" y2="8.5" stroke="#262626" stroke-width="2"/>
<text transform="translate(890.32 417.8) scale(1.0 1.045)" font-size="24" text-anchor="middle" fill="#262626">100</text>
<line x1="969.7" y1="391.5" x2="969.7" y2="384" stroke="#262626" stroke-width="2"/>
<line x1="969.7" y1="1" x2="969.7" y2="8.5" stroke="#262626" stroke-width="2"/>
<text transform="translate(965.8 417.8) scale(1.0 1.045)" font-size="24" text-anchor="middle" fill="#262626">120</text>
<line x1="1046" y1="391.5" x2="1046" y2="384" stroke="#262626" stroke-width="2"/>
<line x1="1046" y1="1" x2="1046" y2="8.5" stroke="#262626" stroke-width="2"/>
<text transform="translate(1041.28 417.8) scale(1.0 1.045)" font-size="24" text-anchor="middle" fill="#262626">140</text>
<line x1="1122.3" y1="391.5" x2="1122.3" y2="384" stroke="#262626" stroke-width="2"/>
<line x1="1122.3" y1="1" x2="1122.3" y2="8.5" stroke="#262626" stroke-width="2"/>
<text transform="translate(1116.76 417.8) scale(1.0 1.045)" font-size="24" text-anchor="middle" fill="#262626">160</text>
<line x1="1198.6" y1="391.5" x2="1198.6" y2="384" stroke="#262626" stroke-width="2"/>
<line x1="1198.6" y1="1" x2="1198.6" y2="8.5" stroke="#262626" stroke-width="2"/>
<text transform="translate(1192.24 417.8) scale(1.0 1.045)" font-size="24" text-anchor="middle" fill="#262626">180</text>
<line x1="558.1" y1="320.44" x2="565.6" y2="320.44" stroke="#262626" stroke-width="2"/>
<line x1="1229.5" y1="320.44" x2="1222" y2="320.44" stroke="#262626" stroke-width="2"/>
<text transform="translate(552.1 330.54) scale(1.0 1.045)" font-size="24" text-anchor="end" fill="#262626">20</text>
<line x1="558.1" y1="249.38" x2="565.6" y2="249.38" stroke="#262626" stroke-width="2"/>
<line x1="1229.5" y1="249.38" x2="1222" y2="249.38" stroke="#262626" stroke-width="2"/>
<text transform="translate(552.1 259.48) scale(1.0 1.045)" font-size="24" text-anchor="end" fill="#262626">40</text>
<line x1="558.1" y1="178.32" x2="565.6" y2="178.32" stroke="#262626" stroke-width="2"/>
<line x1="1229.5" y1="178.32" x2="1222" y2="178.32" stroke="#262626" stroke-width="2"/>
<text transform="translate(552.1 188.42) scale(1.0 1.045)" font-size="24" text-anchor="end" fill="#262626">60</text>
<line x1="558.1" y1="107.26" x2="565.6" y2="107.26" stroke="#262626" stroke-width="2"/>
<line x1="1229.5" y1="107.26" x2="1222" y2="107.26" stroke="#262626" stroke-width="2"/>
<text transform="translate(552.1 117.36) scale(1.0 1.045)" font-size="24" text-anchor="end" fill="#262626">80</text>
<line x1="558.1" y1="36.2" x2="565.6" y2="36.2" stroke="#262626" stroke-width="2"/>
<line x1="1229.5" y1="36.2" x2="1222" y2="36.2" stroke="#262626" stroke-width="2"/>
<text transform="translate(552.1 46.3) scale(1.0 1.045)" font-size="24" text-anchor="end" fill="#262626">100</text>
<text x="892.9" y="447.1" font-size="24" text-anchor="middle" fill="#262626">Number of binding events per cluster</text>
<text x="0" y="0" font-size="24" text-anchor="middle" fill="#262626" transform="translate(516.8 193.25) rotate(-90)">Number of clusters</text>
<text x="475.6" y="48.8" font-size="55" text-anchor="start" fill="#1a1a1a">b</text>
<g stroke="#262626" stroke-opacity="0.15" stroke-width="2">
<line x1="1513.2" y1="1" x2="1513.2" y2="391"/>
<line x1="1647.4" y1="1" x2="1647.4" y2="391"/>
<line x1="1781.6" y1="1" x2="1781.6" y2="391"/>
<line x1="1915.8" y1="1" x2="1915.8" y2="391"/>
<line x1="1379" y1="347.67" x2="2049.6" y2="347.67"/>
<line x1="1379" y1="261" x2="2049.6" y2="261"/>
<line x1="1379" y1="174.33" x2="2049.6" y2="174.33"/>
<line x1="1379" y1="87.67" x2="2049.6" y2="87.67"/>
</g>
<line x1="1446.1" y1="1" x2="1446.1" y2="391" stroke="#3c3c3c" stroke-width="1.6"/>
<defs><clipPath id="clipc"><rect x="1379" y="1" width="670.5999999999999" height="390"/></clipPath><clipPath id="clipf"><rect x="1378.6" y="495" width="671.4" height="403.3"/></clipPath><filter id="blurd" x="0" y="0" width="1" height="1"><feGaussianBlur stdDeviation="0.22"/></filter><radialGradient id="dotg"><stop offset="0" stop-color="#fff"/><stop offset="0.3" stop-color="#fff" stop-opacity="0.97"/><stop offset="0.5" stop-color="#fff" stop-opacity="0.7"/><stop offset="0.75" stop-color="#fff" stop-opacity="0.22"/><stop offset="1" stop-color="#fff" stop-opacity="0"/></radialGradient></defs>
<g clip-path="url(#clipc)">
<polyline points="1385.71,3.82 1399.27,31.55 1412.82,47.15 1426.38,70.55 1439.94,82.25 1453.49,82.25 1467.05,94.17 1480.61,105.87 1494.17,114.1 1507.72,129.7 1521.28,137.5 1534.84,157.22 1548.39,160.9 1561.95,172.6 1575.51,184.73 1589.06,188.2 1602.62,196.22 1616.18,208.13 1629.73,219.83 1643.29,239.55 1656.85,247.13 1670.41,247.13 1683.96,247.13 1697.52,254.93 1711.08,254.5 1724.63,257.97 1738.19,257.97 1751.75,257.97 1765.3,257.97 1778.86,262.3 1792.42,274 1805.98,277.9 1819.53,277.9 1833.09,281.8 1846.65,281.8 1860.2,281.8 1873.76,293.5 1887.32,297.4 1900.87,297.4 1914.43,305.42 1927.99,316.68 1941.54,324.48 1955.1,340.52 1968.66,344.42 1982.22,360.02 1995.77,367.82 2009.33,375.62 2022.89,379.52 2036.44,383.42 2050,383.42" fill="none" stroke="#0072BD" stroke-width="2.4" stroke-linejoin="round"/>
<g fill="#0072BD">
<circle cx="1385.71" cy="3.82" r="4.1"/>
<circle cx="1399.27" cy="31.55" r="4.1"/>
<circle cx="1412.82" cy="47.15" r="4.1"/>
<circle cx="1426.38" cy="70.55" r="4.1"/>
<circle cx="1439.94" cy="82.25" r="4.1"/>
<circle cx="1453.49" cy="82.25" r="4.1"/>
<circle cx="1467.05" cy="94.17" r="4.1"/>
<circle cx="1480.61" cy="105.87" r="4.1"/>
<circle cx="1494.17" cy="114.1" r="4.1"/>
<circle cx="1507.72" cy="129.7" r="4.1"/>
<circle cx="1521.28" cy="137.5" r="4.1"/>
<circle cx="1534.84" cy="157.22" r="4.1"/>
<circle cx="1548.39" cy="160.9" r="4.1"/>
<circle cx="1561.95" cy="172.6" r="4.1"/>
<circle cx="1575.51" cy="184.73" r="4.1"/>
<circle cx="1589.06" cy="188.2" r="4.1"/>
<circle cx="1602.62" cy="196.22" r="4.1"/>
<circle cx="1616.18" cy="208.13" r="4.1"/>
<circle cx="1629.73" cy="219.83" r="4.1"/>
<circle cx="1643.29" cy="239.55" r="4.1"/>
<circle cx="1656.85" cy="247.13" r="4.1"/>
<circle cx="1670.41" cy="247.13" r="4.1"/>
<circle cx="1683.96" cy="247.13" r="4.1"/>
<circle cx="1697.52" cy="254.93" r="4.1"/>
<circle cx="1711.08" cy="254.5" r="4.1"/>
<circle cx="1724.63" cy="257.97" r="4.1"/>
<circle cx="1738.19" cy="257.97" r="4.1"/>
<circle cx="1751.75" cy="257.97" r="4.1"/>
<circle cx="1765.3" cy="257.97" r="4.1"/>
<circle cx="1778.86" cy="262.3" r="4.1"/>
<circle cx="1792.42" cy="274" r="4.1"/>
<circle cx="1805.98" cy="277.9" r="4.1"/>
<circle cx="1819.53" cy="277.9" r="4.1"/>
<circle cx="1833.09" cy="281.8" r="4.1"/>
<circle cx="1846.65" cy="281.8" r="4.1"/>
<circle cx="1860.2" cy="281.8" r="4.1"/>
<circle cx="1873.76" cy="293.5" r="4.1"/>
<circle cx="1887.32" cy="297.4" r="4.1"/>
<circle cx="1900.87" cy="297.4" r="4.1"/>
<circle cx="1914.43" cy="305.42" r="4.1"/>
<circle cx="1927.99" cy="316.68" r="4.1"/>
<circle cx="1941.54" cy="324.48" r="4.1"/>
<circle cx="1955.1" cy="340.52" r="4.1"/>
<circle cx="1968.66" cy="344.42" r="4.1"/>
<circle cx="1982.22" cy="360.02" r="4.1"/>
<circle cx="1995.77" cy="367.82" r="4.1"/>
<circle cx="2009.33" cy="375.62" r="4.1"/>
<circle cx="2022.89" cy="379.52" r="4.1"/>
<circle cx="2036.44" cy="383.42" r="4.1"/>
<circle cx="2050" cy="383.42" r="4.1"/>
</g></g>
<rect x="1379" y="1" width="670.6" height="390" fill="none" stroke="#262626" stroke-width="2"/>
<line x1="1378" y1="1" x2="2050.6" y2="1" stroke="#181818" stroke-width="2"/>
<line x1="1513.2" y1="391" x2="1513.2" y2="383.5" stroke="#262626" stroke-width="2"/>
<line x1="1513.2" y1="1" x2="1513.2" y2="8.5" stroke="#262626" stroke-width="2"/>
<text transform="translate(1515.7 417.7) scale(1.0 1.045)" font-size="24" text-anchor="middle" fill="#262626">2</text>
<line x1="1647.4" y1="391" x2="1647.4" y2="383.5" stroke="#262626" stroke-width="2"/>
<line x1="1647.4" y1="1" x2="1647.4" y2="8.5" stroke="#262626" stroke-width="2"/>
<text transform="translate(1647.1 417.7) scale(1.0 1.045)" font-size="24" text-anchor="middle" fill="#262626">4</text>
<line x1="1781.6" y1="391" x2="1781.6" y2="383.5" stroke="#262626" stroke-width="2"/>
<line x1="1781.6" y1="1" x2="1781.6" y2="8.5" stroke="#262626" stroke-width="2"/>
<text transform="translate(1780.4 417.7) scale(1.0 1.045)" font-size="24" text-anchor="middle" fill="#262626">6</text>
<line x1="1915.8" y1="391" x2="1915.8" y2="383.5" stroke="#262626" stroke-width="2"/>
<line x1="1915.8" y1="1" x2="1915.8" y2="8.5" stroke="#262626" stroke-width="2"/>
<text transform="translate(1913.6 417.7) scale(1.0 1.045)" font-size="24" text-anchor="middle" fill="#262626">8</text>
<line x1="1379" y1="347.67" x2="1386.5" y2="347.67" stroke="#262626" stroke-width="2"/>
<line x1="2049.6" y1="347.67" x2="2042.1" y2="347.67" stroke="#262626" stroke-width="2"/>
<text transform="translate(1372.8 357.37) scale(1.0 1.045)" font-size="24" text-anchor="end" fill="#262626">82</text>
<line x1="1379" y1="261" x2="1386.5" y2="261" stroke="#262626" stroke-width="2"/>
<line x1="2049.6" y1="261" x2="2042.1" y2="261" stroke="#262626" stroke-width="2"/>
<text transform="translate(1372.8 270.7) scale(1.0 1.045)" font-size="24" text-anchor="end" fill="#262626">86</text>
<line x1="1379" y1="174.33" x2="1386.5" y2="174.33" stroke="#262626" stroke-width="2"/>
<line x1="2049.6" y1="174.33" x2="2042.1" y2="174.33" stroke="#262626" stroke-width="2"/>
<text transform="translate(1372.8 184.03) scale(1.0 1.045)" font-size="24" text-anchor="end" fill="#262626">90</text>
<line x1="1379" y1="87.67" x2="1386.5" y2="87.67" stroke="#262626" stroke-width="2"/>
<line x1="2049.6" y1="87.67" x2="2042.1" y2="87.67" stroke="#262626" stroke-width="2"/>
<text transform="translate(1372.8 97.37) scale(1.0 1.045)" font-size="24" text-anchor="end" fill="#262626">94</text>
<text x="1713.5" y="447.1" font-size="24" text-anchor="middle" fill="#262626">Significance level (%)</text>
<text x="0" y="0" font-size="24" text-anchor="middle" fill="#262626" transform="translate(1336 195.3) rotate(-90)">Non-rejected clusters (%)</text>
<text x="0" y="0" font-size="55" text-anchor="start" fill="#1a1a1a" transform="translate(1301.2 49) scale(1.11 1)">c</text>
<line x1="588.71" y1="495" x2="588.71" y2="898.3" stroke="#262626" stroke-opacity="0.15" stroke-width="2"/>
<line x1="649.73" y1="495" x2="649.73" y2="898.3" stroke="#262626" stroke-opacity="0.15" stroke-width="2"/>
<line x1="710.75" y1="495" x2="710.75" y2="898.3" stroke="#262626" stroke-opacity="0.15" stroke-width="2"/>
<line x1="771.76" y1="495" x2="771.76" y2="898.3" stroke="#262626" stroke-opacity="0.15" stroke-width="2"/>
<line x1="832.78" y1="495" x2="832.78" y2="898.3" stroke="#262626" stroke-opacity="0.15" stroke-width="2"/>
<line x1="893.8" y1="495" x2="893.8" y2="898.3" stroke="#262626" stroke-opacity="0.15" stroke-width="2"/>
<line x1="954.82" y1="495" x2="954.82" y2="898.3" stroke="#262626" stroke-opacity="0.15" stroke-width="2"/>
<line x1="1015.84" y1="495" x2="1015.84" y2="898.3" stroke="#262626" stroke-opacity="0.15" stroke-width="2"/>
<line x1="1076.85" y1="495" x2="1076.85" y2="898.3" stroke="#262626" stroke-opacity="0.15" stroke-width="2"/>
<line x1="1137.87" y1="495" x2="1137.87" y2="898.3" stroke="#262626" stroke-opacity="0.15" stroke-width="2"/>
<line x1="1198.89" y1="495" x2="1198.89" y2="898.3" stroke="#262626" stroke-opacity="0.15" stroke-width="2"/>
<line x1="558.2" y1="871.77" x2="1229.4" y2="871.77" stroke="#0072BD" stroke-opacity="0.15" stroke-width="2"/>
<line x1="558.2" y1="765.64" x2="1229.4" y2="765.64" stroke="#0072BD" stroke-opacity="0.15" stroke-width="2"/>
<line x1="558.2" y1="659.5" x2="1229.4" y2="659.5" stroke="#0072BD" stroke-opacity="0.15" stroke-width="2"/>
<line x1="558.2" y1="553.37" x2="1229.4" y2="553.37" stroke="#0072BD" stroke-opacity="0.15" stroke-width="2"/>
<line x1="588.71" y1="898.3" x2="588.71" y2="890.8" stroke="#262626" stroke-width="2"/>
<line x1="588.71" y1="495" x2="588.71" y2="502.5" stroke="#262626" stroke-width="2"/>
<text transform="translate(584.7 925.6) scale(1.0 1.045)" font-size="24" text-anchor="middle" fill="#262626">5</text>
<line x1="649.73" y1="898.3" x2="649.73" y2="890.8" stroke="#262626" stroke-width="2"/>
<line x1="649.73" y1="495" x2="649.73" y2="502.5" stroke="#262626" stroke-width="2"/>
<text transform="translate(645.6 925.6) scale(1.0 1.045)" font-size="24" text-anchor="middle" fill="#262626">6</text>
<line x1="710.75" y1="898.3" x2="710.75" y2="890.8" stroke="#262626" stroke-width="2"/>
<line x1="710.75" y1="495" x2="710.75" y2="502.5" stroke="#262626" stroke-width="2"/>
<text transform="translate(706.3 925.6) scale(1.0 1.045)" font-size="24" text-anchor="middle" fill="#262626">7</text>
<line x1="771.76" y1="898.3" x2="771.76" y2="890.8" stroke="#262626" stroke-width="2"/>
<line x1="771.76" y1="495" x2="771.76" y2="502.5" stroke="#262626" stroke-width="2"/>
<text transform="translate(767.6 925.6) scale(1.0 1.045)" font-size="24" text-anchor="middle" fill="#262626">8</text>
<line x1="832.78" y1="898.3" x2="832.78" y2="890.8" stroke="#262626" stroke-width="2"/>
<line x1="832.78" y1="495" x2="832.78" y2="502.5" stroke="#262626" stroke-width="2"/>
<text transform="translate(828.6 925.6) scale(1.0 1.045)" font-size="24" text-anchor="middle" fill="#262626">9</text>
<line x1="893.8" y1="898.3" x2="893.8" y2="890.8" stroke="#262626" stroke-width="2"/>
<line x1="893.8" y1="495" x2="893.8" y2="502.5" stroke="#262626" stroke-width="2"/>
<text transform="translate(890.2 925.6) scale(1.0 1.045)" font-size="24" text-anchor="middle" fill="#262626">10</text>
<line x1="954.82" y1="898.3" x2="954.82" y2="890.8" stroke="#262626" stroke-width="2"/>
<line x1="954.82" y1="495" x2="954.82" y2="502.5" stroke="#262626" stroke-width="2"/>
<text transform="translate(950.3 925.6) scale(1.0 1.045)" font-size="24" text-anchor="middle" fill="#262626">11</text>
<line x1="1015.84" y1="898.3" x2="1015.84" y2="890.8" stroke="#262626" stroke-width="2"/>
<line x1="1015.84" y1="495" x2="1015.84" y2="502.5" stroke="#262626" stroke-width="2"/>
<text transform="translate(1013.1 925.6) scale(1.0 1.045)" font-size="24" text-anchor="middle" fill="#262626">12</text>
<line x1="1076.85" y1="898.3" x2="1076.85" y2="890.8" stroke="#262626" stroke-width="2"/>
<line x1="1076.85" y1="495" x2="1076.85" y2="502.5" stroke="#262626" stroke-width="2"/>
<text transform="translate(1074.4 925.6) scale(1.0 1.045)" font-size="24" text-anchor="middle" fill="#262626">13</text>
<line x1="1137.87" y1="898.3" x2="1137.87" y2="890.8" stroke="#262626" stroke-width="2"/>
<line x1="1137.87" y1="495" x2="1137.87" y2="502.5" stroke="#262626" stroke-width="2"/>
<text transform="translate(1135 925.6) scale(1.0 1.045)" font-size="24" text-anchor="middle" fill="#262626">14</text>
<line x1="1198.89" y1="898.3" x2="1198.89" y2="890.8" stroke="#262626" stroke-width="2"/>
<line x1="1198.89" y1="495" x2="1198.89" y2="502.5" stroke="#262626" stroke-width="2"/>
<text transform="translate(1196.2 925.6) scale(1.0 1.045)" font-size="24" text-anchor="middle" fill="#262626">15</text>
<line x1="558.2" y1="871.77" x2="565.7" y2="871.77" stroke="#0072BD" stroke-width="2"/>
<text transform="translate(552 880.77) scale(1.0 1.045)" font-size="24" text-anchor="end" fill="#0072BD">30</text>
<line x1="558.2" y1="765.64" x2="565.7" y2="765.64" stroke="#0072BD" stroke-width="2"/>
<text transform="translate(552 774.64) scale(1.0 1.045)" font-size="24" text-anchor="end" fill="#0072BD">50</text>
<line x1="558.2" y1="659.5" x2="565.7" y2="659.5" stroke="#0072BD" stroke-width="2"/>
<text transform="translate(552 668.5) scale(1.0 1.045)" font-size="24" text-anchor="end" fill="#0072BD">70</text>
<line x1="558.2" y1="553.37" x2="565.7" y2="553.37" stroke="#0072BD" stroke-width="2"/>
<text transform="translate(552 562.37) scale(1.0 1.045)" font-size="24" text-anchor="end" fill="#0072BD">90</text>
<line x1="1229.4" y1="783.07" x2="1221.9" y2="783.07" stroke="#D95319" stroke-width="2"/>
<text transform="translate(1233.4 789.27) scale(1.0 1.045)" font-size="24" text-anchor="start" fill="#D95319">2</text>
<line x1="1229.4" y1="667.84" x2="1221.9" y2="667.84" stroke="#D95319" stroke-width="2"/>
<text transform="translate(1233.4 674.04) scale(1.0 1.045)" font-size="24" text-anchor="start" fill="#D95319">4</text>
<line x1="1229.4" y1="552.61" x2="1221.9" y2="552.61" stroke="#D95319" stroke-width="2"/>
<text transform="translate(1233.4 558.81) scale(1.0 1.045)" font-size="24" text-anchor="start" fill="#D95319">6</text>
<g stroke="#0072BD" stroke-width="2.4" fill="none">
<path d="M588.71 875.48V837.8M583.41 875.48H594.01M583.41 837.8H594.01"/>
<path d="M649.73 830.38V762.98M644.43 830.38H655.03M644.43 762.98H655.03"/>
<path d="M710.75 765.1V711.51M705.45 765.1H716.05M705.45 711.51H716.05"/>
<path d="M771.76 725.84V665.34M766.46 725.84H777.06M766.46 665.34H777.06"/>
<path d="M832.78 694.53V617.58M827.48 694.53H838.08M827.48 617.58H838.08"/>
<path d="M893.8 675.42V583.62M888.5 675.42H899.1M888.5 583.62H899.1"/>
<path d="M954.82 621.83V552.84M949.52 621.83H960.12M949.52 552.84H960.12"/>
<path d="M1015.84 561.86V508M1010.54 561.86H1021.14M1010.54 508H1021.14"/>
<path d="M1076.85 596.04V516.76M1071.55 596.04H1082.15M1071.55 516.76H1082.15"/>
<path d="M1137.87 548.6V500.31M1132.57 548.6H1143.17M1132.57 500.31H1143.17"/>
<path d="M1198.89 583.62V500.31M1193.59 583.62H1204.19M1193.59 500.31H1204.19"/>
<polyline points="588.71,856.91 649.73,796.94 710.75,738.57 771.76,696.12 832.78,656.32 893.8,629.26 954.82,587.6 1015.84,535.06 1076.85,556.24 1137.87,524.19 1198.89,537.19" stroke-linejoin="round"/>
</g>
<g fill="#0072BD">
<circle cx="588.71" cy="856.91" r="3.6"/>
<circle cx="649.73" cy="796.94" r="3.6"/>
<circle cx="710.75" cy="738.57" r="3.6"/>
<circle cx="771.76" cy="696.12" r="3.6"/>
<circle cx="832.78" cy="656.32" r="3.6"/>
<circle cx="893.8" cy="629.26" r="3.6"/>
<circle cx="954.82" cy="587.6" r="3.6"/>
<circle cx="1015.84" cy="535.06" r="3.6"/>
<circle cx="1076.85" cy="556.24" r="3.6"/>
<circle cx="1137.87" cy="524.19" r="3.6"/>
<circle cx="1198.89" cy="537.19" r="3.6"/>
</g>
<g stroke="#D95319" stroke-width="2.4" fill="none">
<path d="M588.71 615.99V516.32M583.41 615.99H594.01M583.41 516.32H594.01"/>
<path d="M649.73 762.91V707.6M644.43 762.91H655.03M644.43 707.6H655.03"/>
<path d="M710.75 825.13V789.41M705.45 825.13H716.05M705.45 789.41H716.05"/>
<path d="M771.76 851.06V833.77M766.46 851.06H777.06M766.46 833.77H777.06"/>
<path d="M832.78 872.95V858.55M827.48 872.95H838.08M827.48 858.55H838.08"/>
<path d="M893.8 878.13V870.07M888.5 878.13H899.1M888.5 870.07H899.1"/>
<path d="M954.82 888.85V879.58M949.52 888.85H960.12M949.52 879.58H960.12"/>
<path d="M1015.84 890.23V885.62M1010.54 890.23H1021.14M1010.54 885.62H1021.14"/>
<path d="M1076.85 892.54V889.08M1071.55 892.54H1082.15M1071.55 889.08H1082.15"/>
<path d="M1137.87 894.27V891.96M1132.57 894.27H1143.17M1132.57 891.96H1143.17"/>
<path d="M1198.89 895.42V893.11M1193.59 895.42H1204.19M1193.59 893.11H1204.19"/>
<polyline points="588.71,565.87 649.73,735.25 710.75,807.27 771.76,842.41 832.78,866.04 893.8,874.68 954.82,884.18 1015.84,887.93 1076.85,890.98 1137.87,893.11 1198.89,894.27" stroke-linejoin="round"/>
</g>
<g fill="#D95319">
<circle cx="588.71" cy="565.87" r="3.6"/>
<circle cx="649.73" cy="735.25" r="3.6"/>
<circle cx="710.75" cy="807.27" r="3.6"/>
<circle cx="771.76" cy="842.41" r="3.6"/>
<circle cx="832.78" cy="866.04" r="3.6"/>
<circle cx="893.8" cy="874.68" r="3.6"/>
<circle cx="954.82" cy="884.18" r="3.6"/>
<circle cx="1015.84" cy="887.93" r="3.6"/>
<circle cx="1076.85" cy="890.98" r="3.6"/>
<circle cx="1137.87" cy="893.11" r="3.6"/>
<circle cx="1198.89" cy="894.27" r="3.6"/>
</g>
<line x1="557.2" y1="495" x2="1230.4" y2="495" stroke="#141414" stroke-width="2"/>
<line x1="557.2" y1="898.3" x2="1230.4" y2="898.3" stroke="#262626" stroke-width="2"/>
<line x1="558.2" y1="495" x2="558.2" y2="899.5" stroke="#0072BD" stroke-width="2"/>
<line x1="1229.4" y1="494" x2="1229.4" y2="899.5" stroke="#D95319" stroke-width="2"/>
<text x="892.9" y="953" font-size="24" text-anchor="middle" fill="#262626">Number of binding events per cluster</text>
<text x="0" y="0" font-size="24" text-anchor="middle" fill="#0072BD" transform="translate(516.2 695.65) rotate(-90)">Rejected clusters (%)</text>
<text x="0" y="0" font-size="24" text-anchor="middle" fill="#D95319" transform="translate(1269.5 696.65) rotate(-90)">Number of clusters (%)</text>
<text x="0" y="0" font-size="55" text-anchor="start" fill="#1a1a1a" transform="translate(474.5 543.5) scale(1.04 1)">e</text>
<line x1="1409.12" y1="495" x2="1409.12" y2="898.3" stroke="#262626" stroke-opacity="0.15" stroke-width="2"/>
<line x1="1470.15" y1="495" x2="1470.15" y2="898.3" stroke="#262626" stroke-opacity="0.15" stroke-width="2"/>
<line x1="1531.19" y1="495" x2="1531.19" y2="898.3" stroke="#262626" stroke-opacity="0.15" stroke-width="2"/>
<line x1="1592.23" y1="495" x2="1592.23" y2="898.3" stroke="#262626" stroke-opacity="0.15" stroke-width="2"/>
<line x1="1653.26" y1="495" x2="1653.26" y2="898.3" stroke="#262626" stroke-opacity="0.15" stroke-width="2"/>
<line x1="1714.3" y1="495" x2="1714.3" y2="898.3" stroke="#262626" stroke-opacity="0.15" stroke-width="2"/>
<line x1="1775.34" y1="495" x2="1775.34" y2="898.3" stroke="#262626" stroke-opacity="0.15" stroke-width="2"/>
<line x1="1836.37" y1="495" x2="1836.37" y2="898.3" stroke="#262626" stroke-opacity="0.15" stroke-width="2"/>
<line x1="1897.41" y1="495" x2="1897.41" y2="898.3" stroke="#262626" stroke-opacity="0.15" stroke-width="2"/>
<line x1="1958.45" y1="495" x2="1958.45" y2="898.3" stroke="#262626" stroke-opacity="0.15" stroke-width="2"/>
<line x1="2019.48" y1="495" x2="2019.48" y2="898.3" stroke="#262626" stroke-opacity="0.15" stroke-width="2"/>
<line x1="1378.6" y1="808.68" x2="2050" y2="808.68" stroke="#262626" stroke-opacity="0.15" stroke-width="2"/>
<line x1="1378.6" y1="719.06" x2="2050" y2="719.06" stroke="#262626" stroke-opacity="0.15" stroke-width="2"/>
<line x1="1378.6" y1="629.43" x2="2050" y2="629.43" stroke="#262626" stroke-opacity="0.15" stroke-width="2"/>
<line x1="1378.6" y1="539.81" x2="2050" y2="539.81" stroke="#262626" stroke-opacity="0.15" stroke-width="2"/>
<line x1="1409.12" y1="898.3" x2="1409.12" y2="890.8" stroke="#262626" stroke-width="2"/>
<line x1="1409.12" y1="495" x2="1409.12" y2="502.5" stroke="#262626" stroke-width="2"/>
<text transform="translate(1406.8 925.6) scale(1.0 1.045)" font-size="24" text-anchor="middle" fill="#262626">5</text>
<line x1="1470.15" y1="898.3" x2="1470.15" y2="890.8" stroke="#262626" stroke-width="2"/>
<line x1="1470.15" y1="495" x2="1470.15" y2="502.5" stroke="#262626" stroke-width="2"/>
<text transform="translate(1467.6 925.6) scale(1.0 1.045)" font-size="24" text-anchor="middle" fill="#262626">6</text>
<line x1="1531.19" y1="898.3" x2="1531.19" y2="890.8" stroke="#262626" stroke-width="2"/>
<line x1="1531.19" y1="495" x2="1531.19" y2="502.5" stroke="#262626" stroke-width="2"/>
<text transform="translate(1528.3 925.6) scale(1.0 1.045)" font-size="24" text-anchor="middle" fill="#262626">7</text>
<line x1="1592.23" y1="898.3" x2="1592.23" y2="890.8" stroke="#262626" stroke-width="2"/>
<line x1="1592.23" y1="495" x2="1592.23" y2="502.5" stroke="#262626" stroke-width="2"/>
<text transform="translate(1589.7 925.6) scale(1.0 1.045)" font-size="24" text-anchor="middle" fill="#262626">8</text>
<line x1="1653.26" y1="898.3" x2="1653.26" y2="890.8" stroke="#262626" stroke-width="2"/>
<line x1="1653.26" y1="495" x2="1653.26" y2="502.5" stroke="#262626" stroke-width="2"/>
<text transform="translate(1649.8 925.6) scale(1.0 1.045)" font-size="24" text-anchor="middle" fill="#262626">9</text>
<line x1="1714.3" y1="898.3" x2="1714.3" y2="890.8" stroke="#262626" stroke-width="2"/>
<line x1="1714.3" y1="495" x2="1714.3" y2="502.5" stroke="#262626" stroke-width="2"/>
<text transform="translate(1711.2 925.6) scale(1.0 1.045)" font-size="24" text-anchor="middle" fill="#262626">10</text>
<line x1="1775.34" y1="898.3" x2="1775.34" y2="890.8" stroke="#262626" stroke-width="2"/>
<line x1="1775.34" y1="495" x2="1775.34" y2="502.5" stroke="#262626" stroke-width="2"/>
<text transform="translate(1770.3 925.6) scale(1.0 1.045)" font-size="24" text-anchor="middle" fill="#262626">11</text>
<line x1="1836.37" y1="898.3" x2="1836.37" y2="890.8" stroke="#262626" stroke-width="2"/>
<line x1="1836.37" y1="495" x2="1836.37" y2="502.5" stroke="#262626" stroke-width="2"/>
<text transform="translate(1833 925.6) scale(1.0 1.045)" font-size="24" text-anchor="middle" fill="#262626">12</text>
<line x1="1897.41" y1="898.3" x2="1897.41" y2="890.8" stroke="#262626" stroke-width="2"/>
<line x1="1897.41" y1="495" x2="1897.41" y2="502.5" stroke="#262626" stroke-width="2"/>
<text transform="translate(1893.2 925.6) scale(1.0 1.045)" font-size="24" text-anchor="middle" fill="#262626">13</text>
<line x1="1958.45" y1="898.3" x2="1958.45" y2="890.8" stroke="#262626" stroke-width="2"/>
<line x1="1958.45" y1="495" x2="1958.45" y2="502.5" stroke="#262626" stroke-width="2"/>
<text transform="translate(1954.1 925.6) scale(1.0 1.045)" font-size="24" text-anchor="middle" fill="#262626">14</text>
<line x1="2019.48" y1="898.3" x2="2019.48" y2="890.8" stroke="#262626" stroke-width="2"/>
<line x1="2019.48" y1="495" x2="2019.48" y2="502.5" stroke="#262626" stroke-width="2"/>
<text transform="translate(2015.4 925.6) scale(1.0 1.045)" font-size="24" text-anchor="middle" fill="#262626">15</text>
<line x1="1378.6" y1="808.68" x2="1386.1" y2="808.68" stroke="#262626" stroke-width="2"/>
<line x1="2050" y1="808.68" x2="2042.5" y2="808.68" stroke="#262626" stroke-width="2"/>
<text transform="translate(1373.8 818.48) scale(1.0 1.045)" font-size="24" text-anchor="end" fill="#262626">93</text>
<line x1="1378.6" y1="719.06" x2="1386.1" y2="719.06" stroke="#262626" stroke-width="2"/>
<line x1="2050" y1="719.06" x2="2042.5" y2="719.06" stroke="#262626" stroke-width="2"/>
<text transform="translate(1373.8 728.86) scale(1.0 1.045)" font-size="24" text-anchor="end" fill="#262626">95</text>
<line x1="1378.6" y1="629.43" x2="1386.1" y2="629.43" stroke="#262626" stroke-width="2"/>
<line x1="2050" y1="629.43" x2="2042.5" y2="629.43" stroke="#262626" stroke-width="2"/>
<text transform="translate(1373.8 639.23) scale(1.0 1.045)" font-size="24" text-anchor="end" fill="#262626">97</text>
<line x1="1378.6" y1="539.81" x2="1386.1" y2="539.81" stroke="#262626" stroke-width="2"/>
<line x1="2050" y1="539.81" x2="2042.5" y2="539.81" stroke="#262626" stroke-width="2"/>
<text transform="translate(1373.8 549.61) scale(1.0 1.045)" font-size="24" text-anchor="end" fill="#262626">99</text>
<g clip-path="url(#clipf)">
<g stroke="#0072BD" stroke-width="2.4" fill="none">
<path d="M1409.12 880.82V732.95M1403.82 880.82H1414.42M1403.82 732.95H1414.42"/>
<path d="M1470.15 673.35V592.24M1464.85 673.35H1475.45M1464.85 592.24H1475.45"/>
<path d="M1531.19 581.04V539.36M1525.89 581.04H1536.49M1525.89 539.36H1536.49"/>
<path d="M1592.23 538.91V516.96M1586.93 538.91H1597.53M1586.93 516.96H1597.53"/>
<path d="M1653.26 518.75V505.31M1647.96 518.75H1658.56M1647.96 505.31H1658.56"/>
<path d="M1714.3 507.1V500.38M1709 507.1H1719.6M1709 500.38H1719.6"/>
<path d="M1775.34 500.83V497.24M1770.04 500.83H1780.64M1770.04 497.24H1780.64"/>
<path d="M1836.37 498.58V495.9M1831.07 498.58H1841.67M1831.07 495.9H1841.67"/>
<path d="M1897.41 498.14V495.45M1892.11 498.14H1902.71M1892.11 495.45H1902.71"/>
<path d="M1958.45 497.24V495.45M1953.15 497.24H1963.75M1953.15 495.45H1963.75"/>
<path d="M2019.48 496.34V495.45M2014.18 496.34H2024.78M2014.18 495.45H2024.78"/>
<polyline points="1409.12,806.89 1470.15,632.57 1531.19,560.42 1592.23,528.16 1653.26,512.03 1714.3,503.51 1775.34,499.03 1836.37,497.24 1897.41,496.79 1958.45,496.34 2019.48,495.9" stroke-linejoin="round"/>
</g>
<g fill="#0072BD">
<circle cx="1409.12" cy="806.89" r="3.6"/>
<circle cx="1470.15" cy="632.57" r="3.6"/>
<circle cx="1531.19" cy="560.42" r="3.6"/>
<circle cx="1592.23" cy="528.16" r="3.6"/>
<circle cx="1653.26" cy="512.03" r="3.6"/>
<circle cx="1714.3" cy="503.51" r="3.6"/>
<circle cx="1775.34" cy="499.03" r="3.6"/>
<circle cx="1836.37" cy="497.24" r="3.6"/>
<circle cx="1897.41" cy="496.79" r="3.6"/>
<circle cx="1958.45" cy="496.34" r="3.6"/>
<circle cx="2019.48" cy="495.9" r="3.6"/>
</g>
</g>
<rect x="1378.6" y="495" width="671.4" height="403.3" fill="none" stroke="#262626" stroke-width="2"/>
<line x1="1377.6" y1="495" x2="2051" y2="495" stroke="#141414" stroke-width="2"/>
<text x="1713.4" y="953" font-size="24" text-anchor="middle" fill="#262626">Minimum number of binding events per cluster</text>
<text x="0" y="0" font-size="24" text-anchor="middle" fill="#262626" transform="translate(1336.2 694.65) rotate(-90)">Rejected clusters (%)</text>
<text x="0" y="0" font-size="55" text-anchor="start" fill="#1a1a1a" transform="translate(1301.6 546) scale(1.12 1.025)">f</text>
</svg></body></html>
